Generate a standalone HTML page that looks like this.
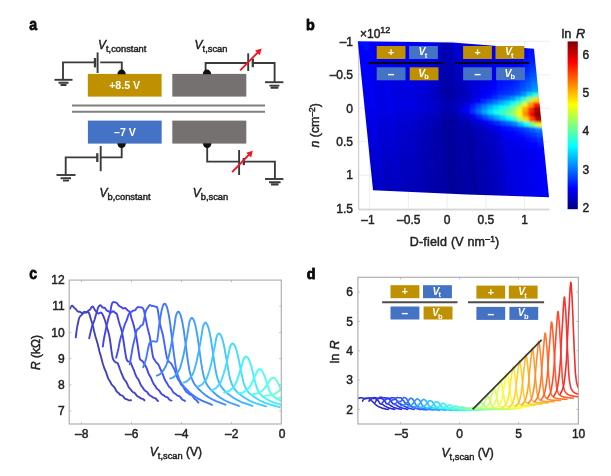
<!DOCTYPE html>
<html><head><meta charset="utf-8"><title>figure</title>
<style>html,body{margin:0;padding:0;background:#fff}svg{display:block;filter:blur(0.7px)}text{font-family:"Liberation Sans",sans-serif}text.k{stroke:#222;stroke-width:0.45px}</style></head>
<body>
<svg width="611" height="476" viewBox="0 0 611 476" font-family="Liberation Sans, sans-serif">
<rect width="611" height="476" fill="#fff"/>
<g id="pa"><rect x="87.8" y="73.9" width="73.8" height="22.7" fill="#BF9000"/><rect x="172.3" y="73.9" width="74" height="22.7" fill="#767171"/><rect x="87.9" y="120.6" width="73.8" height="23" fill="#4472C4"/><rect x="172.3" y="120.6" width="74" height="23" fill="#767171"/><path d="M72 105.5H265M72 111.8H265" stroke="#7f7f7f" stroke-width="1.9" fill="none"/><text x="124.6" y="89.4" font-size="10.6" font-weight="bold" fill="#fff" text-anchor="middle">+8.5 V</text><text x="125" y="136" font-size="10.6" font-weight="bold" fill="#fff" text-anchor="middle">–7 V</text><path d="M63 80V62.4H95M100.2 62.4H121.8V72" stroke="#3a3a3a" fill="none" stroke-width="1.85"/><path d="M95 58V67.4" stroke="#3a3a3a" fill="none" stroke-width="2.3"/><path d="M97.6 52.4V73" stroke="#3a3a3a" fill="none" stroke-width="1.9"/><path d="M54.5 79.8H72.5" stroke="#3a3a3a" fill="none" stroke-width="1.9"/><path d="M58.5 82.8H68.5M60.5 85H66.5" stroke="#3a3a3a" fill="none" stroke-width="1.9"/><path d="M117.4 74.2A4.2 4.6 0 0 1 125.8 74.2Z" fill="#111"/><path d="M65.7 175V157.4H97.3M100.7 157.4H121.7V146" stroke="#3a3a3a" fill="none" stroke-width="1.85"/><path d="M97.3 153.2V162" stroke="#3a3a3a" fill="none" stroke-width="2.3"/><path d="M100.7 146V171.2" stroke="#3a3a3a" fill="none" stroke-width="1.9"/><path d="M56.5 175H75.5" stroke="#3a3a3a" fill="none" stroke-width="1.9"/><path d="M60.6 178.3H71M63 180.6H69" stroke="#3a3a3a" fill="none" stroke-width="1.9"/><path d="M117.3 143.3A4.3 4.8 0 0 0 125.9 143.3Z" fill="#111"/><path d="M205.6 72V63H248.2M252.8 63H274.6V82.2" stroke="#3a3a3a" fill="none" stroke-width="1.85"/><path d="M248.2 53.3V71" stroke="#3a3a3a" fill="none" stroke-width="1.9"/><path d="M252.8 58.6V67.2" stroke="#3a3a3a" fill="none" stroke-width="2.3"/><path d="M265 82.2H283.4" stroke="#3a3a3a" fill="none" stroke-width="1.9"/><path d="M269.5 85.6H279.4M270.6 87.7H278.4" stroke="#3a3a3a" fill="none" stroke-width="1.9"/><path d="M202.8 74.2A4.2 4.6 0 0 1 211.2 74.2Z" fill="#111"/><path d="M240.2 70.4L258.6 51.6" stroke="#f5141e" stroke-width="1.9" fill="none"/><path d="M261.6 48.4L259.9 55.2L255.1 50.4Z" fill="#f5141e"/><path d="M207.2 146V161.6H239.1M243.8 161.6H274.9V179" stroke="#3a3a3a" fill="none" stroke-width="1.85"/><path d="M239.1 150V175" stroke="#3a3a3a" fill="none" stroke-width="1.9"/><path d="M243.8 158V165.2" stroke="#3a3a3a" fill="none" stroke-width="2.3"/><path d="M265 179H283.4" stroke="#3a3a3a" fill="none" stroke-width="1.9"/><path d="M269 182.2H280.6M271 184.5H278.5" stroke="#3a3a3a" fill="none" stroke-width="1.9"/><path d="M202.9 143.3A4.3 4.8 0 0 0 211.5 143.3Z" fill="#111"/><path d="M232.1 172.2L249.8 153.8" stroke="#f5141e" stroke-width="1.9" fill="none"/><path d="M252.8 150.7L251.1 157.5L246.3 152.7Z" fill="#f5141e"/><text x="98" y="48.8" font-size="12" class="k" fill="#222222"><tspan font-style="italic">V</tspan><tspan font-size="9.3" dy="3">t,constant</tspan></text><text x="194.6" y="48.8" font-size="12" class="k" fill="#222222"><tspan font-style="italic">V</tspan><tspan font-size="9.3" dy="3">t,scan</tspan></text><text x="99.6" y="196.6" font-size="12" class="k" fill="#222222"><tspan font-style="italic">V</tspan><tspan font-size="9.3" dy="3">b,constant</tspan></text><text x="192.8" y="196.6" font-size="12" class="k" fill="#222222"><tspan font-style="italic">V</tspan><tspan font-size="9.3" dy="3">b,scan</tspan></text></g>
<g id="pb"><path d="M369.6 41.2V209.8M408.4 41.2V209.8M447.1 41.2V209.8M485.9 41.2V209.8M524.6 41.2V209.8M358.7 41.3H549.5M358.7 74.8H549.5M358.7 108.2H549.5M358.7 141.7H549.5M358.7 175.1H549.5M358.7 208.6H549.5" stroke="#e9e9e9" stroke-width="0.8" fill="none"/><path d="M358.7 41.2V209.8H549.5" stroke="#bdbdbd" stroke-width="0.9" fill="none"/><defs><clipPath id="hc"><polygon points="357.8,41.2 453.0,42.4 534.0,48.8 549.0,197.3 467.0,194.6 373.0,190.3"/></clipPath><filter id="hb" x="-5%" y="-5%" width="110%" height="110%"><feGaussianBlur stdDeviation="1.0"/></filter></defs><g clip-path="url(#hc)"><g filter="url(#hb)" stroke-width="1.1" stroke-linejoin="round"><polygon points="351.3,36.2 357.3,36.2 357.8,41.2 351.9,41.1" fill="#001fff" stroke="#001fff"/><polygon points="351.9,41.1 357.8,41.2 358.3,46.2 352.4,46.1" fill="#0018ff" stroke="#0018ff"/><polygon points="352.4,46.1 358.3,46.2 358.8,51.1 352.9,51.1" fill="#0013ff" stroke="#0013ff"/><polygon points="352.9,51.1 358.8,51.1 359.3,56.1 353.4,56" fill="#000eff" stroke="#000eff"/><polygon points="353.4,56 359.3,56.1 359.8,61.1 353.9,61" fill="#000bff" stroke="#000bff"/><polygon points="353.9,61 359.8,61.1 360.3,66.1 354.4,65.9" fill="#0008ff" stroke="#0008ff"/><polygon points="354.4,65.9 360.3,66.1 360.8,71 354.9,70.9" fill="#0006ff" stroke="#0006ff"/><polygon points="354.9,70.9 360.8,71 361.3,76 355.4,75.9" fill="#0004ff" stroke="#0004ff"/><polygon points="355.4,75.9 361.3,76 361.9,81 355.9,80.8" fill="#0003ff" stroke="#0003ff"/><polygon points="355.9,80.8 361.9,81 362.4,85.9 356.4,85.8" fill="#0002ff" stroke="#0002ff"/><polygon points="356.4,85.8 362.4,85.9 362.9,90.9 356.9,90.8" fill="#0001ff" stroke="#0001ff"/><polygon points="356.9,90.8 362.9,90.9 363.4,95.9 357.5,95.7" fill="#0000ff" stroke="#0000ff"/><polygon points="357.5,95.7 363.4,95.9 363.9,100.8 358,100.7" fill="#0000fe" stroke="#0000fe"/><polygon points="358,100.7 363.9,100.8 364.4,105.8 358.5,105.7" fill="#0000fe" stroke="#0000fe"/><polygon points="358.5,105.7 364.4,105.8 364.9,110.8 359,110.6" fill="#0000fc" stroke="#0000fc"/><polygon points="359,110.6 364.9,110.8 365.4,115.8 359.5,115.6" fill="#0000f8" stroke="#0000f8"/><polygon points="359.5,115.6 365.4,115.8 365.9,120.7 360,120.5" fill="#0000f3" stroke="#0000f3"/><polygon points="360,120.5 365.9,120.7 366.4,125.7 360.5,125.5" fill="#0000f0" stroke="#0000f0"/><polygon points="360.5,125.5 366.4,125.7 366.9,130.7 361,130.5" fill="#0000ed" stroke="#0000ed"/><polygon points="361,130.5 366.9,130.7 367.4,135.6 361.5,135.4" fill="#0000eb" stroke="#0000eb"/><polygon points="361.5,135.4 367.4,135.6 367.9,140.6 362,140.4" fill="#0000e8" stroke="#0000e8"/><polygon points="362,140.4 367.9,140.6 368.4,145.6 362.5,145.4" fill="#0000e6" stroke="#0000e6"/><polygon points="362.5,145.4 368.4,145.6 368.9,150.5 363.1,150.3" fill="#0000e4" stroke="#0000e4"/><polygon points="363.1,150.3 368.9,150.5 369.5,155.5 363.6,155.3" fill="#0000e1" stroke="#0000e1"/><polygon points="363.6,155.3 369.5,155.5 370,160.5 364.1,160.2" fill="#0000df" stroke="#0000df"/><polygon points="364.1,160.2 370,160.5 370.5,165.5 364.6,165.2" fill="#0000dc" stroke="#0000dc"/><polygon points="364.6,165.2 370.5,165.5 371,170.4 365.1,170.2" fill="#0000da" stroke="#0000da"/><polygon points="365.1,170.2 371,170.4 371.5,175.4 365.6,175.1" fill="#0000d8" stroke="#0000d8"/><polygon points="365.6,175.1 371.5,175.4 372,180.4 366.1,180.1" fill="#0000d5" stroke="#0000d5"/><polygon points="366.1,180.1 372,180.4 372.5,185.3 366.6,185.1" fill="#0000d3" stroke="#0000d3"/><polygon points="366.6,185.1 372.5,185.3 373,190.3 367.1,190" fill="#0000d1" stroke="#0000d1"/><polygon points="367.1,190 373,190.3 373.5,195.3 367.6,195" fill="#0000ce" stroke="#0000ce"/><polygon points="357.3,36.2 363.2,36.3 363.8,41.3 357.8,41.2" fill="#0010ff" stroke="#0010ff"/><polygon points="357.8,41.2 363.8,41.3 364.3,46.3 358.3,46.2" fill="#0009ff" stroke="#0009ff"/><polygon points="358.3,46.2 364.3,46.3 364.8,51.2 358.8,51.1" fill="#0003ff" stroke="#0003ff"/><polygon points="358.8,51.1 364.8,51.2 365.3,56.2 359.3,56.1" fill="#0000fe" stroke="#0000fe"/><polygon points="359.3,56.1 365.3,56.2 365.8,61.2 359.8,61.1" fill="#0000fb" stroke="#0000fb"/><polygon points="359.8,61.1 365.8,61.2 366.3,66.2 360.3,66.1" fill="#0000f8" stroke="#0000f8"/><polygon points="360.3,66.1 366.3,66.2 366.8,71.1 360.8,71" fill="#0000f6" stroke="#0000f6"/><polygon points="360.8,71 366.8,71.1 367.3,76.1 361.3,76" fill="#0000f4" stroke="#0000f4"/><polygon points="361.3,76 367.3,76.1 367.8,81.1 361.9,81" fill="#0000f3" stroke="#0000f3"/><polygon points="361.9,81 367.8,81.1 368.3,86.1 362.4,85.9" fill="#0000f1" stroke="#0000f1"/><polygon points="362.4,85.9 368.3,86.1 368.8,91 362.9,90.9" fill="#0000f1" stroke="#0000f1"/><polygon points="362.9,90.9 368.8,91 369.3,96 363.4,95.9" fill="#0000f0" stroke="#0000f0"/><polygon points="363.4,95.9 369.3,96 369.8,101 363.9,100.8" fill="#0000ef" stroke="#0000ef"/><polygon points="363.9,100.8 369.8,101 370.3,106 364.4,105.8" fill="#0000ef" stroke="#0000ef"/><polygon points="364.4,105.8 370.3,106 370.8,110.9 364.9,110.8" fill="#0000ee" stroke="#0000ee"/><polygon points="364.9,110.8 370.8,110.9 371.3,115.9 365.4,115.8" fill="#0000ea" stroke="#0000ea"/><polygon points="365.4,115.8 371.3,115.9 371.8,120.9 365.9,120.7" fill="#0000e5" stroke="#0000e5"/><polygon points="365.9,120.7 371.8,120.9 372.3,125.9 366.4,125.7" fill="#0000e2" stroke="#0000e2"/><polygon points="366.4,125.7 372.3,125.9 372.8,130.9 366.9,130.7" fill="#0000df" stroke="#0000df"/><polygon points="366.9,130.7 372.8,130.9 373.3,135.8 367.4,135.6" fill="#0000dd" stroke="#0000dd"/><polygon points="367.4,135.6 373.3,135.8 373.8,140.8 367.9,140.6" fill="#0000db" stroke="#0000db"/><polygon points="367.9,140.6 373.8,140.8 374.3,145.8 368.4,145.6" fill="#0000d8" stroke="#0000d8"/><polygon points="368.4,145.6 374.3,145.8 374.8,150.8 368.9,150.5" fill="#0000d6" stroke="#0000d6"/><polygon points="368.9,150.5 374.8,150.8 375.3,155.7 369.5,155.5" fill="#0000d4" stroke="#0000d4"/><polygon points="369.5,155.5 375.3,155.7 375.9,160.7 370,160.5" fill="#0000d2" stroke="#0000d2"/><polygon points="370,160.5 375.9,160.7 376.4,165.7 370.5,165.5" fill="#0000cf" stroke="#0000cf"/><polygon points="370.5,165.5 376.4,165.7 376.9,170.7 371,170.4" fill="#0000cd" stroke="#0000cd"/><polygon points="371,170.4 376.9,170.7 377.4,175.6 371.5,175.4" fill="#0000cb" stroke="#0000cb"/><polygon points="371.5,175.4 377.4,175.6 377.9,180.6 372,180.4" fill="#0000c9" stroke="#0000c9"/><polygon points="372,180.4 377.9,180.6 378.4,185.6 372.5,185.3" fill="#0000c7" stroke="#0000c7"/><polygon points="372.5,185.3 378.4,185.6 378.9,190.6 373,190.3" fill="#0000c4" stroke="#0000c4"/><polygon points="373,190.3 378.9,190.6 379.4,195.5 373.5,195.3" fill="#0000c2" stroke="#0000c2"/><polygon points="363.2,36.3 369.2,36.4 369.7,41.4 363.8,41.3" fill="#0014ff" stroke="#0014ff"/><polygon points="363.8,41.3 369.7,41.4 370.2,46.3 364.3,46.3" fill="#000dff" stroke="#000dff"/><polygon points="364.3,46.3 370.2,46.3 370.7,51.3 364.8,51.2" fill="#0008ff" stroke="#0008ff"/><polygon points="364.8,51.2 370.7,51.3 371.2,56.3 365.3,56.2" fill="#0003ff" stroke="#0003ff"/><polygon points="365.3,56.2 371.2,56.3 371.7,61.3 365.8,61.2" fill="#0000ff" stroke="#0000ff"/><polygon points="365.8,61.2 371.7,61.3 372.2,66.3 366.3,66.2" fill="#0000fc" stroke="#0000fc"/><polygon points="366.3,66.2 372.2,66.3 372.7,71.2 366.8,71.1" fill="#0000fa" stroke="#0000fa"/><polygon points="366.8,71.1 372.7,71.2 373.2,76.2 367.3,76.1" fill="#0000f8" stroke="#0000f8"/><polygon points="367.3,76.1 373.2,76.2 373.7,81.2 367.8,81.1" fill="#0000f7" stroke="#0000f7"/><polygon points="367.8,81.1 373.7,81.2 374.2,86.2 368.3,86.1" fill="#0000f6" stroke="#0000f6"/><polygon points="368.3,86.1 374.2,86.2 374.7,91.2 368.8,91" fill="#0000f5" stroke="#0000f5"/><polygon points="368.8,91 374.7,91.2 375.2,96.2 369.3,96" fill="#0000f4" stroke="#0000f4"/><polygon points="369.3,96 375.2,96.2 375.7,101.1 369.8,101" fill="#0000f4" stroke="#0000f4"/><polygon points="369.8,101 375.7,101.1 376.2,106.1 370.3,106" fill="#0000f4" stroke="#0000f4"/><polygon points="370.3,106 376.2,106.1 376.7,111.1 370.8,110.9" fill="#0000f4" stroke="#0000f4"/><polygon points="370.8,110.9 376.7,111.1 377.2,116.1 371.3,115.9" fill="#0000ef" stroke="#0000ef"/><polygon points="371.3,115.9 377.2,116.1 377.7,121.1 371.8,120.9" fill="#0000ea" stroke="#0000ea"/><polygon points="371.8,120.9 377.7,121.1 378.2,126.1 372.3,125.9" fill="#0000e7" stroke="#0000e7"/><polygon points="372.3,125.9 378.2,126.1 378.7,131 372.8,130.9" fill="#0000e5" stroke="#0000e5"/><polygon points="372.8,130.9 378.7,131 379.2,136 373.3,135.8" fill="#0000e2" stroke="#0000e2"/><polygon points="373.3,135.8 379.2,136 379.7,141 373.8,140.8" fill="#0000e0" stroke="#0000e0"/><polygon points="373.8,140.8 379.7,141 380.2,146 374.3,145.8" fill="#0000de" stroke="#0000de"/><polygon points="374.3,145.8 380.2,146 380.7,151 374.8,150.8" fill="#0000dc" stroke="#0000dc"/><polygon points="374.8,150.8 380.7,151 381.2,156 375.3,155.7" fill="#0000da" stroke="#0000da"/><polygon points="375.3,155.7 381.2,156 381.7,160.9 375.9,160.7" fill="#0000d8" stroke="#0000d8"/><polygon points="375.9,160.7 381.7,160.9 382.2,165.9 376.4,165.7" fill="#0000d6" stroke="#0000d6"/><polygon points="376.4,165.7 382.2,165.9 382.7,170.9 376.9,170.7" fill="#0000d3" stroke="#0000d3"/><polygon points="376.9,170.7 382.7,170.9 383.2,175.9 377.4,175.6" fill="#0000d1" stroke="#0000d1"/><polygon points="377.4,175.6 383.2,175.9 383.7,180.9 377.9,180.6" fill="#0000cf" stroke="#0000cf"/><polygon points="377.9,180.6 383.7,180.9 384.2,185.9 378.4,185.6" fill="#0000cd" stroke="#0000cd"/><polygon points="378.4,185.6 384.2,185.9 384.8,190.8 378.9,190.6" fill="#0000cb" stroke="#0000cb"/><polygon points="378.9,190.6 384.8,190.8 385.3,195.8 379.4,195.5" fill="#0000c9" stroke="#0000c9"/><polygon points="369.2,36.4 375.2,36.4 375.7,41.4 369.7,41.4" fill="#0005ff" stroke="#0005ff"/><polygon points="369.7,41.4 375.7,41.4 376.1,46.4 370.2,46.3" fill="#0000fd" stroke="#0000fd"/><polygon points="370.2,46.3 376.1,46.4 376.6,51.4 370.7,51.3" fill="#0000f8" stroke="#0000f8"/><polygon points="370.7,51.3 376.6,51.4 377.1,56.4 371.2,56.3" fill="#0000f3" stroke="#0000f3"/><polygon points="371.2,56.3 377.1,56.4 377.6,61.4 371.7,61.3" fill="#0000f0" stroke="#0000f0"/><polygon points="371.7,61.3 377.6,61.4 378.1,66.4 372.2,66.3" fill="#0000ed" stroke="#0000ed"/><polygon points="372.2,66.3 378.1,66.4 378.6,71.4 372.7,71.2" fill="#0000eb" stroke="#0000eb"/><polygon points="372.7,71.2 378.6,71.4 379.1,76.4 373.2,76.2" fill="#0000e9" stroke="#0000e9"/><polygon points="373.2,76.2 379.1,76.4 379.6,81.3 373.7,81.2" fill="#0000e8" stroke="#0000e8"/><polygon points="373.7,81.2 379.6,81.3 380.1,86.3 374.2,86.2" fill="#0000e7" stroke="#0000e7"/><polygon points="374.2,86.2 380.1,86.3 380.6,91.3 374.7,91.2" fill="#0000e6" stroke="#0000e6"/><polygon points="374.7,91.2 380.6,91.3 381.1,96.3 375.2,96.2" fill="#0000e6" stroke="#0000e6"/><polygon points="375.2,96.2 381.1,96.3 381.6,101.3 375.7,101.1" fill="#0000e5" stroke="#0000e5"/><polygon points="375.7,101.1 381.6,101.3 382.1,106.3 376.2,106.1" fill="#0000e6" stroke="#0000e6"/><polygon points="376.2,106.1 382.1,106.3 382.6,111.3 376.7,111.1" fill="#0000e6" stroke="#0000e6"/><polygon points="376.7,111.1 382.6,111.3 383.1,116.3 377.2,116.1" fill="#0000e1" stroke="#0000e1"/><polygon points="377.2,116.1 383.1,116.3 383.6,121.3 377.7,121.1" fill="#0000dc" stroke="#0000dc"/><polygon points="377.7,121.1 383.6,121.3 384.1,126.2 378.2,126.1" fill="#0000d9" stroke="#0000d9"/><polygon points="378.2,126.1 384.1,126.2 384.6,131.2 378.7,131" fill="#0000d7" stroke="#0000d7"/><polygon points="378.7,131 384.6,131.2 385.1,136.2 379.2,136" fill="#0000d4" stroke="#0000d4"/><polygon points="379.2,136 385.1,136.2 385.6,141.2 379.7,141" fill="#0000d2" stroke="#0000d2"/><polygon points="379.7,141 385.6,141.2 386.1,146.2 380.2,146" fill="#0000d0" stroke="#0000d0"/><polygon points="380.2,146 386.1,146.2 386.6,151.2 380.7,151" fill="#0000ce" stroke="#0000ce"/><polygon points="380.7,151 386.6,151.2 387.1,156.2 381.2,156" fill="#0000cc" stroke="#0000cc"/><polygon points="381.2,156 387.1,156.2 387.6,161.2 381.7,160.9" fill="#0000ca" stroke="#0000ca"/><polygon points="381.7,160.9 387.6,161.2 388.1,166.2 382.2,165.9" fill="#0000c8" stroke="#0000c8"/><polygon points="382.2,165.9 388.1,166.2 388.6,171.1 382.7,170.9" fill="#0000c6" stroke="#0000c6"/><polygon points="382.7,170.9 388.6,171.1 389.1,176.1 383.2,175.9" fill="#0000c4" stroke="#0000c4"/><polygon points="383.2,175.9 389.1,176.1 389.6,181.1 383.7,180.9" fill="#0000c2" stroke="#0000c2"/><polygon points="383.7,180.9 389.6,181.1 390.1,186.1 384.2,185.9" fill="#0000c0" stroke="#0000c0"/><polygon points="384.2,185.9 390.1,186.1 390.6,191.1 384.8,190.8" fill="#0000bf" stroke="#0000bf"/><polygon points="384.8,190.8 390.6,191.1 391.1,196.1 385.3,195.8" fill="#0000bd" stroke="#0000bd"/><polygon points="375.2,36.4 381.1,36.5 381.6,41.5 375.7,41.4" fill="#0004ff" stroke="#0004ff"/><polygon points="375.7,41.4 381.6,41.5 382.1,46.5 376.1,46.4" fill="#0000fc" stroke="#0000fc"/><polygon points="376.1,46.4 382.1,46.5 382.6,51.5 376.6,51.4" fill="#0000f7" stroke="#0000f7"/><polygon points="376.6,51.4 382.6,51.5 383.1,56.5 377.1,56.4" fill="#0000f3" stroke="#0000f3"/><polygon points="377.1,56.4 383.1,56.5 383.6,61.5 377.6,61.4" fill="#0000ef" stroke="#0000ef"/><polygon points="377.6,61.4 383.6,61.5 384.1,66.5 378.1,66.4" fill="#0000ec" stroke="#0000ec"/><polygon points="378.1,66.4 384.1,66.5 384.6,71.5 378.6,71.4" fill="#0000ea" stroke="#0000ea"/><polygon points="378.6,71.4 384.6,71.5 385.1,76.5 379.1,76.4" fill="#0000e9" stroke="#0000e9"/><polygon points="379.1,76.4 385.1,76.5 385.6,81.5 379.6,81.3" fill="#0000e7" stroke="#0000e7"/><polygon points="379.6,81.3 385.6,81.5 386.1,86.5 380.1,86.3" fill="#0000e6" stroke="#0000e6"/><polygon points="380.1,86.3 386.1,86.5 386.6,91.5 380.6,91.3" fill="#0000e5" stroke="#0000e5"/><polygon points="380.6,91.3 386.6,91.5 387.1,96.5 381.1,96.3" fill="#0000e5" stroke="#0000e5"/><polygon points="381.1,96.3 387.1,96.5 387.6,101.5 381.6,101.3" fill="#0000e5" stroke="#0000e5"/><polygon points="381.6,101.3 387.6,101.5 388.1,106.4 382.1,106.3" fill="#0000e6" stroke="#0000e6"/><polygon points="382.1,106.3 388.1,106.4 388.6,111.4 382.6,111.3" fill="#0000e6" stroke="#0000e6"/><polygon points="382.6,111.3 388.6,111.4 389.1,116.4 383.1,116.3" fill="#0000e1" stroke="#0000e1"/><polygon points="383.1,116.3 389.1,116.4 389.5,121.4 383.6,121.3" fill="#0000dc" stroke="#0000dc"/><polygon points="383.6,121.3 389.5,121.4 390,126.4 384.1,126.2" fill="#0000d9" stroke="#0000d9"/><polygon points="384.1,126.2 390,126.4 390.5,131.4 384.6,131.2" fill="#0000d6" stroke="#0000d6"/><polygon points="384.6,131.2 390.5,131.4 391,136.4 385.1,136.2" fill="#0000d4" stroke="#0000d4"/><polygon points="385.1,136.2 391,136.4 391.5,141.4 385.6,141.2" fill="#0000d2" stroke="#0000d2"/><polygon points="385.6,141.2 391.5,141.4 392,146.4 386.1,146.2" fill="#0000d0" stroke="#0000d0"/><polygon points="386.1,146.2 392,146.4 392.5,151.4 386.6,151.2" fill="#0000ce" stroke="#0000ce"/><polygon points="386.6,151.2 392.5,151.4 393,156.4 387.1,156.2" fill="#0000cc" stroke="#0000cc"/><polygon points="387.1,156.2 393,156.4 393.5,161.4 387.6,161.2" fill="#0000ca" stroke="#0000ca"/><polygon points="387.6,161.2 393.5,161.4 394,166.4 388.1,166.2" fill="#0000c8" stroke="#0000c8"/><polygon points="388.1,166.2 394,166.4 394.5,171.4 388.6,171.1" fill="#0000c6" stroke="#0000c6"/><polygon points="388.6,171.1 394.5,171.4 395,176.4 389.1,176.1" fill="#0000c5" stroke="#0000c5"/><polygon points="389.1,176.1 395,176.4 395.5,181.4 389.6,181.1" fill="#0000c3" stroke="#0000c3"/><polygon points="389.6,181.1 395.5,181.4 396,186.4 390.1,186.1" fill="#0000c1" stroke="#0000c1"/><polygon points="390.1,186.1 396,186.4 396.5,191.4 390.6,191.1" fill="#0000bf" stroke="#0000bf"/><polygon points="390.6,191.1 396.5,191.4 397,196.4 391.1,196.1" fill="#0000be" stroke="#0000be"/><polygon points="381.1,36.5 387.1,36.6 387.6,41.6 381.6,41.5" fill="#0009ff" stroke="#0009ff"/><polygon points="381.6,41.5 387.6,41.6 388,46.6 382.1,46.5" fill="#0002ff" stroke="#0002ff"/><polygon points="382.1,46.5 388,46.6 388.5,51.6 382.6,51.5" fill="#0000fc" stroke="#0000fc"/><polygon points="382.6,51.5 388.5,51.6 389,56.6 383.1,56.5" fill="#0000f7" stroke="#0000f7"/><polygon points="383.1,56.5 389,56.6 389.5,61.6 383.6,61.5" fill="#0000f4" stroke="#0000f4"/><polygon points="383.6,61.5 389.5,61.6 390,66.6 384.1,66.5" fill="#0000f1" stroke="#0000f1"/><polygon points="384.1,66.5 390,66.6 390.5,71.6 384.6,71.5" fill="#0000ef" stroke="#0000ef"/><polygon points="384.6,71.5 390.5,71.6 391,76.6 385.1,76.5" fill="#0000ed" stroke="#0000ed"/><polygon points="385.1,76.5 391,76.6 391.5,81.6 385.6,81.5" fill="#0000ec" stroke="#0000ec"/><polygon points="385.6,81.5 391.5,81.6 392,86.6 386.1,86.5" fill="#0000eb" stroke="#0000eb"/><polygon points="386.1,86.5 392,86.6 392.5,91.6 386.6,91.5" fill="#0000ea" stroke="#0000ea"/><polygon points="386.6,91.5 392.5,91.6 393,96.6 387.1,96.5" fill="#0000ea" stroke="#0000ea"/><polygon points="387.1,96.5 393,96.6 393.5,101.6 387.6,101.5" fill="#0000ea" stroke="#0000ea"/><polygon points="387.6,101.5 393.5,101.6 394,106.6 388.1,106.4" fill="#0000ec" stroke="#0000ec"/><polygon points="388.1,106.4 394,106.6 394.5,111.6 388.6,111.4" fill="#0000eb" stroke="#0000eb"/><polygon points="388.6,111.4 394.5,111.6 395,116.6 389.1,116.4" fill="#0000e6" stroke="#0000e6"/><polygon points="389.1,116.4 395,116.6 395.5,121.6 389.5,121.4" fill="#0000e1" stroke="#0000e1"/><polygon points="389.5,121.4 395.5,121.6 396,126.6 390,126.4" fill="#0000dd" stroke="#0000dd"/><polygon points="390,126.4 396,126.6 396.4,131.6 390.5,131.4" fill="#0000db" stroke="#0000db"/><polygon points="390.5,131.4 396.4,131.6 396.9,136.6 391,136.4" fill="#0000d9" stroke="#0000d9"/><polygon points="391,136.4 396.9,136.6 397.4,141.6 391.5,141.4" fill="#0000d7" stroke="#0000d7"/><polygon points="391.5,141.4 397.4,141.6 397.9,146.6 392,146.4" fill="#0000d5" stroke="#0000d5"/><polygon points="392,146.4 397.9,146.6 398.4,151.6 392.5,151.4" fill="#0000d3" stroke="#0000d3"/><polygon points="392.5,151.4 398.4,151.6 398.9,156.6 393,156.4" fill="#0000d1" stroke="#0000d1"/><polygon points="393,156.4 398.9,156.6 399.4,161.6 393.5,161.4" fill="#0000cf" stroke="#0000cf"/><polygon points="393.5,161.4 399.4,161.6 399.9,166.6 394,166.4" fill="#0000cd" stroke="#0000cd"/><polygon points="394,166.4 399.9,166.6 400.4,171.6 394.5,171.4" fill="#0000cb" stroke="#0000cb"/><polygon points="394.5,171.4 400.4,171.6 400.9,176.6 395,176.4" fill="#0000ca" stroke="#0000ca"/><polygon points="395,176.4 400.9,176.6 401.4,181.6 395.5,181.4" fill="#0000c8" stroke="#0000c8"/><polygon points="395.5,181.4 401.4,181.6 401.9,186.6 396,186.4" fill="#0000c6" stroke="#0000c6"/><polygon points="396,186.4 401.9,186.6 402.4,191.6 396.5,191.4" fill="#0000c5" stroke="#0000c5"/><polygon points="396.5,191.4 402.4,191.6 402.9,196.6 397,196.4" fill="#0000c3" stroke="#0000c3"/><polygon points="387.1,36.6 393,36.6 393.5,41.6 387.6,41.6" fill="#0000fd" stroke="#0000fd"/><polygon points="387.6,41.6 393.5,41.6 394,46.7 388,46.6" fill="#0000f6" stroke="#0000f6"/><polygon points="388,46.6 394,46.7 394.5,51.7 388.5,51.6" fill="#0000f1" stroke="#0000f1"/><polygon points="388.5,51.6 394.5,51.7 395,56.7 389,56.6" fill="#0000ec" stroke="#0000ec"/><polygon points="389,56.6 395,56.7 395.5,61.7 389.5,61.6" fill="#0000e9" stroke="#0000e9"/><polygon points="389.5,61.6 395.5,61.7 396,66.7 390,66.6" fill="#0000e6" stroke="#0000e6"/><polygon points="390,66.6 396,66.7 396.4,71.7 390.5,71.6" fill="#0000e4" stroke="#0000e4"/><polygon points="390.5,71.6 396.4,71.7 396.9,76.7 391,76.6" fill="#0000e2" stroke="#0000e2"/><polygon points="391,76.6 396.9,76.7 397.4,81.7 391.5,81.6" fill="#0000e1" stroke="#0000e1"/><polygon points="391.5,81.6 397.4,81.7 397.9,86.7 392,86.6" fill="#0000e0" stroke="#0000e0"/><polygon points="392,86.6 397.9,86.7 398.4,91.7 392.5,91.6" fill="#0000df" stroke="#0000df"/><polygon points="392.5,91.6 398.4,91.7 398.9,96.7 393,96.6" fill="#0000df" stroke="#0000df"/><polygon points="393,96.6 398.9,96.7 399.4,101.8 393.5,101.6" fill="#0000df" stroke="#0000df"/><polygon points="393.5,101.6 399.4,101.8 399.9,106.8 394,106.6" fill="#0000e1" stroke="#0000e1"/><polygon points="394,106.6 399.9,106.8 400.4,111.8 394.5,111.6" fill="#0000e1" stroke="#0000e1"/><polygon points="394.5,111.6 400.4,111.8 400.9,116.8 395,116.6" fill="#0000db" stroke="#0000db"/><polygon points="395,116.6 400.9,116.8 401.4,121.8 395.5,121.6" fill="#0000d5" stroke="#0000d5"/><polygon points="395.5,121.6 401.4,121.8 401.9,126.8 396,126.6" fill="#0000d2" stroke="#0000d2"/><polygon points="396,126.6 401.9,126.8 402.4,131.8 396.4,131.6" fill="#0000cf" stroke="#0000cf"/><polygon points="396.4,131.6 402.4,131.8 402.8,136.8 396.9,136.6" fill="#0000cd" stroke="#0000cd"/><polygon points="396.9,136.6 402.8,136.8 403.3,141.8 397.4,141.6" fill="#0000cb" stroke="#0000cb"/><polygon points="397.4,141.6 403.3,141.8 403.8,146.8 397.9,146.6" fill="#0000c9" stroke="#0000c9"/><polygon points="397.9,146.6 403.8,146.8 404.3,151.8 398.4,151.6" fill="#0000c7" stroke="#0000c7"/><polygon points="398.4,151.6 404.3,151.8 404.8,156.9 398.9,156.6" fill="#0000c5" stroke="#0000c5"/><polygon points="398.9,156.6 404.8,156.9 405.3,161.9 399.4,161.6" fill="#0000c3" stroke="#0000c3"/><polygon points="399.4,161.6 405.3,161.9 405.8,166.9 399.9,166.6" fill="#0000c1" stroke="#0000c1"/><polygon points="399.9,166.6 405.8,166.9 406.3,171.9 400.4,171.6" fill="#0000c0" stroke="#0000c0"/><polygon points="400.4,171.6 406.3,171.9 406.8,176.9 400.9,176.6" fill="#0000be" stroke="#0000be"/><polygon points="400.9,176.6 406.8,176.9 407.3,181.9 401.4,181.6" fill="#0000bd" stroke="#0000bd"/><polygon points="401.4,181.6 407.3,181.9 407.8,186.9 401.9,186.6" fill="#0000bb" stroke="#0000bb"/><polygon points="401.9,186.6 407.8,186.9 408.2,191.9 402.4,191.6" fill="#0000ba" stroke="#0000ba"/><polygon points="402.4,191.6 408.2,191.9 408.7,196.9 402.9,196.6" fill="#0000b8" stroke="#0000b8"/><polygon points="393,36.6 399,36.7 399.4,41.7 393.5,41.6" fill="#0000fd" stroke="#0000fd"/><polygon points="393.5,41.6 399.4,41.7 399.9,46.7 394,46.7" fill="#0000f7" stroke="#0000f7"/><polygon points="394,46.7 399.9,46.7 400.4,51.8 394.5,51.7" fill="#0000f1" stroke="#0000f1"/><polygon points="394.5,51.7 400.4,51.8 400.9,56.8 395,56.7" fill="#0000ed" stroke="#0000ed"/><polygon points="395,56.7 400.9,56.8 401.4,61.8 395.5,61.7" fill="#0000ea" stroke="#0000ea"/><polygon points="395.5,61.7 401.4,61.8 401.9,66.8 396,66.7" fill="#0000e7" stroke="#0000e7"/><polygon points="396,66.7 401.9,66.8 402.4,71.8 396.4,71.7" fill="#0000e5" stroke="#0000e5"/><polygon points="396.4,71.7 402.4,71.8 402.9,76.8 396.9,76.7" fill="#0000e3" stroke="#0000e3"/><polygon points="396.9,76.7 402.9,76.8 403.4,81.8 397.4,81.7" fill="#0000e2" stroke="#0000e2"/><polygon points="397.4,81.7 403.4,81.8 403.9,86.9 397.9,86.7" fill="#0000e1" stroke="#0000e1"/><polygon points="397.9,86.7 403.9,86.9 404.3,91.9 398.4,91.7" fill="#0000e0" stroke="#0000e0"/><polygon points="398.4,91.7 404.3,91.9 404.8,96.9 398.9,96.7" fill="#0000e0" stroke="#0000e0"/><polygon points="398.9,96.7 404.8,96.9 405.3,101.9 399.4,101.8" fill="#0000e0" stroke="#0000e0"/><polygon points="399.4,101.8 405.3,101.9 405.8,106.9 399.9,106.8" fill="#0000e3" stroke="#0000e3"/><polygon points="399.9,106.8 405.8,106.9 406.3,111.9 400.4,111.8" fill="#0000e2" stroke="#0000e2"/><polygon points="400.4,111.8 406.3,111.9 406.8,117 400.9,116.8" fill="#0000db" stroke="#0000db"/><polygon points="400.9,116.8 406.8,117 407.3,122 401.4,121.8" fill="#0000d5" stroke="#0000d5"/><polygon points="401.4,121.8 407.3,122 407.8,127 401.9,126.8" fill="#0000d1" stroke="#0000d1"/><polygon points="401.9,126.8 407.8,127 408.3,132 402.4,131.8" fill="#0000ce" stroke="#0000ce"/><polygon points="402.4,131.8 408.3,132 408.7,137 402.8,136.8" fill="#0000cc" stroke="#0000cc"/><polygon points="402.8,136.8 408.7,137 409.2,142 403.3,141.8" fill="#0000ca" stroke="#0000ca"/><polygon points="403.3,141.8 409.2,142 409.7,147 403.8,146.8" fill="#0000c7" stroke="#0000c7"/><polygon points="403.8,146.8 409.7,147 410.2,152.1 404.3,151.8" fill="#0000c6" stroke="#0000c6"/><polygon points="404.3,151.8 410.2,152.1 410.7,157.1 404.8,156.9" fill="#0000c4" stroke="#0000c4"/><polygon points="404.8,156.9 410.7,157.1 411.2,162.1 405.3,161.9" fill="#0000c2" stroke="#0000c2"/><polygon points="405.3,161.9 411.2,162.1 411.7,167.1 405.8,166.9" fill="#0000c0" stroke="#0000c0"/><polygon points="405.8,166.9 411.7,167.1 412.2,172.1 406.3,171.9" fill="#0000bf" stroke="#0000bf"/><polygon points="406.3,171.9 412.2,172.1 412.7,177.1 406.8,176.9" fill="#0000be" stroke="#0000be"/><polygon points="406.8,176.9 412.7,177.1 413.1,182.2 407.3,181.9" fill="#0000bc" stroke="#0000bc"/><polygon points="407.3,181.9 413.1,182.2 413.6,187.2 407.8,186.9" fill="#0000bb" stroke="#0000bb"/><polygon points="407.8,186.9 413.6,187.2 414.1,192.2 408.2,191.9" fill="#0000ba" stroke="#0000ba"/><polygon points="408.2,191.9 414.1,192.2 414.6,197.2 408.7,196.9" fill="#0000b8" stroke="#0000b8"/><polygon points="399,36.7 404.9,36.8 405.4,41.8 399.4,41.7" fill="#0001ff" stroke="#0001ff"/><polygon points="399.4,41.7 405.4,41.8 405.9,46.8 399.9,46.7" fill="#0000fa" stroke="#0000fa"/><polygon points="399.9,46.7 405.9,46.8 406.4,51.8 400.4,51.8" fill="#0000f4" stroke="#0000f4"/><polygon points="400.4,51.8 406.4,51.8 406.9,56.9 400.9,56.8" fill="#0000f0" stroke="#0000f0"/><polygon points="400.9,56.8 406.9,56.9 407.3,61.9 401.4,61.8" fill="#0000ed" stroke="#0000ed"/><polygon points="401.4,61.8 407.3,61.9 407.8,66.9 401.9,66.8" fill="#0000ea" stroke="#0000ea"/><polygon points="401.9,66.8 407.8,66.9 408.3,71.9 402.4,71.8" fill="#0000e8" stroke="#0000e8"/><polygon points="402.4,71.8 408.3,71.9 408.8,77 402.9,76.8" fill="#0000e6" stroke="#0000e6"/><polygon points="402.9,76.8 408.8,77 409.3,82 403.4,81.8" fill="#0000e5" stroke="#0000e5"/><polygon points="403.4,81.8 409.3,82 409.8,87 403.9,86.9" fill="#0000e4" stroke="#0000e4"/><polygon points="403.9,86.9 409.8,87 410.3,92 404.3,91.9" fill="#0000e3" stroke="#0000e3"/><polygon points="404.3,91.9 410.3,92 410.8,97 404.8,96.9" fill="#0000e2" stroke="#0000e2"/><polygon points="404.8,96.9 410.8,97 411.2,102.1 405.3,101.9" fill="#0000e3" stroke="#0000e3"/><polygon points="405.3,101.9 411.2,102.1 411.7,107.1 405.8,106.9" fill="#0000e5" stroke="#0000e5"/><polygon points="405.8,106.9 411.7,107.1 412.2,112.1 406.3,111.9" fill="#0000e4" stroke="#0000e4"/><polygon points="406.3,111.9 412.2,112.1 412.7,117.1 406.8,117" fill="#0000dc" stroke="#0000dc"/><polygon points="406.8,117 412.7,117.1 413.2,122.1 407.3,122" fill="#0000d5" stroke="#0000d5"/><polygon points="407.3,122 413.2,122.1 413.7,127.2 407.8,127" fill="#0000d1" stroke="#0000d1"/><polygon points="407.8,127 413.7,127.2 414.2,132.2 408.3,132" fill="#0000ce" stroke="#0000ce"/><polygon points="408.3,132 414.2,132.2 414.6,137.2 408.7,137" fill="#0000cc" stroke="#0000cc"/><polygon points="408.7,137 414.6,137.2 415.1,142.2 409.2,142" fill="#0000c9" stroke="#0000c9"/><polygon points="409.2,142 415.1,142.2 415.6,147.3 409.7,147" fill="#0000c7" stroke="#0000c7"/><polygon points="409.7,147 415.6,147.3 416.1,152.3 410.2,152.1" fill="#0000c5" stroke="#0000c5"/><polygon points="410.2,152.1 416.1,152.3 416.6,157.3 410.7,157.1" fill="#0000c3" stroke="#0000c3"/><polygon points="410.7,157.1 416.6,157.3 417.1,162.3 411.2,162.1" fill="#0000c2" stroke="#0000c2"/><polygon points="411.2,162.1 417.1,162.3 417.6,167.3 411.7,167.1" fill="#0000c0" stroke="#0000c0"/><polygon points="411.7,167.1 417.6,167.3 418.1,172.4 412.2,172.1" fill="#0000bf" stroke="#0000bf"/><polygon points="412.2,172.1 418.1,172.4 418.5,177.4 412.7,177.1" fill="#0000be" stroke="#0000be"/><polygon points="412.7,177.1 418.5,177.4 419,182.4 413.1,182.2" fill="#0000bc" stroke="#0000bc"/><polygon points="413.1,182.2 419,182.4 419.5,187.4 413.6,187.2" fill="#0000bb" stroke="#0000bb"/><polygon points="413.6,187.2 419.5,187.4 420,192.4 414.1,192.2" fill="#0000ba" stroke="#0000ba"/><polygon points="414.1,192.2 420,192.4 420.5,197.5 414.6,197.2" fill="#0000b9" stroke="#0000b9"/><polygon points="404.9,36.8 410.9,36.8 411.4,41.9 405.4,41.8" fill="#0000fe" stroke="#0000fe"/><polygon points="405.4,41.8 411.4,41.9 411.8,46.9 405.9,46.8" fill="#0000f7" stroke="#0000f7"/><polygon points="405.9,46.8 411.8,46.9 412.3,51.9 406.4,51.8" fill="#0000f2" stroke="#0000f2"/><polygon points="406.4,51.8 412.3,51.9 412.8,57 406.9,56.9" fill="#0000ee" stroke="#0000ee"/><polygon points="406.9,56.9 412.8,57 413.3,62 407.3,61.9" fill="#0000ea" stroke="#0000ea"/><polygon points="407.3,61.9 413.3,62 413.8,67 407.8,66.9" fill="#0000e8" stroke="#0000e8"/><polygon points="407.8,66.9 413.8,67 414.3,72 408.3,71.9" fill="#0000e5" stroke="#0000e5"/><polygon points="408.3,71.9 414.3,72 414.7,77.1 408.8,77" fill="#0000e4" stroke="#0000e4"/><polygon points="408.8,77 414.7,77.1 415.2,82.1 409.3,82" fill="#0000e2" stroke="#0000e2"/><polygon points="409.3,82 415.2,82.1 415.7,87.1 409.8,87" fill="#0000e1" stroke="#0000e1"/><polygon points="409.8,87 415.7,87.1 416.2,92.2 410.3,92" fill="#0000e0" stroke="#0000e0"/><polygon points="410.3,92 416.2,92.2 416.7,97.2 410.8,97" fill="#0000df" stroke="#0000df"/><polygon points="410.8,97 416.7,97.2 417.2,102.2 411.2,102.1" fill="#0000df" stroke="#0000df"/><polygon points="411.2,102.1 417.2,102.2 417.6,107.2 411.7,107.1" fill="#0000e2" stroke="#0000e2"/><polygon points="411.7,107.1 417.6,107.2 418.1,112.3 412.2,112.1" fill="#0000df" stroke="#0000df"/><polygon points="412.2,112.1 418.1,112.3 418.6,117.3 412.7,117.1" fill="#0000d7" stroke="#0000d7"/><polygon points="412.7,117.1 418.6,117.3 419.1,122.3 413.2,122.1" fill="#0000cf" stroke="#0000cf"/><polygon points="413.2,122.1 419.1,122.3 419.6,127.4 413.7,127.2" fill="#0000ca" stroke="#0000ca"/><polygon points="413.7,127.2 419.6,127.4 420.1,132.4 414.2,132.2" fill="#0000c7" stroke="#0000c7"/><polygon points="414.2,132.2 420.1,132.4 420.5,137.4 414.6,137.2" fill="#0000c4" stroke="#0000c4"/><polygon points="414.6,137.2 420.5,137.4 421,142.4 415.1,142.2" fill="#0000c2" stroke="#0000c2"/><polygon points="415.1,142.2 421,142.4 421.5,147.5 415.6,147.3" fill="#0000c0" stroke="#0000c0"/><polygon points="415.6,147.3 421.5,147.5 422,152.5 416.1,152.3" fill="#0000be" stroke="#0000be"/><polygon points="416.1,152.3 422,152.5 422.5,157.5 416.6,157.3" fill="#0000bc" stroke="#0000bc"/><polygon points="416.6,157.3 422.5,157.5 423,162.6 417.1,162.3" fill="#0000bb" stroke="#0000bb"/><polygon points="417.1,162.3 423,162.6 423.5,167.6 417.6,167.3" fill="#0000ba" stroke="#0000ba"/><polygon points="417.6,167.3 423.5,167.6 423.9,172.6 418.1,172.4" fill="#0000b8" stroke="#0000b8"/><polygon points="418.1,172.4 423.9,172.6 424.4,177.6 418.5,177.4" fill="#0000b7" stroke="#0000b7"/><polygon points="418.5,177.4 424.4,177.6 424.9,182.7 419,182.4" fill="#0000b6" stroke="#0000b6"/><polygon points="419,182.4 424.9,182.7 425.4,187.7 419.5,187.4" fill="#0000b5" stroke="#0000b5"/><polygon points="419.5,187.4 425.4,187.7 425.9,192.7 420,192.4" fill="#0000b4" stroke="#0000b4"/><polygon points="420,192.4 425.9,192.7 426.4,197.7 420.5,197.5" fill="#0000b3" stroke="#0000b3"/><polygon points="410.9,36.8 416.8,36.9 417.3,42 411.4,41.9" fill="#0000fa" stroke="#0000fa"/><polygon points="411.4,41.9 417.3,42 417.8,47 411.8,46.9" fill="#0000f4" stroke="#0000f4"/><polygon points="411.8,46.9 417.8,47 418.3,52 412.3,51.9" fill="#0000ee" stroke="#0000ee"/><polygon points="412.3,51.9 418.3,52 418.7,57.1 412.8,57" fill="#0000ea" stroke="#0000ea"/><polygon points="412.8,57 418.7,57.1 419.2,62.1 413.3,62" fill="#0000e7" stroke="#0000e7"/><polygon points="413.3,62 419.2,62.1 419.7,67.1 413.8,67" fill="#0000e4" stroke="#0000e4"/><polygon points="413.8,67 419.7,67.1 420.2,72.2 414.3,72" fill="#0000e2" stroke="#0000e2"/><polygon points="414.3,72 420.2,72.2 420.7,77.2 414.7,77.1" fill="#0000e0" stroke="#0000e0"/><polygon points="414.7,77.1 420.7,77.2 421.2,82.2 415.2,82.1" fill="#0000de" stroke="#0000de"/><polygon points="415.2,82.1 421.2,82.2 421.6,87.3 415.7,87.1" fill="#0000dc" stroke="#0000dc"/><polygon points="415.7,87.1 421.6,87.3 422.1,92.3 416.2,92.2" fill="#0000da" stroke="#0000da"/><polygon points="416.2,92.2 422.1,92.3 422.6,97.3 416.7,97.2" fill="#0000d8" stroke="#0000d8"/><polygon points="416.7,97.2 422.6,97.3 423.1,102.4 417.2,102.2" fill="#0000d8" stroke="#0000d8"/><polygon points="417.2,102.2 423.1,102.4 423.6,107.4 417.6,107.2" fill="#0000da" stroke="#0000da"/><polygon points="417.6,107.2 423.6,107.4 424,112.4 418.1,112.3" fill="#0000d7" stroke="#0000d7"/><polygon points="418.1,112.3 424,112.4 424.5,117.5 418.6,117.3" fill="#0000cd" stroke="#0000cd"/><polygon points="418.6,117.3 424.5,117.5 425,122.5 419.1,122.3" fill="#0000c5" stroke="#0000c5"/><polygon points="419.1,122.3 425,122.5 425.5,127.5 419.6,127.4" fill="#0000c0" stroke="#0000c0"/><polygon points="419.6,127.4 425.5,127.5 426,132.6 420.1,132.4" fill="#0000bd" stroke="#0000bd"/><polygon points="420.1,132.4 426,132.6 426.5,137.6 420.5,137.4" fill="#0000ba" stroke="#0000ba"/><polygon points="420.5,137.4 426.5,137.6 426.9,142.6 421,142.4" fill="#0000b8" stroke="#0000b8"/><polygon points="421,142.4 426.9,142.6 427.4,147.7 421.5,147.5" fill="#0000b6" stroke="#0000b6"/><polygon points="421.5,147.5 427.4,147.7 427.9,152.7 422,152.5" fill="#0000b5" stroke="#0000b5"/><polygon points="422,152.5 427.9,152.7 428.4,157.7 422.5,157.5" fill="#0000b3" stroke="#0000b3"/><polygon points="422.5,157.5 428.4,157.7 428.9,162.8 423,162.6" fill="#0000b2" stroke="#0000b2"/><polygon points="423,162.6 428.9,162.8 429.3,167.8 423.5,167.6" fill="#0000b1" stroke="#0000b1"/><polygon points="423.5,167.6 429.3,167.8 429.8,172.8 423.9,172.6" fill="#0000b0" stroke="#0000b0"/><polygon points="423.9,172.6 429.8,172.8 430.3,177.9 424.4,177.6" fill="#0000af" stroke="#0000af"/><polygon points="424.4,177.6 430.3,177.9 430.8,182.9 424.9,182.7" fill="#0000ae" stroke="#0000ae"/><polygon points="424.9,182.7 430.8,182.9 431.3,188 425.4,187.7" fill="#0000ad" stroke="#0000ad"/><polygon points="425.4,187.7 431.3,188 431.8,193 425.9,192.7" fill="#0000ac" stroke="#0000ac"/><polygon points="425.9,192.7 431.8,193 432.2,198 426.4,197.7" fill="#0000ab" stroke="#0000ab"/><polygon points="416.8,36.9 422.8,37 423.2,42 417.3,42" fill="#0000fe" stroke="#0000fe"/><polygon points="417.3,42 423.2,42 423.7,47.1 417.8,47" fill="#0000f7" stroke="#0000f7"/><polygon points="417.8,47 423.7,47.1 424.2,52.1 418.3,52" fill="#0000f2" stroke="#0000f2"/><polygon points="418.3,52 424.2,52.1 424.7,57.1 418.7,57.1" fill="#0000ee" stroke="#0000ee"/><polygon points="418.7,57.1 424.7,57.1 425.2,62.2 419.2,62.1" fill="#0000ea" stroke="#0000ea"/><polygon points="419.2,62.1 425.2,62.2 425.6,67.2 419.7,67.1" fill="#0000e7" stroke="#0000e7"/><polygon points="419.7,67.1 425.6,67.2 426.1,72.3 420.2,72.2" fill="#0000e5" stroke="#0000e5"/><polygon points="420.2,72.2 426.1,72.3 426.6,77.3 420.7,77.2" fill="#0000e2" stroke="#0000e2"/><polygon points="420.7,77.2 426.6,77.3 427.1,82.4 421.2,82.2" fill="#0000e0" stroke="#0000e0"/><polygon points="421.2,82.2 427.1,82.4 427.6,87.4 421.6,87.3" fill="#0000dd" stroke="#0000dd"/><polygon points="421.6,87.3 427.6,87.4 428,92.4 422.1,92.3" fill="#0000d9" stroke="#0000d9"/><polygon points="422.1,92.3 428,92.4 428.5,97.5 422.6,97.3" fill="#0000d6" stroke="#0000d6"/><polygon points="422.6,97.3 428.5,97.5 429,102.5 423.1,102.4" fill="#0000d5" stroke="#0000d5"/><polygon points="423.1,102.4 429,102.5 429.5,107.6 423.6,107.4" fill="#0000d7" stroke="#0000d7"/><polygon points="423.6,107.4 429.5,107.6 430,112.6 424,112.4" fill="#0000d4" stroke="#0000d4"/><polygon points="424,112.4 430,112.6 430.4,117.6 424.5,117.5" fill="#0000c9" stroke="#0000c9"/><polygon points="424.5,117.5 430.4,117.6 430.9,122.7 425,122.5" fill="#0000c1" stroke="#0000c1"/><polygon points="425,122.5 430.9,122.7 431.4,127.7 425.5,127.5" fill="#0000bc" stroke="#0000bc"/><polygon points="425.5,127.5 431.4,127.7 431.9,132.8 426,132.6" fill="#0000b9" stroke="#0000b9"/><polygon points="426,132.6 431.9,132.8 432.4,137.8 426.5,137.6" fill="#0000b7" stroke="#0000b7"/><polygon points="426.5,137.6 432.4,137.8 432.8,142.8 426.9,142.6" fill="#0000b5" stroke="#0000b5"/><polygon points="426.9,142.6 432.8,142.8 433.3,147.9 427.4,147.7" fill="#0000b3" stroke="#0000b3"/><polygon points="427.4,147.7 433.3,147.9 433.8,152.9 427.9,152.7" fill="#0000b2" stroke="#0000b2"/><polygon points="427.9,152.7 433.8,152.9 434.3,158 428.4,157.7" fill="#0000b1" stroke="#0000b1"/><polygon points="428.4,157.7 434.3,158 434.8,163 428.9,162.8" fill="#0000b0" stroke="#0000b0"/><polygon points="428.9,162.8 434.8,163 435.2,168.1 429.3,167.8" fill="#0000af" stroke="#0000af"/><polygon points="429.3,167.8 435.2,168.1 435.7,173.1 429.8,172.8" fill="#0000ae" stroke="#0000ae"/><polygon points="429.8,172.8 435.7,173.1 436.2,178.1 430.3,177.9" fill="#0000ad" stroke="#0000ad"/><polygon points="430.3,177.9 436.2,178.1 436.7,183.2 430.8,182.9" fill="#0000ac" stroke="#0000ac"/><polygon points="430.8,182.9 436.7,183.2 437.1,188.2 431.3,188" fill="#0000ac" stroke="#0000ac"/><polygon points="431.3,188 437.1,188.2 437.6,193.3 431.8,193" fill="#0000ab" stroke="#0000ab"/><polygon points="431.8,193 437.6,193.3 438.1,198.3 432.2,198" fill="#0000aa" stroke="#0000aa"/><polygon points="422.8,37 428.7,37.1 429.2,42.1 423.2,42" fill="#0000fc" stroke="#0000fc"/><polygon points="423.2,42 429.2,42.1 429.7,47.1 423.7,47.1" fill="#0000f5" stroke="#0000f5"/><polygon points="423.7,47.1 429.7,47.1 430.2,52.2 424.2,52.1" fill="#0000f0" stroke="#0000f0"/><polygon points="424.2,52.1 430.2,52.2 430.6,57.2 424.7,57.1" fill="#0000eb" stroke="#0000eb"/><polygon points="424.7,57.1 430.6,57.2 431.1,62.3 425.2,62.2" fill="#0000e7" stroke="#0000e7"/><polygon points="425.2,62.2 431.1,62.3 431.6,67.3 425.6,67.2" fill="#0000e3" stroke="#0000e3"/><polygon points="425.6,67.2 431.6,67.3 432.1,72.4 426.1,72.3" fill="#0000e0" stroke="#0000e0"/><polygon points="426.1,72.3 432.1,72.4 432.5,77.4 426.6,77.3" fill="#0000dc" stroke="#0000dc"/><polygon points="426.6,77.3 432.5,77.4 433,82.5 427.1,82.4" fill="#0000d8" stroke="#0000d8"/><polygon points="427.1,82.4 433,82.5 433.5,87.5 427.6,87.4" fill="#0000d4" stroke="#0000d4"/><polygon points="427.6,87.4 433.5,87.5 434,92.6 428,92.4" fill="#0000cf" stroke="#0000cf"/><polygon points="428,92.4 434,92.6 434.4,97.6 428.5,97.5" fill="#0000cb" stroke="#0000cb"/><polygon points="428.5,97.5 434.4,97.6 434.9,102.7 429,102.5" fill="#0000cb" stroke="#0000cb"/><polygon points="429,102.5 434.9,102.7 435.4,107.7 429.5,107.6" fill="#0000cd" stroke="#0000cd"/><polygon points="429.5,107.6 435.4,107.7 435.9,112.8 430,112.6" fill="#0000ca" stroke="#0000ca"/><polygon points="430,112.6 435.9,112.8 436.4,117.8 430.4,117.6" fill="#0000bf" stroke="#0000bf"/><polygon points="430.4,117.6 436.4,117.8 436.8,122.9 430.9,122.7" fill="#0000b7" stroke="#0000b7"/><polygon points="430.9,122.7 436.8,122.9 437.3,127.9 431.4,127.7" fill="#0000b3" stroke="#0000b3"/><polygon points="431.4,127.7 437.3,127.9 437.8,133 431.9,132.8" fill="#0000b0" stroke="#0000b0"/><polygon points="431.9,132.8 437.8,133 438.3,138 432.4,137.8" fill="#0000ae" stroke="#0000ae"/><polygon points="432.4,137.8 438.3,138 438.7,143.1 432.8,142.8" fill="#0000ad" stroke="#0000ad"/><polygon points="432.8,142.8 438.7,143.1 439.2,148.1 433.3,147.9" fill="#0000ac" stroke="#0000ac"/><polygon points="433.3,147.9 439.2,148.1 439.7,153.1 433.8,152.9" fill="#0000aa" stroke="#0000aa"/><polygon points="433.8,152.9 439.7,153.1 440.2,158.2 434.3,158" fill="#0000a9" stroke="#0000a9"/><polygon points="434.3,158 440.2,158.2 440.6,163.2 434.8,163" fill="#0000a9" stroke="#0000a9"/><polygon points="434.8,163 440.6,163.2 441.1,168.3 435.2,168.1" fill="#0000a8" stroke="#0000a8"/><polygon points="435.2,168.1 441.1,168.3 441.6,173.3 435.7,173.1" fill="#0000a7" stroke="#0000a7"/><polygon points="435.7,173.1 441.6,173.3 442.1,178.4 436.2,178.1" fill="#0000a7" stroke="#0000a7"/><polygon points="436.2,178.1 442.1,178.4 442.5,183.4 436.7,183.2" fill="#0000a6" stroke="#0000a6"/><polygon points="436.7,183.2 442.5,183.4 443,188.5 437.1,188.2" fill="#0000a6" stroke="#0000a6"/><polygon points="437.1,188.2 443,188.5 443.5,193.5 437.6,193.3" fill="#0000a5" stroke="#0000a5"/><polygon points="437.6,193.3 443.5,193.5 444,198.6 438.1,198.3" fill="#0000a5" stroke="#0000a5"/><polygon points="428.7,37.1 434.7,37.1 435.1,42.2 429.2,42.1" fill="#0000f9" stroke="#0000f9"/><polygon points="429.2,42.1 435.1,42.2 435.6,47.2 429.7,47.1" fill="#0000f2" stroke="#0000f2"/><polygon points="429.7,47.1 435.6,47.2 436.1,52.3 430.2,52.2" fill="#0000ec" stroke="#0000ec"/><polygon points="430.2,52.2 436.1,52.3 436.6,57.3 430.6,57.2" fill="#0000e6" stroke="#0000e6"/><polygon points="430.6,57.2 436.6,57.3 437,62.4 431.1,62.3" fill="#0000e1" stroke="#0000e1"/><polygon points="431.1,62.3 437,62.4 437.5,67.4 431.6,67.3" fill="#0000dd" stroke="#0000dd"/><polygon points="431.6,67.3 437.5,67.4 438,72.5 432.1,72.4" fill="#0000d8" stroke="#0000d8"/><polygon points="432.1,72.4 438,72.5 438.5,77.6 432.5,77.4" fill="#0000d4" stroke="#0000d4"/><polygon points="432.5,77.4 438.5,77.6 438.9,82.6 433,82.5" fill="#0000cf" stroke="#0000cf"/><polygon points="433,82.5 438.9,82.6 439.4,87.7 433.5,87.5" fill="#0000ca" stroke="#0000ca"/><polygon points="433.5,87.5 439.4,87.7 439.9,92.7 434,92.6" fill="#0000c5" stroke="#0000c5"/><polygon points="434,92.6 439.9,92.7 440.4,97.8 434.4,97.6" fill="#0000c2" stroke="#0000c2"/><polygon points="434.4,97.6 440.4,97.8 440.8,102.8 434.9,102.7" fill="#0000c3" stroke="#0000c3"/><polygon points="434.9,102.7 440.8,102.8 441.3,107.9 435.4,107.7" fill="#0000c7" stroke="#0000c7"/><polygon points="435.4,107.7 441.3,107.9 441.8,112.9 435.9,112.8" fill="#0000c4" stroke="#0000c4"/><polygon points="435.9,112.8 441.8,112.9 442.3,118 436.4,117.8" fill="#0000b9" stroke="#0000b9"/><polygon points="436.4,117.8 442.3,118 442.7,123 436.8,122.9" fill="#0000b2" stroke="#0000b2"/><polygon points="436.8,122.9 442.7,123 443.2,128.1 437.3,127.9" fill="#0000ae" stroke="#0000ae"/><polygon points="437.3,127.9 443.2,128.1 443.7,133.1 437.8,133" fill="#0000ad" stroke="#0000ad"/><polygon points="437.8,133 443.7,133.1 444.2,138.2 438.3,138" fill="#0000ab" stroke="#0000ab"/><polygon points="438.3,138 444.2,138.2 444.6,143.3 438.7,143.1" fill="#0000aa" stroke="#0000aa"/><polygon points="438.7,143.1 444.6,143.3 445.1,148.3 439.2,148.1" fill="#0000a9" stroke="#0000a9"/><polygon points="439.2,148.1 445.1,148.3 445.6,153.4 439.7,153.1" fill="#0000a8" stroke="#0000a8"/><polygon points="439.7,153.1 445.6,153.4 446.1,158.4 440.2,158.2" fill="#0000a8" stroke="#0000a8"/><polygon points="440.2,158.2 446.1,158.4 446.5,163.5 440.6,163.2" fill="#0000a7" stroke="#0000a7"/><polygon points="440.6,163.2 446.5,163.5 447,168.5 441.1,168.3" fill="#0000a7" stroke="#0000a7"/><polygon points="441.1,168.3 447,168.5 447.5,173.6 441.6,173.3" fill="#0000a6" stroke="#0000a6"/><polygon points="441.6,173.3 447.5,173.6 448,178.6 442.1,178.4" fill="#0000a6" stroke="#0000a6"/><polygon points="442.1,178.4 448,178.6 448.4,183.7 442.5,183.4" fill="#0000a6" stroke="#0000a6"/><polygon points="442.5,183.4 448.4,183.7 448.9,188.7 443,188.5" fill="#0000a5" stroke="#0000a5"/><polygon points="443,188.5 448.9,188.7 449.4,193.8 443.5,193.5" fill="#0000a5" stroke="#0000a5"/><polygon points="443.5,193.5 449.4,193.8 449.8,198.8 444,198.6" fill="#0000a5" stroke="#0000a5"/><polygon points="434.7,37.1 440.6,37.2 441.1,42.2 435.1,42.2" fill="#0000dc" stroke="#0000dc"/><polygon points="435.1,42.2 441.1,42.2 441.6,47.3 435.6,47.2" fill="#0000d5" stroke="#0000d5"/><polygon points="435.6,47.2 441.6,47.3 442,52.4 436.1,52.3" fill="#0000ce" stroke="#0000ce"/><polygon points="436.1,52.3 442,52.4 442.5,57.4 436.6,57.3" fill="#0000c9" stroke="#0000c9"/><polygon points="436.6,57.3 442.5,57.4 443,62.5 437,62.4" fill="#0000c4" stroke="#0000c4"/><polygon points="437,62.4 443,62.5 443.5,67.6 437.5,67.4" fill="#0000c0" stroke="#0000c0"/><polygon points="437.5,67.4 443.5,67.6 443.9,72.6 438,72.5" fill="#0000bc" stroke="#0000bc"/><polygon points="438,72.5 443.9,72.6 444.4,77.7 438.5,77.6" fill="#0000b8" stroke="#0000b8"/><polygon points="438.5,77.6 444.4,77.7 444.9,82.7 438.9,82.6" fill="#0000b4" stroke="#0000b4"/><polygon points="438.9,82.6 444.9,82.7 445.3,87.8 439.4,87.7" fill="#0000b0" stroke="#0000b0"/><polygon points="439.4,87.7 445.3,87.8 445.8,92.9 439.9,92.7" fill="#0000ad" stroke="#0000ad"/><polygon points="439.9,92.7 445.8,92.9 446.3,97.9 440.4,97.8" fill="#0000ab" stroke="#0000ab"/><polygon points="440.4,97.8 446.3,97.9 446.8,103 440.8,102.8" fill="#0000ae" stroke="#0000ae"/><polygon points="440.8,102.8 446.8,103 447.2,108 441.3,107.9" fill="#0000b5" stroke="#0000b5"/><polygon points="441.3,107.9 447.2,108 447.7,113.1 441.8,112.9" fill="#0000b3" stroke="#0000b3"/><polygon points="441.8,112.9 447.7,113.1 448.2,118.2 442.3,118" fill="#0000a8" stroke="#0000a8"/><polygon points="442.3,118 448.2,118.2 448.6,123.2 442.7,123" fill="#0000a1" stroke="#0000a1"/><polygon points="442.7,123 448.6,123.2 449.1,128.3 443.2,128.1" fill="#00009f" stroke="#00009f"/><polygon points="443.2,128.1 449.1,128.3 449.6,133.3 443.7,133.1" fill="#00009d" stroke="#00009d"/><polygon points="443.7,133.1 449.6,133.3 450.1,138.4 444.2,138.2" fill="#00009d" stroke="#00009d"/><polygon points="444.2,138.2 450.1,138.4 450.5,143.5 444.6,143.3" fill="#00009c" stroke="#00009c"/><polygon points="444.6,143.3 450.5,143.5 451,148.5 445.1,148.3" fill="#00009b" stroke="#00009b"/><polygon points="445.1,148.3 451,148.5 451.5,153.6 445.6,153.4" fill="#00009b" stroke="#00009b"/><polygon points="445.6,153.4 451.5,153.6 451.9,158.6 446.1,158.4" fill="#00009b" stroke="#00009b"/><polygon points="446.1,158.4 451.9,158.6 452.4,163.7 446.5,163.5" fill="#00009a" stroke="#00009a"/><polygon points="446.5,163.5 452.4,163.7 452.9,168.8 447,168.5" fill="#00009a" stroke="#00009a"/><polygon points="447,168.5 452.9,168.8 453.4,173.8 447.5,173.6" fill="#00009a" stroke="#00009a"/><polygon points="447.5,173.6 453.4,173.8 453.8,178.9 448,178.6" fill="#00009a" stroke="#00009a"/><polygon points="448,178.6 453.8,178.9 454.3,183.9 448.4,183.7" fill="#00009a" stroke="#00009a"/><polygon points="448.4,183.7 454.3,183.9 454.8,189 448.9,188.7" fill="#000099" stroke="#000099"/><polygon points="448.9,188.7 454.8,189 455.2,194.1 449.4,193.8" fill="#000099" stroke="#000099"/><polygon points="449.4,193.8 455.2,194.1 455.7,199.1 449.8,198.8" fill="#000099" stroke="#000099"/><polygon points="440.6,37.2 446.6,37.3 447.1,42.3 441.1,42.2" fill="#0000b8" stroke="#0000b8"/><polygon points="441.1,42.2 447.1,42.3 447.5,47.4 441.6,47.3" fill="#0000b5" stroke="#0000b5"/><polygon points="441.6,47.3 447.5,47.4 448,52.5 442,52.4" fill="#0000b2" stroke="#0000b2"/><polygon points="442,52.4 448,52.5 448.5,57.5 442.5,57.4" fill="#0000b0" stroke="#0000b0"/><polygon points="442.5,57.4 448.5,57.5 448.9,62.6 443,62.5" fill="#0000ae" stroke="#0000ae"/><polygon points="443,62.5 448.9,62.6 449.4,67.7 443.5,67.6" fill="#0000ac" stroke="#0000ac"/><polygon points="443.5,67.6 449.4,67.7 449.9,72.7 443.9,72.6" fill="#0000aa" stroke="#0000aa"/><polygon points="443.9,72.6 449.9,72.7 450.3,77.8 444.4,77.7" fill="#0000a9" stroke="#0000a9"/><polygon points="444.4,77.7 450.3,77.8 450.8,82.9 444.9,82.7" fill="#0000a7" stroke="#0000a7"/><polygon points="444.9,82.7 450.8,82.9 451.3,87.9 445.3,87.8" fill="#0000a6" stroke="#0000a6"/><polygon points="445.3,87.8 451.3,87.9 451.7,93 445.8,92.9" fill="#0000a5" stroke="#0000a5"/><polygon points="445.8,92.9 451.7,93 452.2,98.1 446.3,97.9" fill="#0000a5" stroke="#0000a5"/><polygon points="446.3,97.9 452.2,98.1 452.7,103.1 446.8,103" fill="#0000ab" stroke="#0000ab"/><polygon points="446.8,103 452.7,103.1 453.1,108.2 447.2,108" fill="#0000b3" stroke="#0000b3"/><polygon points="447.2,108 453.1,108.2 453.6,113.3 447.7,113.1" fill="#0000b2" stroke="#0000b2"/><polygon points="447.7,113.1 453.6,113.3 454.1,118.3 448.2,118.2" fill="#0000a7" stroke="#0000a7"/><polygon points="448.2,118.2 454.1,118.3 454.6,123.4 448.6,123.2" fill="#0000a0" stroke="#0000a0"/><polygon points="448.6,123.2 454.6,123.4 455,128.5 449.1,128.3" fill="#00009e" stroke="#00009e"/><polygon points="449.1,128.3 455,128.5 455.5,133.5 449.6,133.3" fill="#00009e" stroke="#00009e"/><polygon points="449.6,133.3 455.5,133.5 456,138.6 450.1,138.4" fill="#00009d" stroke="#00009d"/><polygon points="450.1,138.4 456,138.6 456.4,143.7 450.5,143.5" fill="#00009d" stroke="#00009d"/><polygon points="450.5,143.5 456.4,143.7 456.9,148.7 451,148.5" fill="#00009c" stroke="#00009c"/><polygon points="451,148.5 456.9,148.7 457.4,153.8 451.5,153.6" fill="#00009c" stroke="#00009c"/><polygon points="451.5,153.6 457.4,153.8 457.8,158.9 451.9,158.6" fill="#00009c" stroke="#00009c"/><polygon points="451.9,158.6 457.8,158.9 458.3,163.9 452.4,163.7" fill="#00009c" stroke="#00009c"/><polygon points="452.4,163.7 458.3,163.9 458.8,169 452.9,168.8" fill="#00009c" stroke="#00009c"/><polygon points="452.9,168.8 458.8,169 459.2,174.1 453.4,173.8" fill="#00009c" stroke="#00009c"/><polygon points="453.4,173.8 459.2,174.1 459.7,179.1 453.8,178.9" fill="#00009c" stroke="#00009c"/><polygon points="453.8,178.9 459.7,179.1 460.2,184.2 454.3,183.9" fill="#00009c" stroke="#00009c"/><polygon points="454.3,183.9 460.2,184.2 460.7,189.3 454.8,189" fill="#00009c" stroke="#00009c"/><polygon points="454.8,189 460.7,189.3 461.1,194.3 455.2,194.1" fill="#00009c" stroke="#00009c"/><polygon points="455.2,194.1 461.1,194.3 461.6,199.4 455.7,199.1" fill="#00009c" stroke="#00009c"/><polygon points="446.6,37.3 452.5,37.3 453,42.4 447.1,42.3" fill="#0000c0" stroke="#0000c0"/><polygon points="447.1,42.3 453,42.4 453.5,47.5 447.5,47.4" fill="#0000bc" stroke="#0000bc"/><polygon points="447.5,47.4 453.5,47.5 453.9,52.5 448,52.5" fill="#0000b9" stroke="#0000b9"/><polygon points="448,52.5 453.9,52.5 454.4,57.6 448.5,57.5" fill="#0000b6" stroke="#0000b6"/><polygon points="448.5,57.5 454.4,57.6 454.9,62.7 448.9,62.6" fill="#0000b4" stroke="#0000b4"/><polygon points="448.9,62.6 454.9,62.7 455.3,67.8 449.4,67.7" fill="#0000b2" stroke="#0000b2"/><polygon points="449.4,67.7 455.3,67.8 455.8,72.8 449.9,72.7" fill="#0000b1" stroke="#0000b1"/><polygon points="449.9,72.7 455.8,72.8 456.3,77.9 450.3,77.8" fill="#0000af" stroke="#0000af"/><polygon points="450.3,77.8 456.3,77.9 456.7,83 450.8,82.9" fill="#0000ae" stroke="#0000ae"/><polygon points="450.8,82.9 456.7,83 457.2,88.1 451.3,87.9" fill="#0000ad" stroke="#0000ad"/><polygon points="451.3,87.9 457.2,88.1 457.7,93.1 451.7,93" fill="#0000ac" stroke="#0000ac"/><polygon points="451.7,93 457.7,93.1 458.1,98.2 452.2,98.1" fill="#0000ac" stroke="#0000ac"/><polygon points="452.2,98.1 458.1,98.2 458.6,103.3 452.7,103.1" fill="#0000b2" stroke="#0000b2"/><polygon points="452.7,103.1 458.6,103.3 459.1,108.4 453.1,108.2" fill="#0000bc" stroke="#0000bc"/><polygon points="453.1,108.2 459.1,108.4 459.5,113.4 453.6,113.3" fill="#0000ba" stroke="#0000ba"/><polygon points="453.6,113.3 459.5,113.4 460,118.5 454.1,118.3" fill="#0000af" stroke="#0000af"/><polygon points="454.1,118.3 460,118.5 460.5,123.6 454.6,123.4" fill="#0000a7" stroke="#0000a7"/><polygon points="454.6,123.4 460.5,123.6 460.9,128.6 455,128.5" fill="#0000a5" stroke="#0000a5"/><polygon points="455,128.5 460.9,128.6 461.4,133.7 455.5,133.5" fill="#0000a5" stroke="#0000a5"/><polygon points="455.5,133.5 461.4,133.7 461.9,138.8 456,138.6" fill="#0000a4" stroke="#0000a4"/><polygon points="456,138.6 461.9,138.8 462.3,143.9 456.4,143.7" fill="#0000a4" stroke="#0000a4"/><polygon points="456.4,143.7 462.3,143.9 462.8,148.9 456.9,148.7" fill="#0000a4" stroke="#0000a4"/><polygon points="456.9,148.7 462.8,148.9 463.3,154 457.4,153.8" fill="#0000a3" stroke="#0000a3"/><polygon points="457.4,153.8 463.3,154 463.7,159.1 457.8,158.9" fill="#0000a3" stroke="#0000a3"/><polygon points="457.8,158.9 463.7,159.1 464.2,164.2 458.3,163.9" fill="#0000a3" stroke="#0000a3"/><polygon points="458.3,163.9 464.2,164.2 464.7,169.2 458.8,169" fill="#0000a3" stroke="#0000a3"/><polygon points="458.8,169 464.7,169.2 465.1,174.3 459.2,174.1" fill="#0000a3" stroke="#0000a3"/><polygon points="459.2,174.1 465.1,174.3 465.6,179.4 459.7,179.1" fill="#0000a3" stroke="#0000a3"/><polygon points="459.7,179.1 465.6,179.4 466.1,184.5 460.2,184.2" fill="#0000a3" stroke="#0000a3"/><polygon points="460.2,184.2 466.1,184.5 466.5,189.5 460.7,189.3" fill="#0000a3" stroke="#0000a3"/><polygon points="460.7,189.3 466.5,189.5 467,194.6 461.1,194.3" fill="#0000a3" stroke="#0000a3"/><polygon points="461.1,194.3 467,194.6 467.5,199.7 461.6,199.4" fill="#0000a3" stroke="#0000a3"/><polygon points="452.5,37.3 458.3,37.8 458.8,42.9 453,42.4" fill="#0000d9" stroke="#0000d9"/><polygon points="453,42.4 458.8,42.9 459.3,47.9 453.5,47.5" fill="#0000d5" stroke="#0000d5"/><polygon points="453.5,47.5 459.3,47.9 459.7,53 453.9,52.5" fill="#0000d1" stroke="#0000d1"/><polygon points="453.9,52.5 459.7,53 460.2,58.1 454.4,57.6" fill="#0000cd" stroke="#0000cd"/><polygon points="454.4,57.6 460.2,58.1 460.7,63.1 454.9,62.7" fill="#0000ca" stroke="#0000ca"/><polygon points="454.9,62.7 460.7,63.1 461.1,68.2 455.3,67.8" fill="#0000c7" stroke="#0000c7"/><polygon points="455.3,67.8 461.1,68.2 461.6,73.2 455.8,72.8" fill="#0000c3" stroke="#0000c3"/><polygon points="455.8,72.8 461.6,73.2 462.1,78.3 456.3,77.9" fill="#0000c0" stroke="#0000c0"/><polygon points="456.3,77.9 462.1,78.3 462.5,83.4 456.7,83" fill="#0000bd" stroke="#0000bd"/><polygon points="456.7,83 462.5,83.4 463,88.4 457.2,88.1" fill="#0000ba" stroke="#0000ba"/><polygon points="457.2,88.1 463,88.4 463.5,93.5 457.7,93.1" fill="#0000b8" stroke="#0000b8"/><polygon points="457.7,93.1 463.5,93.5 463.9,98.6 458.1,98.2" fill="#0000b7" stroke="#0000b7"/><polygon points="458.1,98.2 463.9,98.6 464.4,103.6 458.6,103.3" fill="#0000bd" stroke="#0000bd"/><polygon points="458.6,103.3 464.4,103.6 464.9,108.7 459.1,108.4" fill="#0000c6" stroke="#0000c6"/><polygon points="459.1,108.4 464.9,108.7 465.4,113.8 459.5,113.4" fill="#0000e0" stroke="#0000e0"/><polygon points="459.5,113.4 465.4,113.8 465.8,118.8 460,118.5" fill="#0000c5" stroke="#0000c5"/><polygon points="460,118.5 465.8,118.8 466.3,123.9 460.5,123.6" fill="#0000b3" stroke="#0000b3"/><polygon points="460.5,123.6 466.3,123.9 466.8,129 460.9,128.6" fill="#0000ae" stroke="#0000ae"/><polygon points="460.9,128.6 466.8,129 467.2,134 461.4,133.7" fill="#0000ab" stroke="#0000ab"/><polygon points="461.4,133.7 467.2,134 467.7,139.1 461.9,138.8" fill="#0000aa" stroke="#0000aa"/><polygon points="461.9,138.8 467.7,139.1 468.2,144.1 462.3,143.9" fill="#0000a9" stroke="#0000a9"/><polygon points="462.3,143.9 468.2,144.1 468.6,149.2 462.8,148.9" fill="#0000a9" stroke="#0000a9"/><polygon points="462.8,148.9 468.6,149.2 469.1,154.3 463.3,154" fill="#0000a9" stroke="#0000a9"/><polygon points="463.3,154 469.1,154.3 469.6,159.3 463.7,159.1" fill="#0000a8" stroke="#0000a8"/><polygon points="463.7,159.1 469.6,159.3 470,164.4 464.2,164.2" fill="#0000a8" stroke="#0000a8"/><polygon points="464.2,164.2 470,164.4 470.5,169.5 464.7,169.2" fill="#0000a8" stroke="#0000a8"/><polygon points="464.7,169.2 470.5,169.5 471,174.5 465.1,174.3" fill="#0000a8" stroke="#0000a8"/><polygon points="465.1,174.3 471,174.5 471.4,179.6 465.6,179.4" fill="#0000a8" stroke="#0000a8"/><polygon points="465.6,179.4 471.4,179.6 471.9,184.7 466.1,184.5" fill="#0000a8" stroke="#0000a8"/><polygon points="466.1,184.5 471.9,184.7 472.4,189.7 466.5,189.5" fill="#0000a8" stroke="#0000a8"/><polygon points="466.5,189.5 472.4,189.7 472.9,194.8 467,194.6" fill="#0000a8" stroke="#0000a8"/><polygon points="467,194.6 472.9,194.8 473.3,199.9 467.5,199.7" fill="#0000a8" stroke="#0000a8"/><polygon points="458.3,37.8 464.1,38.3 464.6,43.3 458.8,42.9" fill="#0000df" stroke="#0000df"/><polygon points="458.8,42.9 464.6,43.3 465,48.4 459.3,47.9" fill="#0000da" stroke="#0000da"/><polygon points="459.3,47.9 465,48.4 465.5,53.4 459.7,53" fill="#0000d7" stroke="#0000d7"/><polygon points="459.7,53 465.5,53.4 466,58.5 460.2,58.1" fill="#0000d3" stroke="#0000d3"/><polygon points="460.2,58.1 466,58.5 466.5,63.5 460.7,63.1" fill="#0000d0" stroke="#0000d0"/><polygon points="460.7,63.1 466.5,63.5 466.9,68.6 461.1,68.2" fill="#0000cc" stroke="#0000cc"/><polygon points="461.1,68.2 466.9,68.6 467.4,73.6 461.6,73.2" fill="#0000c8" stroke="#0000c8"/><polygon points="461.6,73.2 467.4,73.6 467.9,78.7 462.1,78.3" fill="#0000c4" stroke="#0000c4"/><polygon points="462.1,78.3 467.9,78.7 468.3,83.8 462.5,83.4" fill="#0000c0" stroke="#0000c0"/><polygon points="462.5,83.4 468.3,83.8 468.8,88.8 463,88.4" fill="#0000bc" stroke="#0000bc"/><polygon points="463,88.4 468.8,88.8 469.3,93.9 463.5,93.5" fill="#0000ba" stroke="#0000ba"/><polygon points="463.5,93.5 469.3,93.9 469.8,98.9 463.9,98.6" fill="#0000bb" stroke="#0000bb"/><polygon points="463.9,98.6 469.8,98.9 470.2,104 464.4,103.6" fill="#0000c5" stroke="#0000c5"/><polygon points="464.4,103.6 470.2,104 470.7,109 464.9,108.7" fill="#0000ed" stroke="#0000ed"/><polygon points="464.9,108.7 470.7,109 471.2,114.1 465.4,113.8" fill="#0004ff" stroke="#0004ff"/><polygon points="465.4,113.8 471.2,114.1 471.6,119.2 465.8,118.8" fill="#0000d5" stroke="#0000d5"/><polygon points="465.8,118.8 471.6,119.2 472.1,124.2 466.3,123.9" fill="#0000b5" stroke="#0000b5"/><polygon points="466.3,123.9 472.1,124.2 472.6,129.3 466.8,129" fill="#0000a9" stroke="#0000a9"/><polygon points="466.8,129 472.6,129.3 473.1,134.3 467.2,134" fill="#0000a5" stroke="#0000a5"/><polygon points="467.2,134 473.1,134.3 473.5,139.4 467.7,139.1" fill="#0000a2" stroke="#0000a2"/><polygon points="467.7,139.1 473.5,139.4 474,144.4 468.2,144.1" fill="#0000a1" stroke="#0000a1"/><polygon points="468.2,144.1 474,144.4 474.5,149.5 468.6,149.2" fill="#0000a1" stroke="#0000a1"/><polygon points="468.6,149.2 474.5,149.5 474.9,154.5 469.1,154.3" fill="#0000a0" stroke="#0000a0"/><polygon points="469.1,154.3 474.9,154.5 475.4,159.6 469.6,159.3" fill="#0000a0" stroke="#0000a0"/><polygon points="469.6,159.3 475.4,159.6 475.9,164.7 470,164.4" fill="#00009f" stroke="#00009f"/><polygon points="470,164.4 475.9,164.7 476.4,169.7 470.5,169.5" fill="#00009f" stroke="#00009f"/><polygon points="470.5,169.5 476.4,169.7 476.8,174.8 471,174.5" fill="#00009f" stroke="#00009f"/><polygon points="471,174.5 476.8,174.8 477.3,179.8 471.4,179.6" fill="#00009f" stroke="#00009f"/><polygon points="471.4,179.6 477.3,179.8 477.8,184.9 471.9,184.7" fill="#00009f" stroke="#00009f"/><polygon points="471.9,184.7 477.8,184.9 478.2,189.9 472.4,189.7" fill="#00009f" stroke="#00009f"/><polygon points="472.4,189.7 478.2,189.9 478.7,195 472.9,194.8" fill="#00009f" stroke="#00009f"/><polygon points="472.9,194.8 478.7,195 479.2,200 473.3,199.9" fill="#00009e" stroke="#00009e"/><polygon points="464.1,38.3 469.9,38.7 470.4,43.8 464.6,43.3" fill="#0000ef" stroke="#0000ef"/><polygon points="464.6,43.3 470.4,43.8 470.8,48.8 465,48.4" fill="#0000eb" stroke="#0000eb"/><polygon points="465,48.4 470.8,48.8 471.3,53.9 465.5,53.4" fill="#0000e8" stroke="#0000e8"/><polygon points="465.5,53.4 471.3,53.9 471.8,58.9 466,58.5" fill="#0000e6" stroke="#0000e6"/><polygon points="466,58.5 471.8,58.9 472.3,64 466.5,63.5" fill="#0000e3" stroke="#0000e3"/><polygon points="466.5,63.5 472.3,64 472.7,69 466.9,68.6" fill="#0000e0" stroke="#0000e0"/><polygon points="466.9,68.6 472.7,69 473.2,74.1 467.4,73.6" fill="#0000de" stroke="#0000de"/><polygon points="467.4,73.6 473.2,74.1 473.7,79.1 467.9,78.7" fill="#0000da" stroke="#0000da"/><polygon points="467.9,78.7 473.7,79.1 474.1,84.1 468.3,83.8" fill="#0000d7" stroke="#0000d7"/><polygon points="468.3,83.8 474.1,84.1 474.6,89.2 468.8,88.8" fill="#0000d4" stroke="#0000d4"/><polygon points="468.8,88.8 474.6,89.2 475.1,94.2 469.3,93.9" fill="#0000d4" stroke="#0000d4"/><polygon points="469.3,93.9 475.1,94.2 475.6,99.3 469.8,98.9" fill="#0000d7" stroke="#0000d7"/><polygon points="469.8,98.9 475.6,99.3 476,104.3 470.2,104" fill="#0000e6" stroke="#0000e6"/><polygon points="470.2,104 476,104.3 476.5,109.4 470.7,109" fill="#001aff" stroke="#001aff"/><polygon points="470.7,109 476.5,109.4 477,114.4 471.2,114.1" fill="#0036ff" stroke="#0036ff"/><polygon points="471.2,114.1 477,114.4 477.5,119.5 471.6,119.2" fill="#0000fb" stroke="#0000fb"/><polygon points="471.6,119.2 477.5,119.5 477.9,124.5 472.1,124.2" fill="#0000d0" stroke="#0000d0"/><polygon points="472.1,124.2 477.9,124.5 478.4,129.6 472.6,129.3" fill="#0000be" stroke="#0000be"/><polygon points="472.6,129.3 478.4,129.6 478.9,134.6 473.1,134.3" fill="#0000b7" stroke="#0000b7"/><polygon points="473.1,134.3 478.9,134.6 479.4,139.7 473.5,139.4" fill="#0000b3" stroke="#0000b3"/><polygon points="473.5,139.4 479.4,139.7 479.8,144.7 474,144.4" fill="#0000b2" stroke="#0000b2"/><polygon points="474,144.4 479.8,144.7 480.3,149.8 474.5,149.5" fill="#0000b1" stroke="#0000b1"/><polygon points="474.5,149.5 480.3,149.8 480.8,154.8 474.9,154.5" fill="#0000b0" stroke="#0000b0"/><polygon points="474.9,154.5 480.8,154.8 481.3,159.9 475.4,159.6" fill="#0000af" stroke="#0000af"/><polygon points="475.4,159.6 481.3,159.9 481.7,164.9 475.9,164.7" fill="#0000af" stroke="#0000af"/><polygon points="475.9,164.7 481.7,164.9 482.2,169.9 476.4,169.7" fill="#0000af" stroke="#0000af"/><polygon points="476.4,169.7 482.2,169.9 482.7,175 476.8,174.8" fill="#0000ae" stroke="#0000ae"/><polygon points="476.8,174.8 482.7,175 483.1,180 477.3,179.8" fill="#0000ae" stroke="#0000ae"/><polygon points="477.3,179.8 483.1,180 483.6,185.1 477.8,184.9" fill="#0000ae" stroke="#0000ae"/><polygon points="477.8,184.9 483.6,185.1 484.1,190.1 478.2,189.9" fill="#0000ae" stroke="#0000ae"/><polygon points="478.2,189.9 484.1,190.1 484.6,195.2 478.7,195" fill="#0000ae" stroke="#0000ae"/><polygon points="478.7,195 484.6,195.2 485,200.2 479.2,200" fill="#0000ae" stroke="#0000ae"/><polygon points="469.9,38.7 475.7,39.2 476.1,44.2 470.4,43.8" fill="#0000e9" stroke="#0000e9"/><polygon points="470.4,43.8 476.1,44.2 476.6,49.3 470.8,48.8" fill="#0000e6" stroke="#0000e6"/><polygon points="470.8,48.8 476.6,49.3 477.1,54.3 471.3,53.9" fill="#0000e3" stroke="#0000e3"/><polygon points="471.3,53.9 477.1,54.3 477.6,59.3 471.8,58.9" fill="#0000e1" stroke="#0000e1"/><polygon points="471.8,58.9 477.6,59.3 478,64.4 472.3,64" fill="#0000e0" stroke="#0000e0"/><polygon points="472.3,64 478,64.4 478.5,69.4 472.7,69" fill="#0000de" stroke="#0000de"/><polygon points="472.7,69 478.5,69.4 479,74.5 473.2,74.1" fill="#0000dc" stroke="#0000dc"/><polygon points="473.2,74.1 479,74.5 479.5,79.5 473.7,79.1" fill="#0000db" stroke="#0000db"/><polygon points="473.7,79.1 479.5,79.5 480,84.5 474.1,84.1" fill="#0000db" stroke="#0000db"/><polygon points="474.1,84.1 480,84.5 480.4,89.6 474.6,89.2" fill="#0000dc" stroke="#0000dc"/><polygon points="474.6,89.2 480.4,89.6 480.9,94.6 475.1,94.2" fill="#0000df" stroke="#0000df"/><polygon points="475.1,94.2 480.9,94.6 481.4,99.6 475.6,99.3" fill="#0000e6" stroke="#0000e6"/><polygon points="475.6,99.3 481.4,99.6 481.9,104.7 476,104.3" fill="#0005ff" stroke="#0005ff"/><polygon points="476,104.3 481.9,104.7 482.3,109.7 476.5,109.4" fill="#004aff" stroke="#004aff"/><polygon points="476.5,109.4 482.3,109.7 482.8,114.8 477,114.4" fill="#0070ff" stroke="#0070ff"/><polygon points="477,114.4 482.8,114.8 483.3,119.8 477.5,119.5" fill="#0021ff" stroke="#0021ff"/><polygon points="477.5,119.5 483.3,119.8 483.8,124.8 477.9,124.5" fill="#0000e1" stroke="#0000e1"/><polygon points="477.9,124.5 483.8,124.8 484.2,129.9 478.4,129.6" fill="#0000c6" stroke="#0000c6"/><polygon points="478.4,129.6 484.2,129.9 484.7,134.9 478.9,134.6" fill="#0000bc" stroke="#0000bc"/><polygon points="478.9,134.6 484.7,134.9 485.2,140 479.4,139.7" fill="#0000b6" stroke="#0000b6"/><polygon points="479.4,139.7 485.2,140 485.7,145 479.8,144.7" fill="#0000b4" stroke="#0000b4"/><polygon points="479.8,144.7 485.7,145 486.1,150 480.3,149.8" fill="#0000b2" stroke="#0000b2"/><polygon points="480.3,149.8 486.1,150 486.6,155.1 480.8,154.8" fill="#0000b1" stroke="#0000b1"/><polygon points="480.8,154.8 486.6,155.1 487.1,160.1 481.3,159.9" fill="#0000b1" stroke="#0000b1"/><polygon points="481.3,159.9 487.1,160.1 487.6,165.1 481.7,164.9" fill="#0000b0" stroke="#0000b0"/><polygon points="481.7,164.9 487.6,165.1 488,170.2 482.2,169.9" fill="#0000b0" stroke="#0000b0"/><polygon points="482.2,169.9 488,170.2 488.5,175.2 482.7,175" fill="#0000b0" stroke="#0000b0"/><polygon points="482.7,175 488.5,175.2 489,180.3 483.1,180" fill="#0000af" stroke="#0000af"/><polygon points="483.1,180 489,180.3 489.5,185.3 483.6,185.1" fill="#0000af" stroke="#0000af"/><polygon points="483.6,185.1 489.5,185.3 490,190.3 484.1,190.1" fill="#0000af" stroke="#0000af"/><polygon points="484.1,190.1 490,190.3 490.4,195.4 484.6,195.2" fill="#0000af" stroke="#0000af"/><polygon points="484.6,195.2 490.4,195.4 490.9,200.4 485,200.2" fill="#0000af" stroke="#0000af"/><polygon points="475.7,39.2 481.5,39.7 481.9,44.7 476.1,44.2" fill="#0000e9" stroke="#0000e9"/><polygon points="476.1,44.2 481.9,44.7 482.4,49.7 476.6,49.3" fill="#0000e6" stroke="#0000e6"/><polygon points="476.6,49.3 482.4,49.7 482.9,54.7 477.1,54.3" fill="#0000e4" stroke="#0000e4"/><polygon points="477.1,54.3 482.9,54.7 483.4,59.8 477.6,59.3" fill="#0000e2" stroke="#0000e2"/><polygon points="477.6,59.3 483.4,59.8 483.8,64.8 478,64.4" fill="#0000e1" stroke="#0000e1"/><polygon points="478,64.4 483.8,64.8 484.3,69.8 478.5,69.4" fill="#0000e0" stroke="#0000e0"/><polygon points="478.5,69.4 484.3,69.8 484.8,74.9 479,74.5" fill="#0000e0" stroke="#0000e0"/><polygon points="479,74.5 484.8,74.9 485.3,79.9 479.5,79.5" fill="#0000e0" stroke="#0000e0"/><polygon points="479.5,79.5 485.3,79.9 485.8,84.9 480,84.5" fill="#0000e3" stroke="#0000e3"/><polygon points="480,84.5 485.8,84.9 486.2,89.9 480.4,89.6" fill="#0000e8" stroke="#0000e8"/><polygon points="480.4,89.6 486.2,89.9 486.7,95 480.9,94.6" fill="#0000f0" stroke="#0000f0"/><polygon points="480.9,94.6 486.7,95 487.2,100 481.4,99.6" fill="#0000fa" stroke="#0000fa"/><polygon points="481.4,99.6 487.2,100 487.7,105 481.9,104.7" fill="#002bff" stroke="#002bff"/><polygon points="481.9,104.7 487.7,105 488.1,110.1 482.3,109.7" fill="#007eff" stroke="#007eff"/><polygon points="482.3,109.7 488.1,110.1 488.6,115.1 482.8,114.8" fill="#00aaff" stroke="#00aaff"/><polygon points="482.8,114.8 488.6,115.1 489.1,120.1 483.3,119.8" fill="#004dff" stroke="#004dff"/><polygon points="483.3,119.8 489.1,120.1 489.6,125.2 483.8,124.8" fill="#0000fa" stroke="#0000fa"/><polygon points="483.8,124.8 489.6,125.2 490.1,130.2 484.2,129.9" fill="#0000d5" stroke="#0000d5"/><polygon points="484.2,129.9 490.1,130.2 490.5,135.2 484.7,134.9" fill="#0000c8" stroke="#0000c8"/><polygon points="484.7,134.9 490.5,135.2 491,140.2 485.2,140" fill="#0000c0" stroke="#0000c0"/><polygon points="485.2,140 491,140.2 491.5,145.3 485.7,145" fill="#0000bd" stroke="#0000bd"/><polygon points="485.7,145 491.5,145.3 492,150.3 486.1,150" fill="#0000bb" stroke="#0000bb"/><polygon points="486.1,150 492,150.3 492.5,155.3 486.6,155.1" fill="#0000ba" stroke="#0000ba"/><polygon points="486.6,155.1 492.5,155.3 492.9,160.4 487.1,160.1" fill="#0000ba" stroke="#0000ba"/><polygon points="487.1,160.1 492.9,160.4 493.4,165.4 487.6,165.1" fill="#0000b9" stroke="#0000b9"/><polygon points="487.6,165.1 493.4,165.4 493.9,170.4 488,170.2" fill="#0000b9" stroke="#0000b9"/><polygon points="488,170.2 493.9,170.4 494.4,175.4 488.5,175.2" fill="#0000b8" stroke="#0000b8"/><polygon points="488.5,175.2 494.4,175.4 494.9,180.5 489,180.3" fill="#0000b8" stroke="#0000b8"/><polygon points="489,180.3 494.9,180.5 495.3,185.5 489.5,185.3" fill="#0000b8" stroke="#0000b8"/><polygon points="489.5,185.3 495.3,185.5 495.8,190.5 490,190.3" fill="#0000b8" stroke="#0000b8"/><polygon points="490,190.3 495.8,190.5 496.3,195.6 490.4,195.4" fill="#0000b8" stroke="#0000b8"/><polygon points="490.4,195.4 496.3,195.6 496.8,200.6 490.9,200.4" fill="#0000b8" stroke="#0000b8"/><polygon points="481.5,39.7 487.2,40.1 487.7,45.1 481.9,44.7" fill="#0000e6" stroke="#0000e6"/><polygon points="481.9,44.7 487.7,45.1 488.2,50.2 482.4,49.7" fill="#0000e3" stroke="#0000e3"/><polygon points="482.4,49.7 488.2,50.2 488.7,55.2 482.9,54.7" fill="#0000e0" stroke="#0000e0"/><polygon points="482.9,54.7 488.7,55.2 489.2,60.2 483.4,59.8" fill="#0000df" stroke="#0000df"/><polygon points="483.4,59.8 489.2,60.2 489.6,65.2 483.8,64.8" fill="#0000de" stroke="#0000de"/><polygon points="483.8,64.8 489.6,65.2 490.1,70.2 484.3,69.8" fill="#0000de" stroke="#0000de"/><polygon points="484.3,69.8 490.1,70.2 490.6,75.3 484.8,74.9" fill="#0000df" stroke="#0000df"/><polygon points="484.8,74.9 490.6,75.3 491.1,80.3 485.3,79.9" fill="#0000e2" stroke="#0000e2"/><polygon points="485.3,79.9 491.1,80.3 491.6,85.3 485.8,84.9" fill="#0000e8" stroke="#0000e8"/><polygon points="485.8,84.9 491.6,85.3 492,90.3 486.2,89.9" fill="#0000f1" stroke="#0000f1"/><polygon points="486.2,89.9 492,90.3 492.5,95.3 486.7,95" fill="#0000fc" stroke="#0000fc"/><polygon points="486.7,95 492.5,95.3 493,100.4 487.2,100" fill="#0010ff" stroke="#0010ff"/><polygon points="487.2,100 493,100.4 493.5,105.4 487.7,105" fill="#0053ff" stroke="#0053ff"/><polygon points="487.7,105 493.5,105.4 494,110.4 488.1,110.1" fill="#00b1ff" stroke="#00b1ff"/><polygon points="488.1,110.1 494,110.4 494.4,115.4 488.6,115.1" fill="#00e2ff" stroke="#00e2ff"/><polygon points="488.6,115.1 494.4,115.4 494.9,120.5 489.1,120.1" fill="#007aff" stroke="#007aff"/><polygon points="489.1,120.1 494.9,120.5 495.4,125.5 489.6,125.2" fill="#0014ff" stroke="#0014ff"/><polygon points="489.6,125.2 495.4,125.5 495.9,130.5 490.1,130.2" fill="#0000e3" stroke="#0000e3"/><polygon points="490.1,130.2 495.9,130.5 496.4,135.5 490.5,135.2" fill="#0000d3" stroke="#0000d3"/><polygon points="490.5,135.2 496.4,135.5 496.9,140.5 491,140.2" fill="#0000ca" stroke="#0000ca"/><polygon points="491,140.2 496.9,140.5 497.3,145.6 491.5,145.3" fill="#0000c5" stroke="#0000c5"/><polygon points="491.5,145.3 497.3,145.6 497.8,150.6 492,150.3" fill="#0000c3" stroke="#0000c3"/><polygon points="492,150.3 497.8,150.6 498.3,155.6 492.5,155.3" fill="#0000c2" stroke="#0000c2"/><polygon points="492.5,155.3 498.3,155.6 498.8,160.6 492.9,160.4" fill="#0000c1" stroke="#0000c1"/><polygon points="492.9,160.4 498.8,160.6 499.3,165.6 493.4,165.4" fill="#0000c1" stroke="#0000c1"/><polygon points="493.4,165.4 499.3,165.6 499.7,170.7 493.9,170.4" fill="#0000c0" stroke="#0000c0"/><polygon points="493.9,170.4 499.7,170.7 500.2,175.7 494.4,175.4" fill="#0000c0" stroke="#0000c0"/><polygon points="494.4,175.4 500.2,175.7 500.7,180.7 494.9,180.5" fill="#0000c0" stroke="#0000c0"/><polygon points="494.9,180.5 500.7,180.7 501.2,185.7 495.3,185.5" fill="#0000c0" stroke="#0000c0"/><polygon points="495.3,185.5 501.2,185.7 501.7,190.7 495.8,190.5" fill="#0000c0" stroke="#0000c0"/><polygon points="495.8,190.5 501.7,190.7 502.1,195.8 496.3,195.6" fill="#0000bf" stroke="#0000bf"/><polygon points="496.3,195.6 502.1,195.8 502.6,200.8 496.8,200.6" fill="#0000bf" stroke="#0000bf"/><polygon points="487.2,40.1 493,40.6 493.5,45.6 487.7,45.1" fill="#0000e9" stroke="#0000e9"/><polygon points="487.7,45.1 493.5,45.6 494,50.6 488.2,50.2" fill="#0000e6" stroke="#0000e6"/><polygon points="488.2,50.2 494,50.6 494.5,55.6 488.7,55.2" fill="#0000e4" stroke="#0000e4"/><polygon points="488.7,55.2 494.5,55.6 494.9,60.6 489.2,60.2" fill="#0000e3" stroke="#0000e3"/><polygon points="489.2,60.2 494.9,60.6 495.4,65.6 489.6,65.2" fill="#0000e3" stroke="#0000e3"/><polygon points="489.6,65.2 495.4,65.6 495.9,70.7 490.1,70.2" fill="#0000e4" stroke="#0000e4"/><polygon points="490.1,70.2 495.9,70.7 496.4,75.7 490.6,75.3" fill="#0000e7" stroke="#0000e7"/><polygon points="490.6,75.3 496.4,75.7 496.9,80.7 491.1,80.3" fill="#0000ed" stroke="#0000ed"/><polygon points="491.1,80.3 496.9,80.7 497.4,85.7 491.6,85.3" fill="#0000f6" stroke="#0000f6"/><polygon points="491.6,85.3 497.4,85.7 497.9,90.7 492,90.3" fill="#0002ff" stroke="#0002ff"/><polygon points="492,90.3 497.9,90.7 498.3,95.7 492.5,95.3" fill="#000fff" stroke="#000fff"/><polygon points="492.5,95.3 498.3,95.7 498.8,100.7 493,100.4" fill="#002bff" stroke="#002bff"/><polygon points="493,100.4 498.8,100.7 499.3,105.7 493.5,105.4" fill="#007cff" stroke="#007cff"/><polygon points="493.5,105.4 499.3,105.7 499.8,110.8 494,110.4" fill="#00e1ff" stroke="#00e1ff"/><polygon points="494,110.4 499.8,110.8 500.3,115.8 494.4,115.4" fill="#13ffec" stroke="#13ffec"/><polygon points="494.4,115.4 500.3,115.8 500.8,120.8 494.9,120.5" fill="#00a5ff" stroke="#00a5ff"/><polygon points="494.9,120.5 500.8,120.8 501.2,125.8 495.4,125.5" fill="#002cff" stroke="#002cff"/><polygon points="495.4,125.5 501.2,125.8 501.7,130.8 495.9,130.5" fill="#0000f2" stroke="#0000f2"/><polygon points="495.9,130.5 501.7,130.8 502.2,135.8 496.4,135.5" fill="#0000df" stroke="#0000df"/><polygon points="496.4,135.5 502.2,135.8 502.7,140.8 496.9,140.5" fill="#0000d5" stroke="#0000d5"/><polygon points="496.9,140.5 502.7,140.8 503.2,145.8 497.3,145.6" fill="#0000cf" stroke="#0000cf"/><polygon points="497.3,145.6 503.2,145.8 503.6,150.8 497.8,150.6" fill="#0000cd" stroke="#0000cd"/><polygon points="497.8,150.6 503.6,150.8 504.1,155.9 498.3,155.6" fill="#0000cc" stroke="#0000cc"/><polygon points="498.3,155.6 504.1,155.9 504.6,160.9 498.8,160.6" fill="#0000cb" stroke="#0000cb"/><polygon points="498.8,160.6 504.6,160.9 505.1,165.9 499.3,165.6" fill="#0000cb" stroke="#0000cb"/><polygon points="499.3,165.6 505.1,165.9 505.6,170.9 499.7,170.7" fill="#0000ca" stroke="#0000ca"/><polygon points="499.7,170.7 505.6,170.9 506.1,175.9 500.2,175.7" fill="#0000ca" stroke="#0000ca"/><polygon points="500.2,175.7 506.1,175.9 506.6,180.9 500.7,180.7" fill="#0000ca" stroke="#0000ca"/><polygon points="500.7,180.7 506.6,180.9 507,185.9 501.2,185.7" fill="#0000ca" stroke="#0000ca"/><polygon points="501.2,185.7 507,185.9 507.5,190.9 501.7,190.7" fill="#0000c9" stroke="#0000c9"/><polygon points="501.7,190.7 507.5,190.9 508,195.9 502.1,195.8" fill="#0000c9" stroke="#0000c9"/><polygon points="502.1,195.8 508,195.9 508.5,201 502.6,200.8" fill="#0000c9" stroke="#0000c9"/><polygon points="493,40.6 498.8,41.1 499.3,46.1 493.5,45.6" fill="#0000f5" stroke="#0000f5"/><polygon points="493.5,45.6 499.3,46.1 499.8,51.1 494,50.6" fill="#0000f2" stroke="#0000f2"/><polygon points="494,50.6 499.8,51.1 500.3,56.1 494.5,55.6" fill="#0000f0" stroke="#0000f0"/><polygon points="494.5,55.6 500.3,56.1 500.7,61.1 494.9,60.6" fill="#0000f0" stroke="#0000f0"/><polygon points="494.9,60.6 500.7,61.1 501.2,66.1 495.4,65.6" fill="#0000f1" stroke="#0000f1"/><polygon points="495.4,65.6 501.2,66.1 501.7,71.1 495.9,70.7" fill="#0000f3" stroke="#0000f3"/><polygon points="495.9,70.7 501.7,71.1 502.2,76.1 496.4,75.7" fill="#0000f8" stroke="#0000f8"/><polygon points="496.4,75.7 502.2,76.1 502.7,81.1 496.9,80.7" fill="#0001ff" stroke="#0001ff"/><polygon points="496.9,80.7 502.7,81.1 503.2,86.1 497.4,85.7" fill="#000bff" stroke="#000bff"/><polygon points="497.4,85.7 503.2,86.1 503.7,91.1 497.9,90.7" fill="#0017ff" stroke="#0017ff"/><polygon points="497.9,90.7 503.7,91.1 504.1,96.1 498.3,95.7" fill="#0025ff" stroke="#0025ff"/><polygon points="498.3,95.7 504.1,96.1 504.6,101.1 498.8,100.7" fill="#004fff" stroke="#004fff"/><polygon points="498.8,100.7 504.6,101.1 505.1,106.1 499.3,105.7" fill="#00aaff" stroke="#00aaff"/><polygon points="499.3,105.7 505.1,106.1 505.6,111.1 499.8,110.8" fill="#0efff1" stroke="#0efff1"/><polygon points="499.8,110.8 505.6,111.1 506.1,116.1 500.3,115.8" fill="#3bffc4" stroke="#3bffc4"/><polygon points="500.3,115.8 506.1,116.1 506.6,121.1 500.8,120.8" fill="#00d2ff" stroke="#00d2ff"/><polygon points="500.8,120.8 506.6,121.1 507.1,126.1 501.2,125.8" fill="#004dff" stroke="#004dff"/><polygon points="501.2,125.8 507.1,126.1 507.5,131.1 501.7,130.8" fill="#000aff" stroke="#000aff"/><polygon points="501.7,130.8 507.5,131.1 508,136.1 502.2,135.8" fill="#0000f6" stroke="#0000f6"/><polygon points="502.2,135.8 508,136.1 508.5,141.1 502.7,140.8" fill="#0000ea" stroke="#0000ea"/><polygon points="502.7,140.8 508.5,141.1 509,146.1 503.2,145.8" fill="#0000e4" stroke="#0000e4"/><polygon points="503.2,145.8 509,146.1 509.5,151.1 503.6,150.8" fill="#0000e1" stroke="#0000e1"/><polygon points="503.6,150.8 509.5,151.1 510,156.1 504.1,155.9" fill="#0000e0" stroke="#0000e0"/><polygon points="504.1,155.9 510,156.1 510.5,161.1 504.6,160.9" fill="#0000df" stroke="#0000df"/><polygon points="504.6,160.9 510.5,161.1 510.9,166.1 505.1,165.9" fill="#0000df" stroke="#0000df"/><polygon points="505.1,165.9 510.9,166.1 511.4,171.1 505.6,170.9" fill="#0000df" stroke="#0000df"/><polygon points="505.6,170.9 511.4,171.1 511.9,176.1 506.1,175.9" fill="#0000de" stroke="#0000de"/><polygon points="506.1,175.9 511.9,176.1 512.4,181.1 506.6,180.9" fill="#0000de" stroke="#0000de"/><polygon points="506.6,180.9 512.4,181.1 512.9,186.1 507,185.9" fill="#0000de" stroke="#0000de"/><polygon points="507,185.9 512.9,186.1 513.4,191.1 507.5,190.9" fill="#0000de" stroke="#0000de"/><polygon points="507.5,190.9 513.4,191.1 513.9,196.1 508,195.9" fill="#0000de" stroke="#0000de"/><polygon points="508,195.9 513.9,196.1 514.3,201.1 508.5,201" fill="#0000de" stroke="#0000de"/><polygon points="498.8,41.1 504.6,41.5 505.1,46.5 499.3,46.1" fill="#0000f2" stroke="#0000f2"/><polygon points="499.3,46.1 505.1,46.5 505.6,51.5 499.8,51.1" fill="#0000f0" stroke="#0000f0"/><polygon points="499.8,51.1 505.6,51.5 506,56.5 500.3,56.1" fill="#0000ef" stroke="#0000ef"/><polygon points="500.3,56.1 506,56.5 506.5,61.5 500.7,61.1" fill="#0000f0" stroke="#0000f0"/><polygon points="500.7,61.1 506.5,61.5 507,66.5 501.2,66.1" fill="#0000f2" stroke="#0000f2"/><polygon points="501.2,66.1 507,66.5 507.5,71.5 501.7,71.1" fill="#0000f7" stroke="#0000f7"/><polygon points="501.7,71.1 507.5,71.5 508,76.5 502.2,76.1" fill="#0000fd" stroke="#0000fd"/><polygon points="502.2,76.1 508,76.5 508.5,81.5 502.7,81.1" fill="#0008ff" stroke="#0008ff"/><polygon points="502.7,81.1 508.5,81.5 509,86.5 503.2,86.1" fill="#0014ff" stroke="#0014ff"/><polygon points="503.2,86.1 509,86.5 509.5,91.5 503.7,91.1" fill="#0021ff" stroke="#0021ff"/><polygon points="503.7,91.1 509.5,91.5 510,96.5 504.1,96.1" fill="#002fff" stroke="#002fff"/><polygon points="504.1,96.1 510,96.5 510.4,101.4 504.6,101.1" fill="#006eff" stroke="#006eff"/><polygon points="504.6,101.1 510.4,101.4 510.9,106.4 505.1,106.1" fill="#00d5ff" stroke="#00d5ff"/><polygon points="505.1,106.1 510.9,106.4 511.4,111.4 505.6,111.1" fill="#3bffc4" stroke="#3bffc4"/><polygon points="505.6,111.1 511.4,111.4 511.9,116.4 506.1,116.1" fill="#66ff99" stroke="#66ff99"/><polygon points="506.1,116.1 511.9,116.4 512.4,121.4 506.6,121.1" fill="#02fffd" stroke="#02fffd"/><polygon points="506.6,121.1 512.4,121.4 512.9,126.4 507.1,126.1" fill="#0066ff" stroke="#0066ff"/><polygon points="507.1,126.1 512.9,126.4 513.4,131.4 507.5,131.1" fill="#0015ff" stroke="#0015ff"/><polygon points="507.5,131.1 513.4,131.4 513.9,136.4 508,136.1" fill="#0000ff" stroke="#0000ff"/><polygon points="508,136.1 513.9,136.4 514.3,141.4 508.5,141.1" fill="#0000f1" stroke="#0000f1"/><polygon points="508.5,141.1 514.3,141.4 514.8,146.4 509,146.1" fill="#0000e9" stroke="#0000e9"/><polygon points="509,146.1 514.8,146.4 515.3,151.4 509.5,151.1" fill="#0000e6" stroke="#0000e6"/><polygon points="509.5,151.1 515.3,151.4 515.8,156.4 510,156.1" fill="#0000e5" stroke="#0000e5"/><polygon points="510,156.1 515.8,156.4 516.3,161.4 510.5,161.1" fill="#0000e4" stroke="#0000e4"/><polygon points="510.5,161.1 516.3,161.4 516.8,166.4 510.9,166.1" fill="#0000e4" stroke="#0000e4"/><polygon points="510.9,166.1 516.8,166.4 517.3,171.4 511.4,171.1" fill="#0000e4" stroke="#0000e4"/><polygon points="511.4,171.1 517.3,171.4 517.8,176.4 511.9,176.1" fill="#0000e4" stroke="#0000e4"/><polygon points="511.9,176.1 517.8,176.4 518.2,181.4 512.4,181.1" fill="#0000e3" stroke="#0000e3"/><polygon points="512.4,181.1 518.2,181.4 518.7,186.3 512.9,186.1" fill="#0000e3" stroke="#0000e3"/><polygon points="512.9,186.1 518.7,186.3 519.2,191.3 513.4,191.1" fill="#0000e3" stroke="#0000e3"/><polygon points="513.4,191.1 519.2,191.3 519.7,196.3 513.9,196.1" fill="#0000e3" stroke="#0000e3"/><polygon points="513.9,196.1 519.7,196.3 520.2,201.3 514.3,201.1" fill="#0000e3" stroke="#0000e3"/><polygon points="504.6,41.5 510.4,42 510.9,47 505.1,46.5" fill="#0000ee" stroke="#0000ee"/><polygon points="505.1,46.5 510.9,47 511.3,52 505.6,51.5" fill="#0000ec" stroke="#0000ec"/><polygon points="505.6,51.5 511.3,52 511.8,56.9 506,56.5" fill="#0000ec" stroke="#0000ec"/><polygon points="506,56.5 511.8,56.9 512.3,61.9 506.5,61.5" fill="#0000ee" stroke="#0000ee"/><polygon points="506.5,61.5 512.3,61.9 512.8,66.9 507,66.5" fill="#0000f2" stroke="#0000f2"/><polygon points="507,66.5 512.8,66.9 513.3,71.9 507.5,71.5" fill="#0000f9" stroke="#0000f9"/><polygon points="507.5,71.5 513.3,71.9 513.8,76.9 508,76.5" fill="#0003ff" stroke="#0003ff"/><polygon points="508,76.5 513.8,76.9 514.3,81.9 508.5,81.5" fill="#000eff" stroke="#000eff"/><polygon points="508.5,81.5 514.3,81.9 514.8,86.9 509,86.5" fill="#001bff" stroke="#001bff"/><polygon points="509,86.5 514.8,86.9 515.3,91.8 509.5,91.5" fill="#002aff" stroke="#002aff"/><polygon points="509.5,91.5 515.3,91.8 515.8,96.8 510,96.5" fill="#0039ff" stroke="#0039ff"/><polygon points="510,96.5 515.8,96.8 516.3,101.8 510.4,101.4" fill="#0094ff" stroke="#0094ff"/><polygon points="510.4,101.4 516.3,101.8 516.7,106.8 510.9,106.4" fill="#0efff1" stroke="#0efff1"/><polygon points="510.9,106.4 516.7,106.8 517.2,111.8 511.4,111.4" fill="#78ff87" stroke="#78ff87"/><polygon points="511.4,111.4 517.2,111.8 517.7,116.8 511.9,116.4" fill="#a2ff5d" stroke="#a2ff5d"/><polygon points="511.9,116.4 517.7,116.8 518.2,121.8 512.4,121.4" fill="#42ffbd" stroke="#42ffbd"/><polygon points="512.4,121.4 518.2,121.8 518.7,126.7 512.9,126.4" fill="#0089ff" stroke="#0089ff"/><polygon points="512.9,126.4 518.7,126.7 519.2,131.7 513.4,131.4" fill="#0020ff" stroke="#0020ff"/><polygon points="513.4,131.4 519.2,131.7 519.7,136.7 513.9,136.4" fill="#0007ff" stroke="#0007ff"/><polygon points="513.9,136.4 519.7,136.7 520.2,141.7 514.3,141.4" fill="#0000f5" stroke="#0000f5"/><polygon points="514.3,141.4 520.2,141.7 520.7,146.7 514.8,146.4" fill="#0000ec" stroke="#0000ec"/><polygon points="514.8,146.4 520.7,146.7 521.2,151.7 515.3,151.4" fill="#0000e7" stroke="#0000e7"/><polygon points="515.3,151.4 521.2,151.7 521.6,156.6 515.8,156.4" fill="#0000e6" stroke="#0000e6"/><polygon points="515.8,156.4 521.6,156.6 522.1,161.6 516.3,161.4" fill="#0000e5" stroke="#0000e5"/><polygon points="516.3,161.4 522.1,161.6 522.6,166.6 516.8,166.4" fill="#0000e5" stroke="#0000e5"/><polygon points="516.8,166.4 522.6,166.6 523.1,171.6 517.3,171.4" fill="#0000e5" stroke="#0000e5"/><polygon points="517.3,171.4 523.1,171.6 523.6,176.6 517.8,176.4" fill="#0000e5" stroke="#0000e5"/><polygon points="517.8,176.4 523.6,176.6 524.1,181.6 518.2,181.4" fill="#0000e5" stroke="#0000e5"/><polygon points="518.2,181.4 524.1,181.6 524.6,186.6 518.7,186.3" fill="#0000e4" stroke="#0000e4"/><polygon points="518.7,186.3 524.6,186.6 525.1,191.5 519.2,191.3" fill="#0000e4" stroke="#0000e4"/><polygon points="519.2,191.3 525.1,191.5 525.6,196.5 519.7,196.3" fill="#0000e4" stroke="#0000e4"/><polygon points="519.7,196.3 525.6,196.5 526.1,201.5 520.2,201.3" fill="#0000e4" stroke="#0000e4"/><polygon points="510.4,42 516.1,42.5 516.6,47.4 510.9,47" fill="#0000ec" stroke="#0000ec"/><polygon points="510.9,47 516.6,47.4 517.1,52.4 511.3,52" fill="#0000eb" stroke="#0000eb"/><polygon points="511.3,52 517.1,52.4 517.6,57.4 511.8,56.9" fill="#0000ed" stroke="#0000ed"/><polygon points="511.8,56.9 517.6,57.4 518.1,62.4 512.3,61.9" fill="#0000f0" stroke="#0000f0"/><polygon points="512.3,61.9 518.1,62.4 518.6,67.3 512.8,66.9" fill="#0000f7" stroke="#0000f7"/><polygon points="512.8,66.9 518.6,67.3 519.1,72.3 513.3,71.9" fill="#0000ff" stroke="#0000ff"/><polygon points="513.3,71.9 519.1,72.3 519.6,77.3 513.8,76.9" fill="#000cff" stroke="#000cff"/><polygon points="513.8,76.9 519.6,77.3 520.1,82.3 514.3,81.9" fill="#001aff" stroke="#001aff"/><polygon points="514.3,81.9 520.1,82.3 520.6,87.2 514.8,86.9" fill="#002aff" stroke="#002aff"/><polygon points="514.8,86.9 520.6,87.2 521.1,92.2 515.3,91.8" fill="#003bff" stroke="#003bff"/><polygon points="515.3,91.8 521.1,92.2 521.6,97.2 515.8,96.8" fill="#005aff" stroke="#005aff"/><polygon points="515.8,96.8 521.6,97.2 522.1,102.2 516.3,101.8" fill="#00d5ff" stroke="#00d5ff"/><polygon points="516.3,101.8 522.1,102.2 522.6,107.1 516.7,106.8" fill="#68ff97" stroke="#68ff97"/><polygon points="516.7,106.8 522.6,107.1 523,112.1 517.2,111.8" fill="#dbff24" stroke="#dbff24"/><polygon points="517.2,111.8 523,112.1 523.5,117.1 517.7,116.8" fill="#fff800" stroke="#fff800"/><polygon points="517.7,116.8 523.5,117.1 524,122.1 518.2,121.8" fill="#abff54" stroke="#abff54"/><polygon points="518.2,121.8 524,122.1 524.5,127.1 518.7,126.7" fill="#00c3ff" stroke="#00c3ff"/><polygon points="518.7,126.7 524.5,127.1 525,132 519.2,131.7" fill="#0032ff" stroke="#0032ff"/><polygon points="519.2,131.7 525,132 525.5,137 519.7,136.7" fill="#0013ff" stroke="#0013ff"/><polygon points="519.7,136.7 525.5,137 526,142 520.2,141.7" fill="#0000fc" stroke="#0000fc"/><polygon points="520.2,141.7 526,142 526.5,147 520.7,146.7" fill="#0000f0" stroke="#0000f0"/><polygon points="520.7,146.7 526.5,147 527,151.9 521.2,151.7" fill="#0000ea" stroke="#0000ea"/><polygon points="521.2,151.7 527,151.9 527.5,156.9 521.6,156.6" fill="#0000e8" stroke="#0000e8"/><polygon points="521.6,156.6 527.5,156.9 528,161.9 522.1,161.6" fill="#0000e7" stroke="#0000e7"/><polygon points="522.1,161.6 528,161.9 528.5,166.9 522.6,166.6" fill="#0000e7" stroke="#0000e7"/><polygon points="522.6,166.6 528.5,166.9 529,171.8 523.1,171.6" fill="#0000e7" stroke="#0000e7"/><polygon points="523.1,171.6 529,171.8 529.5,176.8 523.6,176.6" fill="#0000e7" stroke="#0000e7"/><polygon points="523.6,176.6 529.5,176.8 530,181.8 524.1,181.6" fill="#0000e7" stroke="#0000e7"/><polygon points="524.1,181.6 530,181.8 530.4,186.8 524.6,186.6" fill="#0000e7" stroke="#0000e7"/><polygon points="524.6,186.6 530.4,186.8 530.9,191.7 525.1,191.5" fill="#0000e6" stroke="#0000e6"/><polygon points="525.1,191.5 530.9,191.7 531.4,196.7 525.6,196.5" fill="#0000e6" stroke="#0000e6"/><polygon points="525.6,196.5 531.4,196.7 531.9,201.7 526.1,201.5" fill="#0000e6" stroke="#0000e6"/><polygon points="516.1,42.5 521.9,42.9 522.4,47.9 516.6,47.4" fill="#0000f1" stroke="#0000f1"/><polygon points="516.6,47.4 522.4,47.9 522.9,52.9 517.1,52.4" fill="#0000f2" stroke="#0000f2"/><polygon points="517.1,52.4 522.9,52.9 523.4,57.8 517.6,57.4" fill="#0000f6" stroke="#0000f6"/><polygon points="517.6,57.4 523.4,57.8 523.9,62.8 518.1,62.4" fill="#0000fc" stroke="#0000fc"/><polygon points="518.1,62.4 523.9,62.8 524.4,67.8 518.6,67.3" fill="#0006ff" stroke="#0006ff"/><polygon points="518.6,67.3 524.4,67.8 524.9,72.7 519.1,72.3" fill="#0012ff" stroke="#0012ff"/><polygon points="519.1,72.3 524.9,72.7 525.4,77.7 519.6,77.3" fill="#0020ff" stroke="#0020ff"/><polygon points="519.6,77.3 525.4,77.7 525.9,82.7 520.1,82.3" fill="#0032ff" stroke="#0032ff"/><polygon points="520.1,82.3 525.9,82.7 526.4,87.6 520.6,87.2" fill="#0045ff" stroke="#0045ff"/><polygon points="520.6,87.2 526.4,87.6 526.9,92.6 521.1,92.2" fill="#0058ff" stroke="#0058ff"/><polygon points="521.1,92.2 526.9,92.6 527.4,97.6 521.6,97.2" fill="#0092ff" stroke="#0092ff"/><polygon points="521.6,97.2 527.4,97.6 527.9,102.5 522.1,102.2" fill="#32ffcd" stroke="#32ffcd"/><polygon points="522.1,102.2 527.9,102.5 528.4,107.5 522.6,107.1" fill="#ddff22" stroke="#ddff22"/><polygon points="522.6,107.1 528.4,107.5 528.9,112.5 523,112.1" fill="#ffab00" stroke="#ffab00"/><polygon points="523,112.1 528.9,112.5 529.4,117.4 523.5,117.1" fill="#ff8400" stroke="#ff8400"/><polygon points="523.5,117.1 529.4,117.4 529.9,122.4 524,122.1" fill="#ffd700" stroke="#ffd700"/><polygon points="524,122.1 529.9,122.4 530.4,127.4 524.5,127.1" fill="#13ffec" stroke="#13ffec"/><polygon points="524.5,127.1 530.4,127.4 530.8,132.3 525,132" fill="#004cff" stroke="#004cff"/><polygon points="525,132 530.8,132.3 531.3,137.3 525.5,137" fill="#0027ff" stroke="#0027ff"/><polygon points="525.5,137 531.3,137.3 531.8,142.3 526,142" fill="#000cff" stroke="#000cff"/><polygon points="526,142 531.8,142.3 532.3,147.2 526.5,147" fill="#0000fb" stroke="#0000fb"/><polygon points="526.5,147 532.3,147.2 532.8,152.2 527,151.9" fill="#0000f3" stroke="#0000f3"/><polygon points="527,151.9 532.8,152.2 533.3,157.2 527.5,156.9" fill="#0000f0" stroke="#0000f0"/><polygon points="527.5,156.9 533.3,157.2 533.8,162.1 528,161.9" fill="#0000ef" stroke="#0000ef"/><polygon points="528,161.9 533.8,162.1 534.3,167.1 528.5,166.9" fill="#0000ee" stroke="#0000ee"/><polygon points="528.5,166.9 534.3,167.1 534.8,172.1 529,171.8" fill="#0000ee" stroke="#0000ee"/><polygon points="529,171.8 534.8,172.1 535.3,177 529.5,176.8" fill="#0000ee" stroke="#0000ee"/><polygon points="529.5,176.8 535.3,177 535.8,182 530,181.8" fill="#0000ee" stroke="#0000ee"/><polygon points="530,181.8 535.8,182 536.3,187 530.4,186.8" fill="#0000ee" stroke="#0000ee"/><polygon points="530.4,186.8 536.3,187 536.8,191.9 530.9,191.7" fill="#0000ee" stroke="#0000ee"/><polygon points="530.9,191.7 536.8,191.9 537.3,196.9 531.4,196.7" fill="#0000ee" stroke="#0000ee"/><polygon points="531.4,196.7 537.3,196.9 537.8,201.9 531.9,201.7" fill="#0000ee" stroke="#0000ee"/><polygon points="521.9,42.9 527.7,43.4 528.2,48.3 522.4,47.9" fill="#0000f5" stroke="#0000f5"/><polygon points="522.4,47.9 528.2,48.3 528.7,53.3 522.9,52.9" fill="#0000f8" stroke="#0000f8"/><polygon points="522.9,52.9 528.7,53.3 529.2,58.3 523.4,57.8" fill="#0000fe" stroke="#0000fe"/><polygon points="523.4,57.8 529.2,58.3 529.7,63.2 523.9,62.8" fill="#0008ff" stroke="#0008ff"/><polygon points="523.9,62.8 529.7,63.2 530.2,68.2 524.4,67.8" fill="#0014ff" stroke="#0014ff"/><polygon points="524.4,67.8 530.2,68.2 530.7,73.1 524.9,72.7" fill="#0023ff" stroke="#0023ff"/><polygon points="524.9,72.7 530.7,73.1 531.2,78.1 525.4,77.7" fill="#0035ff" stroke="#0035ff"/><polygon points="525.4,77.7 531.2,78.1 531.7,83.1 525.9,82.7" fill="#0049ff" stroke="#0049ff"/><polygon points="525.9,82.7 531.7,83.1 532.2,88 526.4,87.6" fill="#005fff" stroke="#005fff"/><polygon points="526.4,87.6 532.2,88 532.7,93 526.9,92.6" fill="#0075ff" stroke="#0075ff"/><polygon points="526.9,92.6 532.7,93 533.2,97.9 527.4,97.6" fill="#00d6ff" stroke="#00d6ff"/><polygon points="527.4,97.6 533.2,97.9 533.7,102.9 527.9,102.5" fill="#a1ff5e" stroke="#a1ff5e"/><polygon points="527.9,102.5 533.7,102.9 534.2,107.8 528.4,107.5" fill="#ff9c00" stroke="#ff9c00"/><polygon points="528.4,107.5 534.2,107.8 534.7,112.8 528.9,112.5" fill="#ff2800" stroke="#ff2800"/><polygon points="528.9,112.5 534.7,112.8 535.2,117.8 529.4,117.4" fill="#ff0600" stroke="#ff0600"/><polygon points="529.4,117.4 535.2,117.8 535.7,122.7 529.9,122.4" fill="#ff4d00" stroke="#ff4d00"/><polygon points="529.9,122.4 535.7,122.7 536.2,127.7 530.4,127.4" fill="#72ff8d" stroke="#72ff8d"/><polygon points="530.4,127.4 536.2,127.7 536.7,132.6 530.8,132.3" fill="#0065ff" stroke="#0065ff"/><polygon points="530.8,132.3 536.7,132.6 537.2,137.6 531.3,137.3" fill="#003aff" stroke="#003aff"/><polygon points="531.3,137.3 537.2,137.6 537.7,142.6 531.8,142.3" fill="#0019ff" stroke="#0019ff"/><polygon points="531.8,142.3 537.7,142.6 538.2,147.5 532.3,147.2" fill="#0004ff" stroke="#0004ff"/><polygon points="532.3,147.2 538.2,147.5 538.7,152.5 532.8,152.2" fill="#0000f8" stroke="#0000f8"/><polygon points="532.8,152.2 538.7,152.5 539.2,157.4 533.3,157.2" fill="#0000f4" stroke="#0000f4"/><polygon points="533.3,157.2 539.2,157.4 539.7,162.4 533.8,162.1" fill="#0000f2" stroke="#0000f2"/><polygon points="533.8,162.1 539.7,162.4 540.2,167.4 534.3,167.1" fill="#0000f1" stroke="#0000f1"/><polygon points="534.3,167.1 540.2,167.4 540.7,172.3 534.8,172.1" fill="#0000f1" stroke="#0000f1"/><polygon points="534.8,172.1 540.7,172.3 541.2,177.3 535.3,177" fill="#0000f1" stroke="#0000f1"/><polygon points="535.3,177 541.2,177.3 541.6,182.2 535.8,182" fill="#0000f1" stroke="#0000f1"/><polygon points="535.8,182 541.6,182.2 542.1,187.2 536.3,187" fill="#0000f1" stroke="#0000f1"/><polygon points="536.3,187 542.1,187.2 542.6,192.1 536.8,191.9" fill="#0000f1" stroke="#0000f1"/><polygon points="536.8,191.9 542.6,192.1 543.1,197.1 537.3,196.9" fill="#0000f1" stroke="#0000f1"/><polygon points="537.3,196.9 543.1,197.1 543.6,202.1 537.8,201.9" fill="#0000f1" stroke="#0000f1"/><polygon points="527.7,43.4 533.5,43.8 534,48.8 528.2,48.3" fill="#0004ff" stroke="#0004ff"/><polygon points="528.2,48.3 534,48.8 534.5,53.8 528.7,53.3" fill="#000aff" stroke="#000aff"/><polygon points="528.7,53.3 534.5,53.8 535,58.7 529.2,58.3" fill="#0012ff" stroke="#0012ff"/><polygon points="529.2,58.3 535,58.7 535.5,63.6 529.7,63.2" fill="#001eff" stroke="#001eff"/><polygon points="529.7,63.2 535.5,63.6 536,68.6 530.2,68.2" fill="#002dff" stroke="#002dff"/><polygon points="530.2,68.2 536,68.6 536.5,73.5 530.7,73.1" fill="#003fff" stroke="#003fff"/><polygon points="530.7,73.1 536.5,73.5 537,78.5 531.2,78.1" fill="#0054ff" stroke="#0054ff"/><polygon points="531.2,78.1 537,78.5 537.5,83.4 531.7,83.1" fill="#006bff" stroke="#006bff"/><polygon points="531.7,83.1 537.5,83.4 538,88.4 532.2,88" fill="#0084ff" stroke="#0084ff"/><polygon points="532.2,88 538,88.4 538.5,93.3 532.7,93" fill="#009cff" stroke="#009cff"/><polygon points="532.7,93 538.5,93.3 539,98.3 533.2,97.9" fill="#36ffc9" stroke="#36ffc9"/><polygon points="533.2,97.9 539,98.3 539.5,103.2 533.7,102.9" fill="#ffd600" stroke="#ffd600"/><polygon points="533.7,102.9 539.5,103.2 540,108.2 534.2,107.8" fill="#ff0b00" stroke="#ff0b00"/><polygon points="534.2,107.8 540,108.2 540.5,113.2 534.7,112.8" fill="#a40000" stroke="#a40000"/><polygon points="534.7,112.8 540.5,113.2 541,118.1 535.2,117.8" fill="#8e0000" stroke="#8e0000"/><polygon points="535.2,117.8 541,118.1 541.5,123 535.7,122.7" fill="#cb0000" stroke="#cb0000"/><polygon points="535.7,122.7 541.5,123 542,128 536.2,127.7" fill="#d9ff26" stroke="#d9ff26"/><polygon points="536.2,127.7 542,128 542.5,132.9 536.7,132.6" fill="#0081ff" stroke="#0081ff"/><polygon points="536.7,132.6 542.5,132.9 543,137.9 537.2,137.6" fill="#0051ff" stroke="#0051ff"/><polygon points="537.2,137.6 543,137.9 543.5,142.8 537.7,142.6" fill="#002bff" stroke="#002bff"/><polygon points="537.7,142.6 543.5,142.8 544,147.8 538.2,147.5" fill="#0013ff" stroke="#0013ff"/><polygon points="538.2,147.5 544,147.8 544.5,152.8 538.7,152.5" fill="#0006ff" stroke="#0006ff"/><polygon points="538.7,152.5 544.5,152.8 545,157.7 539.2,157.4" fill="#0000ff" stroke="#0000ff"/><polygon points="539.2,157.4 545,157.7 545.5,162.7 539.7,162.4" fill="#0000fd" stroke="#0000fd"/><polygon points="539.7,162.4 545.5,162.7 546,167.6 540.2,167.4" fill="#0000fc" stroke="#0000fc"/><polygon points="540.2,167.4 546,167.6 546.5,172.6 540.7,172.3" fill="#0000fc" stroke="#0000fc"/><polygon points="540.7,172.3 546.5,172.6 547,177.5 541.2,177.3" fill="#0000fc" stroke="#0000fc"/><polygon points="541.2,177.3 547,177.5 547.5,182.4 541.6,182.2" fill="#0000fc" stroke="#0000fc"/><polygon points="541.6,182.2 547.5,182.4 548,187.4 542.1,187.2" fill="#0000fc" stroke="#0000fc"/><polygon points="542.1,187.2 548,187.4 548.5,192.4 542.6,192.1" fill="#0000fc" stroke="#0000fc"/><polygon points="542.6,192.1 548.5,192.4 549,197.3 543.1,197.1" fill="#0000fc" stroke="#0000fc"/><polygon points="543.1,197.1 549,197.3 549.5,202.2 543.6,202.1" fill="#0000fc" stroke="#0000fc"/><polygon points="533.5,43.8 539.3,44.3 539.8,49.3 534,48.8" fill="#0002ff" stroke="#0002ff"/><polygon points="534,48.8 539.8,49.3 540.3,54.2 534.5,53.8" fill="#000aff" stroke="#000aff"/><polygon points="534.5,53.8 540.3,54.2 540.8,59.1 535,58.7" fill="#0016ff" stroke="#0016ff"/><polygon points="535,58.7 540.8,59.1 541.3,64.1 535.5,63.6" fill="#0024ff" stroke="#0024ff"/><polygon points="535.5,63.6 541.3,64.1 541.8,69 536,68.6" fill="#0035ff" stroke="#0035ff"/><polygon points="536,68.6 541.8,69 542.3,74 536.5,73.5" fill="#0049ff" stroke="#0049ff"/><polygon points="536.5,73.5 542.3,74 542.8,78.9 537,78.5" fill="#005fff" stroke="#005fff"/><polygon points="537,78.5 542.8,78.9 543.3,83.8 537.5,83.4" fill="#0076ff" stroke="#0076ff"/><polygon points="537.5,83.4 543.3,83.8 543.8,88.8 538,88.4" fill="#008dff" stroke="#008dff"/><polygon points="538,88.4 543.8,88.8 544.3,93.7 538.5,93.3" fill="#00a3ff" stroke="#00a3ff"/><polygon points="538.5,93.3 544.3,93.7 544.8,98.7 539,98.3" fill="#73ff8c" stroke="#73ff8c"/><polygon points="539,98.3 544.8,98.7 545.3,103.6 539.5,103.2" fill="#ff9600" stroke="#ff9600"/><polygon points="539.5,103.2 545.3,103.6 545.8,108.6 540,108.2" fill="#e00000" stroke="#e00000"/><polygon points="540,108.2 545.8,108.6 546.3,113.5 540.5,113.2" fill="#8e0000" stroke="#8e0000"/><polygon points="540.5,113.2 546.3,113.5 546.8,118.4 541,118.1" fill="#800000" stroke="#800000"/><polygon points="541,118.1 546.8,118.4 547.3,123.4 541.5,123" fill="#b20000" stroke="#b20000"/><polygon points="541.5,123 547.3,123.4 547.8,128.3 542,128" fill="#fffa00" stroke="#fffa00"/><polygon points="542,128 547.8,128.3 548.3,133.3 542.5,132.9" fill="#0080ff" stroke="#0080ff"/><polygon points="542.5,132.9 548.3,133.3 548.8,138.2 543,137.9" fill="#004fff" stroke="#004fff"/><polygon points="543,137.9 548.8,138.2 549.3,143.1 543.5,142.8" fill="#0028ff" stroke="#0028ff"/><polygon points="543.5,142.8 549.3,143.1 549.8,148.1 544,147.8" fill="#000eff" stroke="#000eff"/><polygon points="544,147.8 549.8,148.1 550.3,153 544.5,152.8" fill="#0000ff" stroke="#0000ff"/><polygon points="544.5,152.8 550.3,153 550.8,158 545,157.7" fill="#0000f8" stroke="#0000f8"/><polygon points="545,157.7 550.8,158 551.3,162.9 545.5,162.7" fill="#0000f5" stroke="#0000f5"/><polygon points="545.5,162.7 551.3,162.9 551.8,167.8 546,167.6" fill="#0000f4" stroke="#0000f4"/><polygon points="546,167.6 551.8,167.8 552.3,172.8 546.5,172.6" fill="#0000f4" stroke="#0000f4"/><polygon points="546.5,172.6 552.3,172.8 552.8,177.7 547,177.5" fill="#0000f4" stroke="#0000f4"/><polygon points="547,177.5 552.8,177.7 553.4,182.7 547.5,182.4" fill="#0000f4" stroke="#0000f4"/><polygon points="547.5,182.4 553.4,182.7 553.9,187.6 548,187.4" fill="#0000f4" stroke="#0000f4"/><polygon points="548,187.4 553.9,187.6 554.4,192.6 548.5,192.4" fill="#0000f4" stroke="#0000f4"/><polygon points="548.5,192.4 554.4,192.6 554.9,197.5 549,197.3" fill="#0000f4" stroke="#0000f4"/><polygon points="549,197.3 554.9,197.5 555.4,202.4 549.5,202.2" fill="#0000f4" stroke="#0000f4"/></g></g><text x="353" y="45.6" font-size="12" class="k" fill="#222222" text-anchor="end">–1</text><text x="353" y="79" font-size="12" class="k" fill="#222222" text-anchor="end">–0.5</text><text x="353" y="112.5" font-size="12" class="k" fill="#222222" text-anchor="end">0</text><text x="353" y="146" font-size="12" class="k" fill="#222222" text-anchor="end">0.5</text><text x="353" y="179.4" font-size="12" class="k" fill="#222222" text-anchor="end">1</text><text x="353" y="212.9" font-size="12" class="k" fill="#222222" text-anchor="end">1.5</text><text x="368" y="223.8" font-size="12" class="k" fill="#222222" text-anchor="middle">–1</text><text x="408.8" y="223.8" font-size="12" class="k" fill="#222222" text-anchor="middle">–0.5</text><text x="447.1" y="223.8" font-size="12" class="k" fill="#222222" text-anchor="middle">0</text><text x="485.9" y="223.8" font-size="12" class="k" fill="#222222" text-anchor="middle">0.5</text><text x="524.6" y="223.8" font-size="12" class="k" fill="#222222" text-anchor="middle">1</text><text x="360" y="37.6" font-size="12" class="k" fill="#222222">×10<tspan font-size="9" dy="-4.6">12</tspan></text><text x="454.6" y="245.8" font-size="12.5" letter-spacing="0.2" class="k" fill="#222222" text-anchor="middle">D-field (V nm<tspan font-size="8.5" dy="-4.2">–1</tspan><tspan dy="4.2">)</tspan></text><text transform="translate(319 125.3) rotate(-90)" font-size="12.4" class="k" fill="#222222" text-anchor="middle"><tspan font-style="italic">n</tspan> (cm<tspan font-size="8.5" dy="-4.2">–2</tspan><tspan dy="4.2">)</tspan></text><defs><linearGradient id="cb" x1="0" y1="0" x2="0" y2="1"><stop offset="0%" stop-color="#800000"/><stop offset="3.1%" stop-color="#9f0000"/><stop offset="6.2%" stop-color="#bf0000"/><stop offset="9.4%" stop-color="#df0000"/><stop offset="12.5%" stop-color="#ff0000"/><stop offset="15.6%" stop-color="#ff2000"/><stop offset="18.8%" stop-color="#ff4000"/><stop offset="21.9%" stop-color="#ff6000"/><stop offset="25%" stop-color="#ff8000"/><stop offset="28.1%" stop-color="#ff9f00"/><stop offset="31.2%" stop-color="#ffbf00"/><stop offset="34.4%" stop-color="#ffdf00"/><stop offset="37.5%" stop-color="#ffff00"/><stop offset="40.6%" stop-color="#dfff20"/><stop offset="43.8%" stop-color="#bfff40"/><stop offset="46.9%" stop-color="#9fff60"/><stop offset="50%" stop-color="#80ff80"/><stop offset="53.1%" stop-color="#60ff9f"/><stop offset="56.2%" stop-color="#40ffbf"/><stop offset="59.4%" stop-color="#20ffdf"/><stop offset="62.5%" stop-color="#00ffff"/><stop offset="65.6%" stop-color="#00dfff"/><stop offset="68.8%" stop-color="#00bfff"/><stop offset="71.9%" stop-color="#009fff"/><stop offset="75%" stop-color="#0080ff"/><stop offset="78.1%" stop-color="#0060ff"/><stop offset="81.2%" stop-color="#0040ff"/><stop offset="84.4%" stop-color="#0020ff"/><stop offset="87.5%" stop-color="#0000ff"/><stop offset="90.6%" stop-color="#0000df"/><stop offset="93.8%" stop-color="#0000bf"/><stop offset="96.9%" stop-color="#00009f"/><stop offset="100%" stop-color="#000080"/></linearGradient></defs><rect x="567.6" y="41.4" width="10.2" height="167.8" fill="url(#cb)"/><text x="582.4" y="211.7" font-size="12" class="k" fill="#222222">2</text><text x="582.4" y="173.5" font-size="12" class="k" fill="#222222">3</text><text x="582.4" y="135.3" font-size="12" class="k" fill="#222222">4</text><text x="582.4" y="97.1" font-size="12" class="k" fill="#222222">5</text><text x="582.4" y="58.9" font-size="12" class="k" fill="#222222">6</text><text x="561.4" y="38.2" font-size="12.8" class="k" fill="#222222">ln <tspan font-style="italic" dx="1">R</tspan></text><rect x="376.7" y="46" width="28.8" height="13" fill="#BF9000"/><rect x="409.1" y="46" width="28.8" height="13" fill="#4472C4"/><rect x="376.7" y="67.3" width="28.8" height="13" fill="#4472C4"/><rect x="409.7" y="67.3" width="28.8" height="13" fill="#BF9000"/><path d="M368.3 62.9H443.4" stroke="#07071c" stroke-width="2" fill="none"/><text x="391.1" y="56.1" font-size="10.5" font-weight="bold" fill="#fff" text-anchor="middle">+</text><text x="391.1" y="78" font-size="12" font-weight="bold" fill="#fff" text-anchor="middle">–</text><text x="422.9" y="55.4" font-size="10.4" font-weight="bold" fill="#fff" text-anchor="middle"><tspan font-style="italic">V</tspan><tspan font-size="7.6" dy="2.6" dx="-0.9">t</tspan></text><text x="423.5" y="76.7" font-size="10.4" font-weight="bold" fill="#fff" text-anchor="middle"><tspan font-style="italic">V</tspan><tspan font-size="7.6" dy="2.6" dx="-0.9">b</tspan></text><rect x="463.1" y="46" width="28.8" height="13" fill="#BF9000"/><rect x="495.5" y="46" width="28.8" height="13" fill="#BF9000"/><rect x="463.1" y="67.3" width="28.8" height="13" fill="#4472C4"/><rect x="496.1" y="67.3" width="28.8" height="13" fill="#4472C4"/><path d="M455.2 62.9H529.3" stroke="#07071c" stroke-width="2" fill="none"/><text x="477.5" y="56.1" font-size="10.5" font-weight="bold" fill="#fff" text-anchor="middle">+</text><text x="477.5" y="78" font-size="12" font-weight="bold" fill="#fff" text-anchor="middle">–</text><text x="509.3" y="55.4" font-size="10.4" font-weight="bold" fill="#fff" text-anchor="middle"><tspan font-style="italic">V</tspan><tspan font-size="7.6" dy="2.6" dx="-0.9">t</tspan></text><text x="509.9" y="76.7" font-size="10.4" font-weight="bold" fill="#fff" text-anchor="middle"><tspan font-style="italic">V</tspan><tspan font-size="7.6" dy="2.6" dx="-0.9">b</tspan></text></g>
<g id="pc"><clipPath id="cc"><rect x="69.2" y="280.1" width="212.1" height="143.9"/></clipPath><g clip-path="url(#cc)" fill="none" stroke-width="1.9" stroke-linejoin="round" stroke-linecap="round" opacity="0.74"><path d="M66.5 311.5L67.2 310.6L67.9 310.0L68.7 309.7L69.4 309.3L70.1 308.3L70.8 307.0L71.6 305.9L72.3 305.6L73.0 306.3L73.7 307.2L74.5 308.0L75.2 308.6L75.9 309.2L76.6 310.1L77.4 311.0L78.1 311.7L78.8 311.9L79.5 311.8L80.3 311.9L81.0 312.4L81.7 313.1L82.4 313.5L83.2 313.3L83.9 312.9L84.6 312.6L85.3 312.5L86.1 312.5L86.8 312.3L87.5 311.9L88.2 312.1L89.0 313.1L89.7 314.9L90.4 317.4L91.1 320.0L91.9 322.3L92.6 324.6L93.3 327.4L94.0 330.7L94.8 333.9L95.5 336.7L96.2 338.9L96.9 341.2L97.7 343.9L98.4 347.0L99.1 350.1L99.8 352.9L100.6 355.3L101.3 357.7L102.0 360.4L102.7 363.2L103.5 365.8L104.2 367.9L104.9 369.6L105.6 371.2L106.4 373.2L107.1 375.4L107.8 377.4L108.5 379.0L109.3 380.2L110.0 381.4L110.7 382.7L111.4 384.0L112.2 385.1L112.9 385.8L113.6 386.4L114.3 387.3L115.1 388.5L115.8 390.0L116.5 391.2L117.2 392.0L118.0 392.6L118.7 393.2L119.4 394.0L120.1 394.8L120.9 395.2L121.6 395.4L122.3 395.6L123.0 396.2L123.8 397.1L124.5 398.1L125.2 398.8L125.9 399.1L126.7 399.2L127.4 399.5L128.1 400.0L128.8 400.3L129.6 400.4L130.3 400.3L131.0 400.3" stroke="#0000a3"/><path d="M75.8 337.4L76.5 331.2L77.3 326.4L78.1 322.7L78.8 319.3L79.6 317.0L80.4 316.0L81.2 315.4L81.9 314.6L82.7 313.5L83.5 312.3L84.2 311.8L85.0 311.9L85.8 312.2L86.6 312.2L87.3 311.6L88.1 310.9L88.9 310.4L89.7 309.9L90.4 309.0L91.2 307.7L92.0 306.6L92.7 306.5L93.5 307.4L94.3 308.9L95.1 310.2L95.8 311.1L96.6 312.0L97.4 312.8L98.2 313.4L98.9 313.5L99.7 313.0L100.5 312.5L101.2 312.6L102.0 313.4L102.8 314.9L103.6 316.6L104.3 318.5L105.1 320.7L105.9 323.2L106.6 326.0L107.4 328.8L108.2 331.5L109.0 334.4L109.7 338.0L110.5 343.5L111.3 349.6L112.1 354.9L112.8 358.5L113.6 360.1L114.4 361.1L115.1 362.0L115.9 362.5L116.7 362.6L117.5 363.0L118.2 364.3L119.0 366.4L119.8 368.8L120.6 371.0L121.3 372.9L122.1 374.7L122.9 376.6L123.6 378.3L124.4 379.6L125.2 380.6L126.0 381.5L126.7 382.9L127.5 384.6L128.3 386.4L129.1 387.7L129.8 388.6L130.6 389.4L131.4 390.4L132.1 391.4L132.9 392.1L133.7 392.4L134.5 392.8L135.2 393.5L136.0 394.6L136.8 395.7L137.5 396.4L138.3 396.7L139.1 397.1L139.9 397.6L140.6 398.2L141.4 398.6L142.2 398.8L143.0 398.9L143.7 399.5L144.5 400.4" stroke="#0000bf"/><path d="M89.2 338.3L90.0 334.8L90.8 331.3L91.6 328.0L92.3 325.4L93.1 323.5L93.9 321.6L94.7 319.2L95.4 316.6L96.2 314.0L97.0 311.5L97.7 308.7L98.5 306.8L99.3 305.8L100.1 305.1L100.8 305.3L101.6 306.3L102.4 307.3L103.2 307.7L103.9 307.7L104.7 307.8L105.5 308.7L106.2 309.8L107.0 310.7L107.8 311.0L108.6 311.3L109.3 311.8L110.1 312.4L110.9 312.6L111.7 312.2L112.4 311.5L113.2 311.3L114.0 311.7L114.7 312.5L115.5 313.0L116.3 313.3L117.1 314.7L117.8 317.4L118.6 320.6L119.4 323.4L120.1 325.7L120.9 328.0L121.7 330.9L122.5 334.6L123.2 339.0L124.0 344.2L124.8 349.7L125.6 354.6L126.3 358.4L127.1 360.3L127.9 361.3L128.6 361.6L129.4 361.6L130.2 362.1L131.0 363.3L131.7 365.2L132.5 367.1L133.3 368.9L134.1 370.7L134.8 372.7L135.6 374.9L136.4 376.7L137.1 377.8L137.9 378.8L138.7 380.1L139.5 381.9L140.2 383.7L141.0 385.3L141.8 386.4L142.6 387.3L143.3 388.4L144.1 389.6L144.9 390.5L145.6 391.0L146.4 391.4L147.2 392.1L148.0 393.2L148.7 394.4L149.5 395.2L150.3 395.7L151.0 396.0L151.8 396.5L152.6 397.2L153.4 397.7L154.1 397.9L154.9 398.0L155.7 398.5L156.5 399.4L157.2 400.3L158.0 401.0" stroke="#0000da"/><path d="M102.8 346.6L103.5 341.5L104.3 337.0L105.1 333.1L105.8 329.5L106.6 325.9L107.4 322.4L108.2 319.3L108.9 316.8L109.7 314.5L110.5 311.2L111.2 306.7L112.0 303.5L112.8 302.4L113.6 302.0L114.3 302.2L115.1 302.4L115.9 302.5L116.7 302.9L117.4 303.8L118.2 304.9L119.0 305.8L119.7 306.3L120.5 306.6L121.3 307.1L122.1 307.8L122.8 308.4L123.6 308.5L124.4 308.1L125.2 307.9L125.9 308.4L126.7 309.4L127.5 310.2L128.2 310.7L129.0 311.2L129.8 312.1L130.6 314.4L131.3 317.4L132.1 320.1L132.9 322.4L133.6 324.9L134.4 328.1L135.2 331.8L136.0 335.6L136.7 339.2L137.5 344.0L138.3 349.5L139.1 354.8L139.8 358.7L140.6 360.0L141.4 360.4L142.1 360.8L142.9 361.6L143.7 362.9L144.5 364.2L145.2 365.4L146.0 366.8L146.8 368.7L147.6 370.8L148.3 372.9L149.1 374.6L149.9 375.9L150.6 377.2L151.4 378.9L152.2 380.9L153.0 382.6L153.7 383.9L154.5 385.0L155.3 386.1L156.1 387.4L156.8 388.6L157.6 389.3L158.4 389.8L159.1 390.5L159.9 391.6L160.7 392.9L161.5 393.9L162.2 394.5L163.0 394.9L163.8 395.4L164.5 396.0L165.3 396.6L166.1 396.9L166.9 397.1L167.6 397.4L168.4 398.3L169.2 399.3L170.0 400.1L170.7 400.4L171.5 400.6" stroke="#0000f5"/><path d="M116.2 357.8L117.0 354.5L117.8 351.3L118.6 347.7L119.3 343.8L120.1 340.0L120.9 336.9L121.7 334.5L122.4 332.2L123.2 329.7L124.0 327.0L124.7 324.7L125.5 322.8L126.3 321.2L127.1 319.2L127.8 316.8L128.6 314.6L129.4 313.1L130.2 312.5L130.9 312.3L131.7 311.7L132.5 311.0L133.2 310.6L134.0 310.5L134.8 310.4L135.6 309.7L136.3 308.6L137.1 307.5L137.9 307.0L138.7 307.1L139.4 307.3L140.2 307.4L141.0 307.3L141.7 307.5L142.5 308.0L143.3 308.8L144.1 311.1L144.8 314.5L145.6 318.4L146.4 322.2L147.1 325.9L147.9 329.3L148.7 332.4L149.5 335.4L150.2 339.0L151.0 344.1L151.8 349.8L152.6 354.7L153.3 357.9L154.1 359.2L154.9 360.2L155.6 361.5L156.4 362.5L157.2 363.3L158.0 364.0L158.7 365.2L159.5 366.9L160.3 368.9L161.1 370.7L161.8 372.2L162.6 373.8L163.4 375.8L164.1 377.9L164.9 379.8L165.7 381.3L166.5 382.4L167.2 383.6L168.0 385.0L168.8 386.3L169.6 387.3L170.3 387.9L171.1 388.7L171.9 389.8L172.6 391.2L173.4 392.4L174.2 393.2L175.0 393.6L175.7 394.1L176.5 394.8L177.3 395.4L178.0 395.8L178.8 396.0L179.6 396.3L180.4 397.1L181.1 398.2L181.9 399.2L182.7 399.8L183.5 400.1L184.2 400.4L185.0 401.0" stroke="#0012ff"/><path d="M129.8 364.4L130.5 360.1L131.3 355.3L132.1 350.6L132.8 346.5L133.6 343.2L134.4 339.9L135.2 336.4L135.9 332.9L136.7 330.4L137.5 329.3L138.2 328.9L139.0 328.3L139.8 327.2L140.6 326.1L141.3 325.4L142.1 325.2L142.9 324.3L143.7 321.6L144.4 317.6L145.2 313.6L146.0 310.5L146.7 309.1L147.5 308.2L148.3 306.9L149.1 305.6L149.8 305.0L150.6 305.3L151.4 305.8L152.2 306.1L152.9 306.0L153.7 306.0L154.5 306.4L155.2 306.8L156.0 306.9L156.8 306.7L157.6 308.8L158.3 313.2L159.1 318.6L159.9 323.2L160.6 326.6L161.4 329.4L162.2 332.2L163.0 335.5L163.7 339.4L164.5 344.2L165.3 349.2L166.1 353.7L166.8 357.4L167.6 359.6L168.4 361.1L169.1 362.0L169.9 362.5L170.7 363.0L171.5 364.0L172.2 365.4L173.0 366.9L173.8 368.3L174.6 369.8L175.3 371.9L176.1 374.3L176.9 376.7L177.6 378.4L178.4 379.7L179.2 380.9L180.0 382.4L180.7 383.8L181.5 385.0L182.3 385.8L183.1 386.6L183.8 387.7L184.6 389.2L185.4 390.6L186.1 391.7L186.9 392.2L187.7 392.7L188.5 393.4L189.2 394.1L190.0 394.6L190.8 394.8L191.5 395.0L192.3 395.7L193.1 396.8L193.9 398.0L194.6 398.9L195.4 399.5L196.2 400.0L197.0 400.9L197.7 401.8L198.5 402.6" stroke="#002dff"/><path d="M143.2 367.2L144.2 364.5L145.2 361.5L146.2 358.0L147.2 353.1L148.2 347.9L149.2 343.8L150.2 342.2L151.2 341.8L152.2 341.4L153.2 341.3L154.2 341.4L155.2 341.6L156.2 341.8L157.2 340.8L157.3 340.3L157.9 336.1L158.2 333.5L158.5 330.6L159.1 325.5L159.2 324.9L159.7 321.6L160.2 318.6L160.3 317.8L160.9 314.2L161.2 312.7L161.5 311.1L162.1 308.7L162.2 308.5L162.7 306.5L163.2 305.2L163.3 304.9L163.9 304.1L164.2 303.9L164.5 303.7L165.1 303.8L165.2 303.8L165.7 304.6L166.2 305.5L166.4 305.9L167.0 307.4L167.2 308.1L167.6 309.6L168.2 312.1L168.2 312.1L168.8 315.1L169.2 317.4L169.4 318.7L170.0 322.6L170.2 323.9L170.6 327.1L171.1 331.6L171.2 331.9L171.8 336.7L172.1 339.6L172.4 341.6L173.0 346.6L173.1 347.8L173.6 351.5L174.1 355.9L174.2 356.4L174.8 360.6L175.1 362.9L176.1 368.8L177.1 372.9L178.1 376.2L179.1 378.9L180.1 381.0L181.1 382.8L182.1 384.3L183.1 385.6L184.1 386.8L185.1 387.9L186.1 389.0L187.1 390.0L188.1 391.0L189.1 392.0L190.1 392.9L191.1 393.7L192.1 394.6L193.1 395.3L194.1 396.1L195.1 396.7L196.1 397.4L197.1 398.0L198.1 398.6L199.0 399.2L200.0 399.7L201.0 400.2L202.0 400.7L203.0 401.1L204.0 401.5L205.0 401.9L206.0 402.3L207.0 402.7L208.0 403.1L209.0 403.5L210.0 403.9L211.0 404.3L212.0 404.8" stroke="#0049ff"/><path d="M156.8 375.6L157.7 375.3L158.7 374.8L159.7 374.3L160.7 373.6L161.7 372.7L162.7 371.2L163.7 369.7L164.7 368.2L165.7 366.5L166.7 364.0L167.7 360.4L168.7 356.6L169.7 352.3L170.7 347.2L170.8 346.4L171.5 343.2L171.7 341.9L172.1 339.8L172.7 336.4L172.7 336.2L173.3 332.8L173.7 330.1L173.9 329.0L174.5 325.1L174.7 323.7L175.1 321.0L175.7 316.9L175.7 316.8L176.3 314.7L176.7 313.7L176.9 313.2L177.5 312.3L177.7 312.0L178.1 311.6L178.7 311.6L178.7 311.6L179.3 312.4L179.7 313.1L179.9 313.5L180.5 314.9L180.7 315.4L181.1 316.9L181.7 319.0L181.7 319.2L182.3 322.0L182.7 323.8L182.9 325.2L183.5 328.8L183.7 329.7L184.1 332.9L184.6 336.7L184.7 337.3L185.3 341.7L185.6 344.0L185.9 346.2L186.5 350.8L186.6 351.5L187.1 355.3L187.6 359.0L187.7 359.8L188.3 363.7L188.6 365.5L189.6 371.0L190.6 374.9L191.6 378.0L192.6 380.5L193.6 382.5L194.6 384.2L195.6 385.6L196.6 386.8L197.6 387.9L198.6 389.0L199.6 390.0L200.6 390.9L201.6 391.9L202.6 392.8L203.6 393.6L204.6 394.4L205.6 395.2L206.6 395.9L207.6 396.6L208.6 397.2L209.6 397.8L210.6 398.4L211.6 398.9L212.5 399.5L213.5 400.0L214.5 400.4L215.5 400.9L216.5 401.3L217.5 401.7L218.5 402.0L219.5 402.4L220.5 402.8L221.5 403.2L222.5 403.6L223.5 403.9L224.5 404.3L225.5 404.7" stroke="#0064ff"/><path d="M170.2 378.5L171.2 378.2L172.2 377.8L173.2 377.3L174.2 376.6L175.2 375.7L176.2 374.4L177.2 372.9L178.2 371.5L179.2 369.9L180.2 367.6L181.2 364.2L182.2 360.6L183.2 356.6L184.2 351.8L184.4 350.8L185.0 347.7L185.2 346.7L185.6 344.6L186.2 341.4L186.2 341.3L186.8 337.8L187.2 335.7L187.4 334.3L188.0 330.6L188.2 329.6L188.6 326.7L189.2 323.1L189.2 322.8L189.8 320.8L190.2 319.9L190.4 319.4L191.0 318.5L191.2 318.3L191.6 317.8L192.2 317.9L192.2 317.9L192.8 318.6L193.2 319.2L193.5 319.7L194.1 321.0L194.2 321.3L194.7 322.8L195.2 324.6L195.3 325.0L195.9 327.6L196.2 329.1L196.5 330.7L197.1 334.1L197.2 334.6L197.7 337.9L198.1 341.1L198.3 342.0L198.9 346.2L199.1 348.1L199.5 350.5L200.1 354.8L200.1 355.1L200.7 359.1L201.1 362.2L201.3 363.3L201.9 367.0L202.1 368.4L203.1 373.7L204.1 377.5L205.1 380.4L206.1 382.9L207.1 384.8L208.1 386.4L209.1 387.7L210.1 388.9L211.1 390.0L212.1 390.9L213.1 391.9L214.1 392.8L215.1 393.7L216.1 394.6L217.1 395.4L218.1 396.1L219.1 396.9L220.1 397.6L221.1 398.2L222.1 398.8L223.1 399.4L224.1 400.0L225.1 400.5L226.0 401.0L227.0 401.5L228.0 401.9L229.0 402.3L230.0 402.7L231.0 403.1L232.0 403.4L233.0 403.8L234.0 404.1L235.0 404.5L236.0 404.9L237.0 405.2L238.0 405.6L239.0 406.0" stroke="#0080ff"/><path d="M183.8 382.5L184.7 382.2L185.7 381.8L186.7 381.3L187.7 380.6L188.7 379.8L189.7 378.5L190.7 377.0L191.7 375.6L192.7 374.1L193.7 371.8L194.7 368.5L195.7 365.0L196.7 361.0L197.7 356.3L197.9 355.1L198.6 352.1L198.7 351.3L199.2 348.9L199.7 346.1L199.8 345.7L200.4 342.3L200.7 340.4L201.0 338.8L201.6 335.1L201.7 334.4L202.2 331.3L202.7 328.0L202.8 327.5L203.4 325.5L203.7 324.7L204.0 324.1L204.6 323.2L204.7 323.1L205.2 322.6L205.7 322.5L205.8 322.6L206.4 323.3L206.7 323.7L207.0 324.3L207.6 325.5L207.7 325.6L208.2 327.2L208.7 328.8L208.8 329.3L209.4 331.7L209.7 332.8L210.0 334.6L210.6 337.8L210.7 338.0L211.2 341.4L211.6 344.1L211.8 345.3L212.4 349.2L212.6 350.7L213.0 353.3L213.6 357.3L213.6 357.3L214.2 361.4L214.6 364.0L214.8 365.4L215.4 368.9L215.6 370.0L216.6 375.0L217.6 378.7L218.6 381.5L219.6 383.8L220.6 385.7L221.6 387.2L222.6 388.5L223.6 389.6L224.6 390.7L225.6 391.6L226.6 392.5L227.6 393.4L228.6 394.2L229.6 395.0L230.6 395.8L231.6 396.5L232.6 397.2L233.6 397.9L234.6 398.5L235.6 399.1L236.6 399.7L237.6 400.2L238.6 400.7L239.5 401.2L240.5 401.6L241.5 402.1L242.5 402.5L243.5 402.8L244.5 403.2L245.5 403.5L246.5 403.9L247.5 404.2L248.5 404.5L249.5 404.9L250.5 405.2L251.5 405.6L252.5 405.9" stroke="#009bff"/><path d="M197.2 386.7L198.2 386.4L199.2 386.1L200.2 385.6L201.2 385.0L202.2 384.3L203.2 383.2L204.2 381.8L205.2 380.6L206.2 379.2L207.2 377.3L208.2 374.3L209.2 371.2L210.2 367.7L211.2 363.5L211.5 362.2L212.1 359.6L212.2 359.1L212.7 356.8L213.2 354.5L213.3 353.9L213.9 350.9L214.2 349.5L214.5 347.8L215.1 344.6L215.2 344.3L215.7 341.2L216.2 338.5L216.3 337.9L216.9 336.1L217.2 335.5L217.5 334.9L218.1 334.1L218.2 334.0L218.7 333.5L219.2 333.5L219.3 333.6L219.9 334.2L220.2 334.4L220.6 335.0L221.2 336.1L221.2 336.1L221.8 337.6L222.2 338.7L222.4 339.3L223.0 341.4L223.2 342.2L223.6 343.9L224.2 346.6L224.2 346.7L224.8 349.8L225.1 351.9L225.4 353.2L226.0 356.6L226.1 357.5L226.6 360.1L227.1 363.3L227.2 363.6L227.8 367.1L228.1 369.2L228.4 370.6L229.0 373.7L229.1 374.4L230.1 378.9L231.1 382.2L232.1 384.7L233.1 386.7L234.1 388.4L235.1 389.7L236.1 390.9L237.1 391.9L238.1 392.8L239.1 393.6L240.1 394.4L241.1 395.2L242.1 396.0L243.1 396.7L244.1 397.4L245.1 398.0L246.1 398.7L247.1 399.2L248.1 399.8L249.1 400.3L250.1 400.8L251.1 401.3L252.1 401.7L253.0 402.2L254.0 402.6L255.0 402.9L256.0 403.3L257.0 403.6L258.0 404.0L259.0 404.3L260.0 404.6L261.0 404.9L262.0 405.2L263.0 405.5L264.0 405.8L265.0 406.1L266.0 406.4" stroke="#00b6ff"/><path d="M210.8 390.4L211.7 390.1L212.7 389.8L213.7 389.4L214.7 388.9L215.7 388.3L216.7 387.3L217.7 386.1L218.7 385.0L219.7 383.8L220.7 382.1L221.7 379.5L222.7 376.7L223.7 373.7L224.7 370.0L225.1 368.7L225.7 366.3L225.7 366.1L226.3 363.9L226.7 362.1L226.9 361.3L227.5 358.7L227.7 357.7L228.1 356.0L228.7 353.2L228.7 353.1L229.3 350.2L229.7 348.1L229.9 347.2L230.5 345.7L230.7 345.3L231.1 344.7L231.7 344.0L231.7 344.0L232.3 343.5L232.7 343.4L232.9 343.5L233.5 344.0L233.7 344.2L234.1 344.7L234.7 345.6L234.7 345.6L235.3 346.9L235.7 347.8L235.9 348.5L236.5 350.3L236.7 350.7L237.1 352.4L237.7 354.5L237.7 354.8L238.3 357.5L238.6 359.0L238.9 360.4L239.5 363.4L239.6 363.9L240.1 366.4L240.6 369.0L240.7 369.5L241.3 372.6L241.6 374.1L241.9 375.6L242.6 378.3L242.6 378.7L243.6 382.7L244.6 385.6L245.6 387.8L246.6 389.7L247.6 391.1L248.6 392.3L249.6 393.4L250.6 394.3L251.6 395.1L252.6 395.8L253.6 396.5L254.6 397.2L255.6 397.9L256.6 398.5L257.6 399.1L258.6 399.7L259.6 400.3L260.6 400.8L261.6 401.3L262.6 401.7L263.6 402.2L264.6 402.6L265.6 403.0L266.5 403.4L267.5 403.7L268.5 404.1L269.5 404.4L270.5 404.7L271.5 405.0L272.5 405.2L273.5 405.5L274.5 405.8L275.5 406.1L276.5 406.3L277.5 406.6L278.5 406.9L279.5 407.2" stroke="#00d2ff"/><path d="M224.2 392.5L225.2 392.3L226.2 392.0L227.2 391.8L228.2 391.4L229.2 390.9L230.2 390.1L231.2 389.3L232.2 388.4L233.2 387.4L234.2 386.2L235.2 384.3L236.2 382.2L237.2 379.9L238.2 377.0L238.6 375.8L239.2 374.0L239.2 374.0L239.8 372.1L240.2 370.9L240.4 370.2L241.0 368.3L241.2 367.7L241.6 366.3L242.2 364.3L242.2 364.2L242.8 362.0L243.2 360.6L243.4 359.8L244.0 358.4L244.2 358.2L244.6 357.5L245.2 357.0L245.2 356.9L245.8 356.5L246.2 356.5L246.4 356.6L247.0 357.0L247.2 357.1L247.7 357.6L248.2 358.3L248.3 358.5L248.9 359.6L249.2 360.2L249.5 360.9L250.1 362.5L250.2 362.7L250.7 364.3L251.2 365.9L251.3 366.3L251.9 368.6L252.1 369.7L252.5 371.0L253.1 373.4L253.1 373.7L253.7 375.9L254.1 377.8L254.3 378.4L254.9 380.9L255.1 381.9L255.5 383.3L256.1 385.4L256.1 385.5L257.1 388.5L258.1 390.7L259.1 392.4L260.1 393.8L261.1 394.9L262.1 395.8L263.1 396.7L264.1 397.4L265.1 398.0L266.1 398.6L267.1 399.2L268.1 399.8L269.1 400.4L270.1 400.9L271.1 401.4L272.1 401.8L273.1 402.3L274.1 402.6L275.1 403.0L276.1 403.4L277.1 403.7L278.1 404.0L279.1 404.3L280.0 404.5L281.0 404.8L282.0 405.0L283.0 405.2L284.0 405.4L285.0 405.6L286.0 405.8L287.0 406.0L288.0 406.2L289.0 406.4L290.0 406.6L291.0 406.7L292.0 406.9L293.0 407.1" stroke="#00edff"/><path d="M237.8 393.6L238.7 393.4L239.7 393.2L240.7 393.0L241.7 392.8L242.7 392.5L243.7 392.0L244.7 391.4L245.7 390.8L246.7 390.1L247.7 389.3L248.7 388.1L249.7 386.6L250.7 385.1L251.7 383.1L252.2 382.2L252.7 381.0L252.8 380.9L253.4 379.7L253.7 379.0L254.0 378.4L254.6 377.1L254.7 376.8L255.2 375.8L255.7 374.6L255.8 374.4L256.4 373.0L256.7 372.2L257.0 371.5L257.6 370.5L257.7 370.4L258.2 369.8L258.7 369.5L258.8 369.4L259.4 369.1L259.7 369.0L260.0 369.1L260.6 369.5L260.7 369.5L261.2 370.0L261.7 370.5L261.8 370.6L262.4 371.5L262.7 371.9L263.0 372.6L263.6 373.8L263.7 373.9L264.2 375.2L264.7 376.3L264.8 376.8L265.4 378.5L265.6 379.2L266.0 380.3L266.6 382.1L266.6 382.2L267.2 384.0L267.6 385.2L267.8 385.9L268.4 387.7L268.6 388.2L269.0 389.3L269.6 390.8L269.6 390.8L270.6 392.8L271.6 394.3L272.6 395.6L273.6 396.5L274.6 397.3L275.6 398.0L276.6 398.6L277.6 399.1L278.6 399.6L279.6 400.1L280.6 400.5L281.6 401.0L282.6 401.4L283.6 401.7L284.6 402.1L285.6 402.4L286.6 402.7L287.6 402.9L288.6 403.2L289.6 403.4L290.6 403.6L291.6 403.8L292.6 404.0L293.5 404.2L294.5 404.3L295.5 404.4L296.5 404.6L297.5 404.7L298.5 404.8L299.5 404.9L300.5 405.1L301.5 405.2L302.5 405.3L303.5 405.4L304.5 405.5L305.5 405.6L306.5 405.7" stroke="#0afff5"/><path d="M251.2 394.4L252.2 394.3L253.2 394.1L254.2 394.0L255.2 393.8L256.2 393.6L257.2 393.3L258.2 392.9L259.2 392.5L260.2 392.0L261.2 391.5L262.2 390.7L263.2 389.7L264.2 388.7L265.2 387.4L265.7 386.6L266.2 385.9L266.3 385.8L266.9 384.9L267.2 384.5L267.5 384.0L268.1 383.2L268.2 383.1L268.7 382.3L269.2 381.6L269.3 381.4L269.9 380.5L270.2 380.1L270.5 379.5L271.1 378.8L271.2 378.7L271.7 378.3L272.2 378.0L272.3 377.9L272.9 377.7L273.2 377.7L273.5 377.7L274.1 378.0L274.2 378.0L274.8 378.4L275.2 378.8L275.4 379.0L276.0 379.7L276.2 380.0L276.6 380.5L277.2 381.5L277.2 381.5L277.8 382.6L278.2 383.4L278.4 383.8L279.0 385.2L279.1 385.5L279.6 386.5L280.1 387.8L280.2 387.9L280.8 389.3L281.1 390.1L281.4 390.7L282.0 391.9L282.1 392.2L282.6 393.1L283.1 394.1L283.2 394.2L284.1 395.5L285.1 396.6L286.1 397.4L287.1 398.1L288.1 398.7L289.1 399.1L290.1 399.6L291.1 400.0L292.1 400.4L293.1 400.7L294.1 401.1L295.1 401.4L296.1 401.6L297.1 401.9L298.1 402.1L299.1 402.3L300.1 402.5L301.1 402.6L302.1 402.8L303.1 402.9L304.1 403.1L305.1 403.2L306.1 403.3L307.0 403.4L308.0 403.5L309.0 403.6L310.0 403.7L311.0 403.7L312.0 403.8L313.0 403.9L314.0 404.0L315.0 404.1L316.0 404.1L317.0 404.2L318.0 404.3L319.0 404.3L320.0 404.4" stroke="#25ffda"/><path d="M264.8 395.7L265.7 395.6L266.7 395.5L267.7 395.5L268.7 395.3L269.7 395.2L270.7 395.0L271.7 394.8L272.7 394.5L273.7 394.2L274.7 393.8L275.7 393.3L276.7 392.7L277.7 392.0L278.7 391.2L279.2 390.6L279.7 390.2L279.9 390.1L280.5 389.5L280.7 389.3L281.1 388.9L281.7 388.4L281.7 388.4L282.3 387.8L282.7 387.4L282.9 387.2L283.5 386.6L283.7 386.4L284.1 386.0L284.7 385.5L284.7 385.5L285.3 385.2L285.7 385.0L285.9 384.9L286.5 384.8L286.7 384.7L287.1 384.8L287.7 385.0L287.7 385.0L288.3 385.3L288.7 385.6L288.9 385.8L289.5 386.3L289.7 386.4L290.1 386.9L290.7 387.6L290.7 387.6L291.3 388.5L291.7 389.0L291.9 389.4L292.5 390.3L292.6 390.5L293.1 391.3L293.6 392.1L293.7 392.3L294.3 393.2L294.6 393.7L294.9 394.2L295.5 395.1L295.6 395.2L296.1 395.9L296.6 396.4L296.8 396.5L297.6 397.3L298.6 398.1L299.6 398.6L300.6 399.1L301.6 399.5L302.6 399.8L303.6 400.1L304.6 400.4L305.6 400.7L306.6 400.9L307.6 401.1L308.6 401.3L309.6 401.4L310.6 401.6L311.6 401.7L312.6 401.8L313.6 401.9L314.6 402.0L315.6 402.1L316.6 402.2L317.6 402.3L318.6 402.4L319.6 402.4L320.5 402.5L321.5 402.5L322.5 402.6L323.5 402.6L324.5 402.7L325.5 402.7L326.5 402.8L327.5 402.8L328.5 402.9L329.5 402.9L330.5 403.0L331.5 403.0L332.5 403.0L333.5 403.1" stroke="#40ffbf"/><path d="M278.2 397.8L279.2 397.8L280.2 397.7L281.2 397.7L282.2 397.6L283.2 397.5L284.2 397.4L285.2 397.3L286.2 397.2L287.2 397.0L288.2 396.8L289.2 396.6L290.2 396.3L291.2 395.9L292.2 395.5L292.8 395.2L293.2 395.0L293.4 394.9L294.0 394.6L294.2 394.5L294.6 394.3L295.2 394.0L295.2 394.0L295.8 393.7L296.2 393.5L296.4 393.4L297.0 393.1L297.2 393.0L297.6 392.8L298.2 392.5L298.2 392.5L298.8 392.3L299.2 392.2L299.4 392.2L300.0 392.1L300.2 392.1L300.6 392.1L301.2 392.2L301.2 392.2L301.9 392.4L302.2 392.6L302.5 392.7L303.1 393.0L303.2 393.1L303.7 393.3L304.2 393.7L304.3 393.8L304.9 394.2L305.2 394.5L305.5 394.7L306.1 395.3L306.1 395.3L306.7 395.8L307.1 396.2L307.3 396.3L307.9 396.9L308.1 397.1L308.5 397.3L309.1 397.8L309.1 397.8L309.7 398.2L310.1 398.5L310.3 398.5L311.1 399.0L312.1 399.3L313.1 399.6L314.1 399.8L315.1 400.0L316.1 400.2L317.1 400.4L318.1 400.5L319.1 400.7L320.1 400.8L321.1 400.9L322.1 400.9L323.1 401.0L324.1 401.1L325.1 401.1L326.1 401.2L327.1 401.2L328.1 401.3L329.1 401.3L330.1 401.4L331.1 401.4L332.1 401.4L333.1 401.4L334.0 401.5L335.0 401.5L336.0 401.5L337.0 401.5L338.0 401.6L339.0 401.6L340.0 401.6L341.0 401.6L342.0 401.7L343.0 401.7L344.0 401.7L345.0 401.7L346.0 401.7L347.0 401.8" stroke="#5cffa3"/></g><rect x="69.2" y="280.1" width="212.1" height="143.9" fill="none" stroke="#adadad" stroke-width="1.15"/><path d="M81.5 424.0v-2.2M81.5 280.1v2.2M131.5 424.0v-2.2M131.5 280.1v2.2M181.5 424.0v-2.2M181.5 280.1v2.2M231.5 424.0v-2.2M231.5 280.1v2.2M69.2 410.9h2.2M281.3 410.9h-2.2M69.2 384.7h2.2M281.3 384.7h-2.2M69.2 358.6h2.2M281.3 358.6h-2.2M69.2 332.4h2.2M281.3 332.4h-2.2M69.2 306.3h2.2M281.3 306.3h-2.2" stroke="#adadad" stroke-width="0.7" fill="none"/><text x="64.6" y="415" font-size="12" class="k" fill="#222222" text-anchor="end">7</text><text x="64.6" y="388.8" font-size="12" class="k" fill="#222222" text-anchor="end">8</text><text x="64.6" y="362.7" font-size="12" class="k" fill="#222222" text-anchor="end">9</text><text x="64.6" y="336.5" font-size="12" class="k" fill="#222222" text-anchor="end">10</text><text x="64.6" y="310.4" font-size="12" class="k" fill="#222222" text-anchor="end">11</text><text x="64.6" y="284.2" font-size="12" class="k" fill="#222222" text-anchor="end">12</text><text x="81.8" y="438.2" font-size="12" class="k" fill="#222222" text-anchor="middle">–8</text><text x="131.8" y="438.2" font-size="12" class="k" fill="#222222" text-anchor="middle">–6</text><text x="181.8" y="438.2" font-size="12" class="k" fill="#222222" text-anchor="middle">–4</text><text x="231.8" y="438.2" font-size="12" class="k" fill="#222222" text-anchor="middle">–2</text><text x="282.1" y="438.2" font-size="12" class="k" fill="#222222" text-anchor="middle">0</text><text x="149.8" y="456.4" font-size="12" class="k" fill="#222222"><tspan font-style="italic">V</tspan><tspan font-size="9.3" dy="3">t,scan</tspan><tspan dy="-3"> (V)</tspan></text><text transform="translate(40.4 352.5) rotate(-90)" font-size="12" class="k" fill="#222222" text-anchor="middle"><tspan font-style="italic">R</tspan> (kΩ)</text></g>
<g id="pd"><clipPath id="cd"><rect x="357.9" y="277.3" width="220.5" height="146.7"/></clipPath><g clip-path="url(#cd)" fill="none" stroke-width="1.6" stroke-linejoin="round" stroke-linecap="round" opacity="0.82"><path d="M358.1 398.3L358.5 398.2L358.8 398.1L359.1 398.1L359.5 398.0L359.8 397.9L360.2 397.8L360.5 397.7L360.9 397.7L361.2 397.7L361.5 397.8L361.9 397.9L362.2 398.0L362.6 398.0L362.9 398.1L363.3 398.2L363.6 398.3L363.9 398.3L364.3 398.3L364.6 398.3L365.0 398.4L365.3 398.4L365.6 398.5L366.0 398.5L366.3 398.4L366.7 398.4L367.0 398.4L367.4 398.4L367.7 398.3L368.0 398.3L368.4 398.3L368.7 398.4L369.1 398.6L369.4 398.9L369.8 399.2L370.1 399.4L370.4 399.7L370.8 400.0L371.1 400.3L371.5 400.7L371.8 401.0L372.1 401.3L372.5 401.5L372.8 401.8L373.2 402.2L373.5 402.6L373.9 402.9L374.2 403.2L374.5 403.5L374.9 403.8L375.2 404.2L375.6 404.5L375.9 404.8L376.2 405.0L376.6 405.2L376.9 405.5L377.3 405.8L377.6 406.1L378.0 406.3L378.3 406.4L378.6 406.6L379.0 406.8L379.3 407.0L379.7 407.1L380.0 407.2L380.4 407.3L380.7 407.4L381.0 407.6L381.4 407.8L381.7 408.0L382.1 408.1L382.4 408.2L382.7 408.3L383.1 408.4L383.4 408.5L383.8 408.6L384.1 408.6L384.5 408.6L384.8 408.7L385.1 408.9L385.5 409.0L385.8 409.1L386.2 409.2L386.5 409.2L386.9 409.2L387.2 409.3L387.5 409.3L387.9 409.4L388.2 409.3L388.6 409.3" stroke="#0000a3"/><path d="M362.5 401.1L362.9 400.4L363.2 399.9L363.6 399.4L363.9 399.1L364.3 398.8L364.7 398.7L365.0 398.7L365.4 398.6L365.8 398.5L366.1 398.4L366.5 398.3L366.9 398.3L367.2 398.3L367.6 398.3L368.0 398.3L368.3 398.2L368.7 398.2L369.0 398.1L369.4 398.0L369.8 397.9L370.1 397.8L370.5 397.7L370.9 397.8L371.2 398.0L371.6 398.1L372.0 398.2L372.3 398.3L372.7 398.4L373.1 398.5L373.4 398.5L373.8 398.4L374.2 398.4L374.5 398.4L374.9 398.5L375.2 398.6L375.6 398.8L376.0 399.0L376.3 399.2L376.7 399.5L377.1 399.8L377.4 400.1L377.8 400.4L378.2 400.7L378.5 401.2L378.9 401.8L379.3 402.5L379.6 403.2L380.0 403.6L380.4 403.8L380.7 403.9L381.1 404.0L381.4 404.1L381.8 404.1L382.2 404.2L382.5 404.3L382.9 404.6L383.3 404.9L383.6 405.2L384.0 405.5L384.4 405.7L384.7 405.9L385.1 406.2L385.5 406.4L385.8 406.5L386.2 406.6L386.6 406.8L386.9 407.1L387.3 407.3L387.6 407.5L388.0 407.6L388.4 407.7L388.7 407.9L389.1 408.0L389.5 408.1L389.8 408.2L390.2 408.2L390.6 408.3L390.9 408.5L391.3 408.6L391.7 408.8L392.0 408.8L392.4 408.9L392.7 408.9L393.1 409.0L393.5 409.1L393.8 409.1L394.2 409.1L394.6 409.2L394.9 409.4" stroke="#0000bf"/><path d="M368.9 401.2L369.2 400.8L369.6 400.4L370.0 400.0L370.3 399.8L370.7 399.5L371.0 399.3L371.4 399.1L371.8 398.8L372.1 398.5L372.5 398.3L372.9 398.0L373.2 397.8L373.6 397.7L374.0 397.6L374.3 397.6L374.7 397.7L375.1 397.8L375.4 397.9L375.8 397.9L376.2 397.9L376.5 398.0L376.9 398.1L377.2 398.2L377.6 398.2L378.0 398.2L378.3 398.3L378.7 398.4L379.1 398.4L379.4 398.3L379.8 398.3L380.2 398.2L380.5 398.3L380.9 398.4L381.3 398.4L381.6 398.5L382.0 398.6L382.3 398.9L382.7 399.2L383.1 399.5L383.4 399.8L383.8 400.0L384.2 400.3L384.5 400.8L384.9 401.3L385.3 401.9L385.6 402.5L386.0 403.1L386.4 403.6L386.7 403.8L387.1 404.0L387.5 404.0L387.8 404.0L388.2 404.1L388.5 404.2L388.9 404.4L389.3 404.7L389.6 404.9L390.0 405.2L390.4 405.4L390.7 405.7L391.1 406.0L391.5 406.1L391.8 406.2L392.2 406.4L392.6 406.7L392.9 406.9L393.3 407.1L393.7 407.3L394.0 407.4L394.4 407.6L394.7 407.8L395.1 407.9L395.5 408.0L395.8 408.0L396.2 408.1L396.6 408.3L396.9 408.4L397.3 408.6L397.7 408.6L398.0 408.7L398.4 408.8L398.8 408.9L399.1 408.9L399.5 409.0L399.8 409.0L400.2 409.1L400.6 409.2L400.9 409.3L401.3 409.4" stroke="#0000da"/><path d="M375.2 402.2L375.6 401.6L376.0 401.0L376.3 400.6L376.7 400.2L377.1 399.8L377.4 399.4L377.8 399.1L378.1 398.8L378.5 398.6L378.9 398.2L379.2 397.8L379.6 397.4L380.0 397.3L380.3 397.3L380.7 397.3L381.1 397.3L381.4 397.3L381.8 397.4L382.2 397.5L382.5 397.6L382.9 397.7L383.3 397.7L383.6 397.8L384.0 397.8L384.3 397.9L384.7 397.9L385.1 398.0L385.4 397.9L385.8 397.9L386.2 397.9L386.5 398.0L386.9 398.1L387.3 398.2L387.6 398.2L388.0 398.3L388.4 398.6L388.7 398.9L389.1 399.2L389.4 399.4L389.8 399.7L390.2 400.0L390.5 400.5L390.9 400.9L391.3 401.3L391.6 401.8L392.0 402.5L392.4 403.2L392.7 403.6L393.1 403.8L393.5 403.8L393.8 403.9L394.2 404.0L394.6 404.2L394.9 404.3L395.3 404.5L395.6 404.7L396.0 404.9L396.4 405.2L396.7 405.5L397.1 405.7L397.5 405.9L397.8 406.0L398.2 406.3L398.6 406.5L398.9 406.8L399.3 407.0L399.7 407.1L400.0 407.3L400.4 407.4L400.8 407.6L401.1 407.7L401.5 407.8L401.8 407.9L402.2 408.0L402.6 408.2L402.9 408.4L403.3 408.5L403.7 408.5L404.0 408.6L404.4 408.7L404.8 408.8L405.1 408.8L405.5 408.8L405.9 408.9L406.2 409.0L406.6 409.2L407.0 409.3L407.3 409.4L407.7 409.4" stroke="#0000f5"/><path d="M381.6 403.5L382.0 403.1L382.3 402.7L382.7 402.3L383.1 401.8L383.4 401.4L383.8 401.0L384.2 400.8L384.5 400.5L384.9 400.2L385.2 399.9L385.6 399.7L386.0 399.5L386.3 399.3L386.7 399.1L387.1 398.8L387.4 398.6L387.8 398.4L388.2 398.4L388.5 398.3L388.9 398.3L389.3 398.2L389.6 398.2L390.0 398.2L390.4 398.1L390.7 398.1L391.1 398.0L391.4 397.9L391.8 397.8L392.2 397.8L392.5 397.8L392.9 397.8L393.3 397.8L393.6 397.8L394.0 397.9L394.4 398.0L394.7 398.2L395.1 398.6L395.5 399.0L395.8 399.4L396.2 399.8L396.6 400.2L396.9 400.5L397.3 400.9L397.6 401.3L398.0 401.9L398.4 402.5L398.7 403.1L399.1 403.5L399.5 403.7L399.8 403.8L400.2 404.0L400.6 404.1L400.9 404.2L401.3 404.3L401.7 404.4L402.0 404.7L402.4 404.9L402.7 405.2L403.1 405.4L403.5 405.6L403.8 405.8L404.2 406.1L404.6 406.4L404.9 406.6L405.3 406.7L405.7 406.9L406.0 407.1L406.4 407.3L406.8 407.4L407.1 407.5L407.5 407.6L407.9 407.8L408.2 408.0L408.6 408.2L408.9 408.3L409.3 408.3L409.7 408.4L410.0 408.5L410.4 408.6L410.8 408.7L411.1 408.7L411.5 408.7L411.9 408.9L412.2 409.0L412.6 409.2L413.0 409.3L413.3 409.3L413.7 409.4L414.1 409.4" stroke="#0012ff"/><path d="M388.0 404.4L388.3 403.8L388.7 403.2L389.1 402.6L389.4 402.1L389.8 401.8L390.2 401.4L390.5 401.0L390.9 400.6L391.3 400.3L391.6 400.2L392.0 400.1L392.3 400.1L392.7 399.9L393.1 399.8L393.4 399.7L393.8 399.7L394.2 399.6L394.5 399.3L394.9 398.9L395.3 398.5L395.6 398.2L396.0 398.0L396.4 397.9L396.7 397.8L397.1 397.7L397.5 397.6L397.8 397.6L398.2 397.7L398.5 397.7L398.9 397.7L399.3 397.7L399.6 397.7L400.0 397.8L400.4 397.8L400.7 397.8L401.1 398.0L401.5 398.4L401.8 399.0L402.2 399.5L402.6 399.9L402.9 400.2L403.3 400.5L403.7 400.9L404.0 401.3L404.4 401.9L404.7 402.5L405.1 403.0L405.5 403.5L405.8 403.7L406.2 403.9L406.6 404.0L406.9 404.1L407.3 404.2L407.7 404.3L408.0 404.5L408.4 404.7L408.8 404.9L409.1 405.1L409.5 405.3L409.9 405.6L410.2 406.0L410.6 406.2L410.9 406.4L411.3 406.5L411.7 406.7L412.0 406.9L412.4 407.1L412.8 407.2L413.1 407.3L413.5 407.5L413.9 407.7L414.2 407.9L414.6 408.1L415.0 408.1L415.3 408.2L415.7 408.3L416.0 408.4L416.4 408.5L416.8 408.5L417.1 408.5L417.5 408.6L417.9 408.8L418.2 409.0L418.6 409.1L419.0 409.2L419.3 409.3L419.7 409.4L420.1 409.6L420.4 409.7" stroke="#002dff"/><path d="M394.3 404.7L394.8 404.4L395.3 404.0L395.8 403.5L396.2 402.9L396.7 402.3L397.2 401.8L397.6 401.6L398.1 401.6L398.6 401.6L399.0 401.5L399.5 401.5L400.0 401.6L400.5 401.6L400.9 401.5L401.0 401.4L401.3 400.9L401.4 400.6L401.5 400.3L401.8 399.8L401.9 399.7L402.1 399.3L402.3 399.0L402.4 398.9L402.7 398.5L402.8 398.4L403.0 398.2L403.3 398.0L403.3 398.0L403.5 397.8L403.8 397.6L403.8 397.6L404.1 397.5L404.2 397.5L404.4 397.5L404.7 397.5L404.7 397.5L405.0 397.6L405.2 397.6L405.3 397.7L405.5 397.8L405.6 397.9L405.8 398.1L406.1 398.3L406.1 398.3L406.4 398.6L406.6 398.9L406.7 399.0L407.0 399.4L407.0 399.6L407.2 399.9L407.5 400.4L407.5 400.5L407.8 401.0L408.0 401.3L408.1 401.6L408.4 402.2L408.5 402.3L408.7 402.7L408.9 403.3L409.0 403.3L409.2 403.9L409.4 404.2L409.9 404.9L410.3 405.5L410.8 405.9L411.3 406.3L411.7 406.6L412.2 406.8L412.7 407.0L413.2 407.2L413.6 407.4L414.1 407.5L414.6 407.7L415.0 407.8L415.5 408.0L416.0 408.1L416.4 408.2L416.9 408.4L417.4 408.5L417.9 408.6L418.3 408.7L418.8 408.8L419.3 408.9L419.7 409.0L420.2 409.1L420.7 409.2L421.2 409.2L421.6 409.3L422.1 409.4L422.6 409.5L423.0 409.5L423.5 409.6L424.0 409.6L424.4 409.7L424.9 409.8L425.4 409.8L425.9 409.9L426.3 410.0L426.8 410.0" stroke="#0049ff"/><path d="M400.7 405.8L401.2 405.8L401.7 405.7L402.1 405.6L402.6 405.5L403.1 405.4L403.5 405.2L404.0 405.0L404.5 404.8L405.0 404.6L405.4 404.3L405.9 403.8L406.4 403.4L406.8 402.8L407.3 402.2L407.4 402.1L407.7 401.8L407.8 401.6L407.9 401.4L408.2 401.0L408.2 400.9L408.5 400.6L408.7 400.3L408.8 400.1L409.1 399.7L409.2 399.6L409.4 399.3L409.7 398.8L409.7 398.8L409.9 398.6L410.1 398.5L410.2 398.4L410.5 398.3L410.6 398.3L410.8 398.3L411.1 398.3L411.1 398.3L411.4 398.4L411.5 398.4L411.6 398.5L411.9 398.6L412.0 398.7L412.2 398.8L412.5 399.1L412.5 399.1L412.8 399.4L412.9 399.6L413.1 399.7L413.4 400.1L413.4 400.2L413.6 400.6L413.9 401.0L413.9 401.1L414.2 401.6L414.4 401.9L414.5 402.1L414.8 402.7L414.8 402.7L415.1 403.2L415.3 403.7L415.3 403.8L415.6 404.3L415.8 404.5L416.2 405.2L416.7 405.7L417.2 406.1L417.6 406.5L418.1 406.8L418.6 407.0L419.1 407.2L419.5 407.4L420.0 407.5L420.5 407.7L420.9 407.8L421.4 407.9L421.9 408.1L422.4 408.2L422.8 408.3L423.3 408.5L423.8 408.6L424.2 408.7L424.7 408.8L425.2 408.9L425.6 409.0L426.1 409.0L426.6 409.1L427.1 409.2L427.5 409.3L428.0 409.4L428.5 409.4L428.9 409.5L429.4 409.5L429.9 409.6L430.3 409.7L430.8 409.7L431.3 409.8L431.8 409.8L432.2 409.9L432.7 410.0L433.2 410.0" stroke="#0064ff"/><path d="M407.1 406.2L407.6 406.2L408.0 406.1L408.5 406.0L409.0 406.0L409.4 405.8L409.9 405.7L410.4 405.5L410.9 405.3L411.3 405.1L411.8 404.8L412.3 404.3L412.7 403.9L413.2 403.4L413.7 402.8L413.8 402.7L414.1 402.3L414.1 402.2L414.3 401.9L414.6 401.5L414.6 401.5L414.9 401.1L415.1 400.9L415.2 400.7L415.5 400.3L415.6 400.2L415.8 399.9L416.0 399.5L416.0 399.5L416.3 399.2L416.5 399.2L416.6 399.1L416.9 399.0L417.0 399.0L417.2 398.9L417.4 398.9L417.5 398.9L417.8 399.0L417.9 399.1L418.0 399.1L418.3 399.3L418.4 399.3L418.6 399.5L418.8 399.7L418.9 399.7L419.2 400.0L419.3 400.1L419.5 400.3L419.8 400.7L419.8 400.8L420.0 401.1L420.3 401.5L420.3 401.6L420.6 402.1L420.7 402.3L420.9 402.6L421.2 403.1L421.2 403.2L421.5 403.7L421.7 404.1L421.7 404.2L422.0 404.7L422.1 404.9L422.6 405.6L423.1 406.1L423.6 406.5L424.0 406.8L424.5 407.1L425.0 407.3L425.4 407.5L425.9 407.7L426.4 407.8L426.8 408.0L427.3 408.1L427.8 408.2L428.3 408.4L428.7 408.5L429.2 408.6L429.7 408.7L430.1 408.8L430.6 408.9L431.1 409.0L431.5 409.1L432.0 409.2L432.5 409.3L433.0 409.4L433.4 409.4L433.9 409.5L434.4 409.6L434.8 409.6L435.3 409.7L435.8 409.8L436.2 409.8L436.7 409.9L437.2 409.9L437.7 410.0L438.1 410.0L438.6 410.1L439.1 410.2L439.5 410.2" stroke="#0080ff"/><path d="M413.5 406.8L413.9 406.7L414.4 406.7L414.9 406.6L415.3 406.5L415.8 406.4L416.3 406.2L416.8 406.0L417.2 405.8L417.7 405.6L418.2 405.3L418.6 404.9L419.1 404.4L419.6 403.9L420.0 403.3L420.2 403.2L420.4 402.8L420.5 402.7L420.7 402.4L421.0 402.1L421.0 402.0L421.3 401.7L421.5 401.4L421.6 401.2L421.9 400.8L421.9 400.7L422.2 400.4L422.4 400.0L422.4 400.0L422.7 399.8L422.9 399.7L423.0 399.6L423.3 399.5L423.3 399.5L423.6 399.4L423.8 399.4L423.9 399.4L424.2 399.5L424.3 399.6L424.4 399.6L424.7 399.8L424.7 399.8L425.0 399.9L425.2 400.1L425.3 400.2L425.6 400.4L425.7 400.6L425.9 400.8L426.1 401.1L426.2 401.2L426.4 401.6L426.6 401.9L426.7 402.0L427.0 402.5L427.1 402.6L427.3 403.0L427.6 403.5L427.6 403.5L427.9 404.0L428.0 404.3L428.1 404.5L428.4 404.9L428.5 405.1L429.0 405.7L429.5 406.2L429.9 406.6L430.4 406.9L430.9 407.2L431.3 407.4L431.8 407.6L432.3 407.8L432.7 407.9L433.2 408.0L433.7 408.2L434.2 408.3L434.6 408.4L435.1 408.5L435.6 408.7L436.0 408.8L436.5 408.9L437.0 409.0L437.4 409.1L437.9 409.2L438.4 409.2L438.9 409.3L439.3 409.4L439.8 409.5L440.3 409.5L440.7 409.6L441.2 409.7L441.7 409.7L442.1 409.8L442.6 409.8L443.1 409.9L443.6 409.9L444.0 410.0L444.5 410.0L445.0 410.1L445.4 410.1L445.9 410.2" stroke="#009bff"/><path d="M419.8 407.3L420.3 407.3L420.8 407.3L421.2 407.2L421.7 407.1L422.2 407.0L422.7 406.8L423.1 406.7L423.6 406.5L424.1 406.3L424.5 406.0L425.0 405.6L425.5 405.2L425.9 404.8L426.4 404.2L426.6 404.1L426.8 403.7L426.9 403.7L427.1 403.4L427.4 403.1L427.4 403.0L427.7 402.7L427.8 402.5L428.0 402.3L428.3 401.9L428.3 401.9L428.6 401.5L428.8 401.2L428.8 401.1L429.1 400.9L429.2 400.9L429.4 400.8L429.7 400.7L429.7 400.7L430.0 400.6L430.2 400.6L430.3 400.7L430.5 400.7L430.7 400.8L430.8 400.8L431.1 400.9L431.1 400.9L431.4 401.1L431.6 401.2L431.7 401.3L432.0 401.5L432.1 401.6L432.3 401.8L432.5 402.2L432.5 402.2L432.8 402.5L433.0 402.8L433.1 402.9L433.4 403.4L433.5 403.5L433.7 403.8L433.9 404.2L434.0 404.2L434.3 404.7L434.4 405.0L434.5 405.2L434.8 405.6L434.9 405.7L435.4 406.3L435.8 406.7L436.3 407.1L436.8 407.4L437.2 407.6L437.7 407.8L438.2 407.9L438.6 408.1L439.1 408.2L439.6 408.3L440.1 408.5L440.5 408.6L441.0 408.7L441.5 408.8L441.9 408.9L442.4 409.0L442.9 409.1L443.3 409.2L443.8 409.3L444.3 409.3L444.8 409.4L445.2 409.5L445.7 409.6L446.2 409.6L446.6 409.7L447.1 409.7L447.6 409.8L448.1 409.8L448.5 409.9L449.0 409.9L449.5 410.0L449.9 410.0L450.4 410.1L450.9 410.1L451.3 410.2L451.8 410.2L452.3 410.3" stroke="#00b6ff"/><path d="M426.2 407.9L426.7 407.8L427.1 407.8L427.6 407.7L428.1 407.7L428.6 407.6L429.0 407.4L429.5 407.3L430.0 407.1L430.4 406.9L430.9 406.7L431.4 406.3L431.8 406.0L432.3 405.6L432.8 405.1L433.0 404.9L433.2 404.6L433.3 404.6L433.5 404.3L433.7 404.0L433.8 404.0L434.1 403.6L434.2 403.5L434.4 403.3L434.7 402.9L434.7 402.9L434.9 402.6L435.1 402.3L435.2 402.2L435.5 402.0L435.6 402.0L435.8 401.9L436.1 401.8L436.1 401.8L436.4 401.8L436.6 401.8L436.7 401.8L436.9 401.9L437.0 401.9L437.2 401.9L437.5 402.0L437.5 402.0L437.8 402.2L438.0 402.3L438.1 402.4L438.4 402.6L438.4 402.7L438.7 402.9L438.9 403.1L438.9 403.1L439.2 403.5L439.4 403.7L439.5 403.8L439.8 404.2L439.8 404.3L440.1 404.6L440.3 404.9L440.4 405.0L440.6 405.4L440.8 405.6L440.9 405.8L441.2 406.2L441.3 406.2L441.7 406.8L442.2 407.2L442.7 407.5L443.1 407.8L443.6 408.0L444.1 408.2L444.5 408.3L445.0 408.4L445.5 408.6L446.0 408.7L446.4 408.8L446.9 408.9L447.4 409.0L447.8 409.1L448.3 409.2L448.8 409.2L449.3 409.3L449.7 409.4L450.2 409.5L450.7 409.6L451.1 409.6L451.6 409.7L452.1 409.7L452.5 409.8L453.0 409.9L453.5 409.9L454.0 410.0L454.4 410.0L454.9 410.1L455.4 410.1L455.8 410.1L456.3 410.2L456.8 410.2L457.2 410.3L457.7 410.3L458.2 410.4L458.7 410.4" stroke="#00d2ff"/><path d="M432.6 408.2L433.0 408.1L433.5 408.1L434.0 408.1L434.5 408.0L434.9 407.9L435.4 407.8L435.9 407.7L436.3 407.6L436.8 407.5L437.3 407.3L437.8 407.0L438.2 406.7L438.7 406.4L439.2 406.0L439.4 405.8L439.6 405.6L439.6 405.6L439.9 405.4L440.1 405.2L440.2 405.1L440.5 404.8L440.6 404.8L440.8 404.6L441.0 404.3L441.1 404.3L441.3 404.0L441.5 403.9L441.6 403.8L441.9 403.6L442.0 403.6L442.2 403.5L442.5 403.4L442.5 403.4L442.8 403.4L442.9 403.4L443.1 403.4L443.3 403.4L443.4 403.4L443.6 403.5L443.9 403.6L443.9 403.6L444.2 403.7L444.3 403.8L444.5 403.9L444.8 404.1L444.8 404.1L445.0 404.3L445.3 404.5L445.3 404.6L445.6 404.9L445.7 405.0L445.9 405.2L446.2 405.5L446.2 405.6L446.5 405.9L446.7 406.1L446.8 406.2L447.0 406.5L447.2 406.7L447.3 406.9L447.6 407.2L447.6 407.2L448.1 407.6L448.6 407.9L449.0 408.2L449.5 408.4L450.0 408.5L450.4 408.7L450.9 408.8L451.4 408.9L451.9 409.0L452.3 409.1L452.8 409.2L453.3 409.3L453.7 409.3L454.2 409.4L454.7 409.5L455.2 409.6L455.6 409.6L456.1 409.7L456.6 409.7L457.0 409.8L457.5 409.9L458.0 409.9L458.4 409.9L458.9 410.0L459.4 410.0L459.9 410.1L460.3 410.1L460.8 410.1L461.3 410.2L461.7 410.2L462.2 410.2L462.7 410.2L463.1 410.3L463.6 410.3L464.1 410.3L464.6 410.4L465.0 410.4" stroke="#00edff"/><path d="M439.0 408.3L439.4 408.3L439.9 408.3L440.4 408.3L440.8 408.2L441.3 408.2L441.8 408.1L442.2 408.0L442.7 407.9L443.2 407.8L443.7 407.7L444.1 407.5L444.6 407.3L445.1 407.1L445.5 406.8L445.7 406.7L446.0 406.6L446.0 406.5L446.3 406.4L446.5 406.3L446.6 406.2L446.9 406.0L446.9 406.0L447.2 405.8L447.4 405.7L447.5 405.7L447.7 405.5L447.9 405.4L448.0 405.3L448.3 405.1L448.4 405.1L448.6 405.0L448.8 405.0L448.9 405.0L449.2 405.0L449.3 404.9L449.4 405.0L449.7 405.0L449.8 405.0L450.0 405.1L450.2 405.1L450.3 405.2L450.6 405.3L450.7 405.3L450.9 405.4L451.2 405.6L451.2 405.6L451.4 405.8L451.6 405.9L451.7 406.0L452.0 406.2L452.1 406.3L452.3 406.5L452.6 406.7L452.6 406.7L452.9 407.0L453.1 407.1L453.2 407.2L453.4 407.5L453.5 407.6L453.7 407.7L454.0 407.9L454.0 407.9L454.5 408.2L454.9 408.4L455.4 408.6L455.9 408.8L456.4 408.9L456.8 409.0L457.3 409.1L457.8 409.2L458.2 409.2L458.7 409.3L459.2 409.4L459.6 409.4L460.1 409.5L460.6 409.6L461.1 409.6L461.5 409.7L462.0 409.7L462.5 409.7L462.9 409.8L463.4 409.8L463.9 409.8L464.3 409.9L464.8 409.9L465.3 409.9L465.8 409.9L466.2 410.0L466.7 410.0L467.2 410.0L467.6 410.0L468.1 410.0L468.6 410.1L469.0 410.1L469.5 410.1L470.0 410.1L470.5 410.1L470.9 410.2L471.4 410.2" stroke="#0afff5"/><path d="M445.3 408.5L445.8 408.4L446.3 408.4L446.7 408.4L447.2 408.4L447.7 408.3L448.1 408.3L448.6 408.2L449.1 408.2L449.6 408.1L450.0 408.0L450.5 407.9L451.0 407.8L451.4 407.6L451.9 407.4L452.1 407.3L452.4 407.2L452.4 407.2L452.7 407.1L452.8 407.0L453.0 407.0L453.3 406.9L453.3 406.8L453.6 406.7L453.8 406.6L453.9 406.6L454.1 406.5L454.3 406.4L454.4 406.3L454.7 406.2L454.7 406.2L455.0 406.2L455.2 406.1L455.3 406.1L455.6 406.1L455.7 406.1L455.8 406.1L456.1 406.1L456.1 406.1L456.4 406.2L456.6 406.2L456.7 406.3L457.0 406.4L457.1 406.4L457.3 406.5L457.5 406.6L457.6 406.6L457.8 406.8L458.0 406.9L458.1 406.9L458.4 407.1L458.5 407.2L458.7 407.3L459.0 407.5L459.0 407.5L459.3 407.7L459.4 407.8L459.5 407.9L459.8 408.1L459.9 408.1L460.1 408.3L460.4 408.4L460.4 408.4L460.8 408.6L461.3 408.8L461.8 408.9L462.3 409.0L462.7 409.1L463.2 409.2L463.7 409.2L464.1 409.3L464.6 409.3L465.1 409.4L465.5 409.5L466.0 409.5L466.5 409.5L467.0 409.6L467.4 409.6L467.9 409.6L468.4 409.7L468.8 409.7L469.3 409.7L469.8 409.7L470.2 409.8L470.7 409.8L471.2 409.8L471.7 409.8L472.1 409.8L472.6 409.8L473.1 409.9L473.5 409.9L474.0 409.9L474.5 409.9L475.0 409.9L475.4 409.9L475.9 409.9L476.4 409.9L476.8 409.9L477.3 410.0L477.8 410.0" stroke="#25ffda"/><path d="M451.7 408.6L452.2 408.6L452.6 408.6L453.1 408.6L453.6 408.6L454.0 408.6L454.5 408.5L455.0 408.5L455.5 408.5L455.9 408.4L456.4 408.4L456.9 408.3L457.3 408.2L457.8 408.1L458.3 408.0L458.5 407.9L458.7 407.8L458.8 407.8L459.1 407.7L459.2 407.7L459.4 407.7L459.7 407.6L459.7 407.6L460.0 407.5L460.2 407.4L460.2 407.4L460.5 407.3L460.6 407.3L460.8 407.3L461.1 407.2L461.1 407.2L461.4 407.1L461.6 407.1L461.7 407.1L462.0 407.1L462.0 407.1L462.2 407.1L462.5 407.1L462.5 407.1L462.8 407.2L463.0 407.2L463.1 407.2L463.4 407.3L463.5 407.3L463.7 407.4L463.9 407.5L463.9 407.5L464.2 407.6L464.4 407.7L464.5 407.7L464.8 407.9L464.9 407.9L465.1 408.0L465.3 408.1L465.4 408.1L465.7 408.3L465.8 408.4L465.9 408.4L466.2 408.6L466.3 408.6L466.5 408.7L466.7 408.8L466.8 408.8L467.2 408.9L467.7 409.0L468.2 409.1L468.6 409.2L469.1 409.2L469.6 409.3L470.0 409.3L470.5 409.3L471.0 409.4L471.4 409.4L471.9 409.5L472.4 409.5L472.9 409.5L473.3 409.5L473.8 409.6L474.3 409.6L474.7 409.6L475.2 409.6L475.7 409.6L476.1 409.6L476.6 409.6L477.1 409.6L477.6 409.7L478.0 409.7L478.5 409.7L479.0 409.7L479.4 409.7L479.9 409.7L480.4 409.7L480.9 409.7L481.3 409.7L481.8 409.7L482.3 409.7L482.7 409.7L483.2 409.7L483.7 409.8L484.1 409.8" stroke="#40ffbf"/><path d="M458.1 409.0L458.5 409.0L459.0 408.9L459.5 408.9L459.9 408.9L460.4 408.9L460.9 408.9L461.4 408.9L461.8 408.9L462.3 408.8L462.8 408.8L463.2 408.8L463.7 408.7L464.2 408.7L464.7 408.6L464.9 408.6L465.1 408.5L465.2 408.5L465.5 408.5L465.6 408.5L465.8 408.4L466.1 408.4L466.1 408.4L466.4 408.4L466.5 408.3L466.6 408.3L466.9 408.3L467.0 408.3L467.2 408.2L467.5 408.2L467.5 408.2L467.8 408.2L467.9 408.1L468.1 408.1L468.4 408.1L468.4 408.1L468.6 408.1L468.9 408.1L468.9 408.1L469.2 408.2L469.4 408.2L469.5 408.2L469.8 408.3L469.8 408.3L470.1 408.3L470.3 408.3L470.3 408.4L470.6 408.4L470.8 408.5L470.9 408.5L471.2 408.6L471.2 408.6L471.5 408.7L471.7 408.7L471.8 408.7L472.1 408.8L472.2 408.8L472.3 408.9L472.6 409.0L472.6 409.0L472.9 409.0L473.1 409.1L473.2 409.1L473.6 409.1L474.1 409.2L474.5 409.2L475.0 409.3L475.5 409.3L475.9 409.3L476.4 409.3L476.9 409.4L477.3 409.4L477.8 409.4L478.3 409.4L478.8 409.4L479.2 409.4L479.7 409.5L480.2 409.5L480.6 409.5L481.1 409.5L481.6 409.5L482.1 409.5L482.5 409.5L483.0 409.5L483.5 409.5L483.9 409.5L484.4 409.5L484.9 409.5L485.3 409.5L485.8 409.5L486.3 409.5L486.8 409.5L487.2 409.5L487.7 409.5L488.2 409.5L488.6 409.5L489.1 409.5L489.6 409.6L490.0 409.6L490.5 409.6" stroke="#5cffa3"/><path d="M464.4 409.3L464.8 409.3L465.2 409.3L465.5 409.2L465.9 409.2L466.3 409.2L466.6 409.2L467.0 409.2L467.4 409.1L467.7 409.1L468.1 409.1L468.4 409.0L468.8 408.9L469.2 408.9L469.5 408.8L469.9 408.7L470.3 408.6L470.6 408.5L471.0 408.4L471.3 408.3L471.4 408.2L471.6 408.1L471.7 408.1L471.9 408.0L472.1 407.9L472.2 407.9L472.5 407.8L472.5 407.8L472.8 407.7L472.8 407.6L473.0 407.6L473.2 407.5L473.3 407.4L473.6 407.4L473.6 407.3L473.9 407.2L473.9 407.2L474.2 407.1L474.3 407.1L474.5 407.1L474.6 407.0L474.7 407.0L475.0 407.0L475.0 407.0L475.3 407.1L475.4 407.1L475.6 407.1L475.7 407.2L475.9 407.2L476.1 407.3L476.2 407.3L476.5 407.4L476.5 407.4L476.7 407.5L476.8 407.5L477.0 407.6L477.2 407.7L477.3 407.7L477.6 407.9L477.6 407.9L477.9 408.0L477.9 408.0L478.2 408.1L478.3 408.2L478.4 408.3L478.7 408.4L478.7 408.4L479.0 408.5L479.0 408.5L479.3 408.6L479.4 408.6L479.6 408.7L479.8 408.7L480.1 408.8L480.5 408.9L480.8 408.9L481.2 409.0L481.6 409.0L481.9 409.1L482.3 409.1L482.7 409.1L483.0 409.1L483.4 409.2L483.8 409.2L484.1 409.2L484.5 409.2L484.9 409.2L485.2 409.2L485.6 409.2L485.9 409.3L486.3 409.3L486.7 409.3L487.0 409.3L487.4 409.3L487.8 409.3L488.1 409.3L488.5 409.3L488.9 409.3L489.2 409.3L489.6 409.3L490.0 409.3L490.3 409.3L490.7 409.3L491.1 409.3L491.4 409.3L491.8 409.4L492.1 409.4L492.5 409.4L492.9 409.4L493.2 409.4L493.6 409.4L494.0 409.4L494.3 409.4L494.7 409.4L495.1 409.4L495.4 409.4L495.8 409.4L496.2 409.4L496.5 409.4L496.9 409.4" stroke="#77ff88"/><path d="M470.8 409.0L471.2 409.0L471.5 409.0L471.9 408.9L472.3 408.9L472.6 408.8L473.0 408.8L473.4 408.7L473.7 408.6L474.1 408.5L474.5 408.4L474.8 408.3L475.2 408.1L475.5 407.9L475.9 407.7L476.3 407.5L476.6 407.2L477.0 406.9L477.4 406.6L477.7 406.1L477.7 406.1L478.0 405.7L478.1 405.6L478.3 405.4L478.5 405.2L478.6 405.1L478.8 404.8L478.9 404.8L479.1 404.4L479.2 404.4L479.4 404.1L479.6 404.0L479.7 403.8L479.9 403.6L480.0 403.5L480.3 403.2L480.3 403.2L480.6 402.9L480.7 402.8L480.9 402.7L481.0 402.6L481.1 402.6L481.4 402.6L481.4 402.6L481.7 402.7L481.7 402.7L482.0 402.9L482.1 403.0L482.3 403.1L482.5 403.3L482.6 403.4L482.8 403.7L482.9 403.7L483.1 404.1L483.2 404.2L483.4 404.4L483.6 404.6L483.7 404.8L483.9 405.2L484.0 405.2L484.3 405.6L484.3 405.7L484.6 406.0L484.7 406.2L484.8 406.4L485.0 406.6L485.1 406.8L485.4 407.1L485.4 407.1L485.7 407.4L485.8 407.4L486.0 407.6L486.1 407.7L486.5 407.9L486.9 408.1L487.2 408.3L487.6 408.4L487.9 408.5L488.3 408.6L488.7 408.7L489.0 408.7L489.4 408.8L489.8 408.8L490.1 408.9L490.5 408.9L490.9 408.9L491.2 409.0L491.6 409.0L492.0 409.0L492.3 409.0L492.7 409.1L493.1 409.1L493.4 409.1L493.8 409.1L494.1 409.1L494.5 409.1L494.9 409.2L495.2 409.2L495.6 409.2L496.0 409.2L496.3 409.2L496.7 409.2L497.1 409.2L497.4 409.2L497.8 409.3L498.2 409.3L498.5 409.3L498.9 409.3L499.2 409.3L499.6 409.3L500.0 409.3L500.3 409.3L500.7 409.3L501.1 409.4L501.4 409.4L501.8 409.4L502.2 409.4L502.5 409.4L502.9 409.4L503.3 409.4" stroke="#93ff6c"/><path d="M477.2 408.7L477.5 408.6L477.9 408.5L478.3 408.5L478.6 408.4L479.0 408.3L479.4 408.2L479.7 408.1L480.1 407.9L480.5 407.7L480.8 407.5L481.2 407.2L481.6 406.9L481.9 406.6L482.3 406.2L482.7 405.8L483.0 405.3L483.4 404.7L483.7 404.0L484.1 403.1L484.1 403.1L484.4 402.3L484.5 402.1L484.7 401.6L484.8 401.3L485.0 401.0L485.2 400.5L485.3 400.3L485.5 399.7L485.6 399.7L485.8 399.1L485.9 398.9L486.1 398.5L486.3 398.1L486.4 397.9L486.7 397.3L486.7 397.3L487.0 396.7L487.0 396.6L487.3 396.3L487.4 396.1L487.5 396.0L487.8 396.0L487.8 396.0L488.1 396.4L488.1 396.4L488.4 396.8L488.5 397.0L488.7 397.3L488.8 397.6L489.0 397.8L489.2 398.4L489.2 398.5L489.5 399.3L489.6 399.4L489.8 400.1L489.9 400.5L490.1 400.9L490.3 401.5L490.4 401.7L490.7 402.5L490.7 402.6L491.0 403.3L491.0 403.6L491.2 404.1L491.4 404.5L491.5 404.9L491.8 405.5L491.8 405.6L492.1 406.1L492.1 406.2L492.4 406.6L492.5 406.7L492.9 407.1L493.2 407.4L493.6 407.6L494.0 407.8L494.3 408.0L494.7 408.1L495.0 408.2L495.4 408.3L495.8 408.4L496.1 408.4L496.5 408.5L496.9 408.6L497.2 408.6L497.6 408.7L498.0 408.7L498.3 408.7L498.7 408.8L499.1 408.8L499.4 408.8L499.8 408.9L500.2 408.9L500.5 408.9L500.9 409.0L501.2 409.0L501.6 409.0L502.0 409.0L502.3 409.0L502.7 409.1L503.1 409.1L503.4 409.1L503.8 409.1L504.2 409.2L504.5 409.2L504.9 409.2L505.3 409.2L505.6 409.2L506.0 409.3L506.4 409.3L506.7 409.3L507.1 409.3L507.4 409.3L507.8 409.3L508.2 409.4L508.5 409.4L508.9 409.4L509.3 409.4L509.6 409.4" stroke="#aeff51"/><path d="M483.6 408.3L483.9 408.2L484.3 408.1L484.6 407.9L485.0 407.8L485.4 407.6L485.7 407.5L486.1 407.3L486.5 407.1L486.8 406.8L487.2 406.4L487.6 406.0L487.9 405.5L488.3 405.0L488.7 404.4L489.0 403.7L489.4 402.9L489.8 402.0L490.1 401.0L490.5 399.5L490.5 399.4L490.8 398.2L490.8 398.0L491.1 397.1L491.2 396.6L491.4 396.1L491.6 395.4L491.7 395.1L491.9 394.1L491.9 394.1L492.2 393.2L492.3 392.9L492.5 392.2L492.7 391.6L492.8 391.2L493.0 390.4L493.1 390.3L493.4 389.4L493.4 389.3L493.6 388.7L493.8 388.5L493.9 388.2L494.1 388.2L494.2 388.3L494.5 388.8L494.5 388.8L494.8 389.5L494.9 389.7L495.1 390.3L495.2 390.7L495.4 391.2L495.6 392.0L495.6 392.3L495.9 393.5L496.0 393.6L496.2 394.7L496.3 395.2L496.5 396.0L496.7 396.8L496.8 397.3L497.0 398.5L497.1 398.6L497.4 399.8L497.4 400.1L497.6 401.0L497.8 401.6L497.9 402.2L498.1 403.1L498.2 403.3L498.5 404.2L498.5 404.2L498.8 404.9L498.9 405.1L499.2 405.7L499.6 406.2L500.0 406.6L500.3 406.9L500.7 407.2L501.1 407.3L501.4 407.5L501.8 407.6L502.1 407.8L502.5 407.9L502.9 408.0L503.2 408.1L503.6 408.2L504.0 408.2L504.3 408.3L504.7 408.4L505.1 408.4L505.4 408.5L505.8 408.5L506.2 408.6L506.5 408.7L506.9 408.7L507.3 408.8L507.6 408.8L508.0 408.8L508.3 408.9L508.7 408.9L509.1 408.9L509.4 409.0L509.8 409.0L510.2 409.0L510.5 409.0L510.9 409.0L511.3 409.0L511.6 409.0L512.0 409.0L512.4 409.0L512.7 409.0L513.1 409.0L513.5 408.9L513.8 408.9L514.2 408.9L514.5 408.9L514.9 408.9L515.3 408.9L515.6 408.8L516.0 408.8" stroke="#c9ff36"/><path d="M489.9 407.9L490.3 407.7L490.7 407.6L491.0 407.4L491.4 407.2L491.7 407.0L492.1 406.8L492.5 406.5L492.8 406.2L493.2 405.8L493.6 405.3L493.9 404.8L494.3 404.1L494.7 403.4L495.0 402.5L495.4 401.6L495.8 400.6L496.1 399.4L496.5 397.9L496.9 396.0L496.9 395.6L497.2 394.0L497.2 393.8L497.5 392.5L497.6 392.0L497.8 391.1L497.9 390.2L498.1 389.7L498.3 388.5L498.3 388.4L498.6 387.1L498.7 386.8L498.9 385.7L499.0 385.1L499.2 384.4L499.4 383.4L499.5 383.1L499.8 381.9L499.8 381.9L500.0 381.0L500.1 380.7L500.3 380.3L500.5 380.2L500.6 380.4L500.9 381.0L500.9 381.1L501.2 382.1L501.2 382.2L501.5 383.1L501.6 383.6L501.8 384.3L502.0 385.4L502.0 385.8L502.3 387.5L502.3 387.5L502.6 389.2L502.7 389.7L502.9 391.0L503.1 392.0L503.2 392.8L503.4 394.3L503.5 394.5L503.7 396.2L503.8 396.4L504.0 397.9L504.1 398.5L504.3 399.5L504.5 400.6L504.6 401.1L504.9 402.2L504.9 402.2L505.2 403.2L505.2 403.5L505.6 404.3L506.0 405.0L506.3 405.5L506.7 406.0L507.1 406.3L507.4 406.6L507.8 406.8L508.2 407.0L508.5 407.2L508.9 407.4L509.3 407.5L509.6 407.7L510.0 407.8L510.3 407.9L510.7 407.9L511.1 407.9L511.4 408.0L511.8 408.0L512.2 408.0L512.5 408.0L512.9 408.0L513.3 408.1L513.6 408.1L514.0 408.1L514.4 408.1L514.7 408.1L515.1 408.1L515.4 408.1L515.8 408.1L516.2 408.1L516.5 408.1L516.9 408.1L517.3 408.1L517.6 408.1L518.0 408.1L518.4 408.1L518.7 408.0L519.1 408.0L519.5 408.0L519.8 407.9L520.2 407.9L520.6 407.8L520.9 407.8L521.3 407.8L521.6 407.7L522.0 407.7L522.4 407.6" stroke="#e5ff1a"/><path d="M496.3 407.5L496.7 407.3L497.0 407.1L497.4 406.9L497.8 406.7L498.1 406.4L498.5 406.2L498.9 405.8L499.2 405.4L499.6 404.9L499.9 404.4L500.3 403.7L500.7 402.9L501.0 401.9L501.4 400.9L501.8 399.8L502.1 398.5L502.5 397.0L502.9 395.2L503.2 392.9L503.3 392.3L503.6 390.2L503.6 390.2L503.9 388.3L504.0 387.8L504.2 386.6L504.3 385.6L504.4 384.9L504.7 383.5L504.7 383.3L505.0 381.6L505.0 381.4L505.3 379.9L505.4 379.2L505.6 378.2L505.8 377.1L505.9 376.6L506.1 375.2L506.2 375.2L506.4 374.0L506.5 373.7L506.7 373.1L506.9 373.0L507.0 373.2L507.2 373.9L507.3 374.1L507.6 375.3L507.6 375.4L507.9 376.7L508.0 377.2L508.1 378.2L508.3 379.3L508.4 380.0L508.7 381.9L508.7 382.1L509.0 384.3L509.1 384.7L509.3 386.4L509.4 387.5L509.6 388.7L509.8 390.3L509.9 390.9L510.1 393.0L510.2 393.1L510.4 395.1L510.5 395.7L510.7 397.1L510.9 398.3L511.0 399.0L511.2 400.3L511.3 400.5L511.6 401.7L511.6 401.9L512.0 403.0L512.3 403.8L512.7 404.5L513.1 405.1L513.4 405.5L513.8 405.7L514.2 405.9L514.5 406.1L514.9 406.3L515.3 406.4L515.6 406.6L516.0 406.7L516.4 406.7L516.7 406.8L517.1 406.8L517.4 406.8L517.8 406.8L518.2 406.8L518.5 406.8L518.9 406.8L519.3 406.8L519.6 406.8L520.0 406.8L520.4 406.8L520.7 406.8L521.1 406.8L521.5 406.8L521.8 406.8L522.2 406.8L522.5 406.8L522.9 406.8L523.3 406.8L523.6 406.8L524.0 406.8L524.4 406.8L524.7 406.7L525.1 406.7L525.5 406.7L525.8 406.7L526.2 406.6L526.6 406.6L526.9 406.6L527.3 406.5L527.7 406.5L528.0 406.5L528.4 406.4L528.7 406.4" stroke="#fffe00"/><path d="M502.7 407.2L503.0 407.0L503.4 406.8L503.8 406.5L504.1 406.2L504.5 405.9L504.9 405.6L505.2 405.2L505.6 404.8L506.0 404.2L506.3 403.6L506.7 402.8L507.0 401.8L507.4 400.7L507.8 399.5L508.1 398.2L508.5 396.7L508.9 395.0L509.2 392.9L509.6 390.2L509.7 389.3L510.0 387.0L510.0 386.8L510.3 384.7L510.3 384.3L510.6 382.6L510.7 381.7L510.8 380.7L511.1 379.2L511.1 378.8L511.4 376.8L511.4 376.8L511.7 374.8L511.8 374.2L512.0 372.9L512.1 371.7L512.3 371.0L512.5 369.5L512.6 369.3L512.8 367.9L512.9 367.7L513.1 366.9L513.2 366.7L513.4 367.0L513.6 367.7L513.7 368.1L514.0 369.5L514.0 369.5L514.3 371.0L514.3 371.5L514.5 372.8L514.7 373.9L514.8 374.9L515.1 377.0L515.1 377.4L515.4 379.9L515.4 380.2L515.7 382.4L515.8 383.4L516.0 385.0L516.2 386.7L516.3 387.6L516.5 389.9L516.5 390.0L516.8 392.4L516.9 393.0L517.1 394.8L517.3 396.0L517.4 397.0L517.6 398.3L517.7 398.6L518.0 400.1L518.0 400.1L518.3 401.4L518.7 402.3L519.1 403.1L519.4 403.7L519.8 404.2L520.2 404.4L520.5 404.6L520.9 404.8L521.3 405.0L521.6 405.1L522.0 405.2L522.4 405.3L522.7 405.4L523.1 405.5L523.5 405.5L523.8 405.5L524.2 405.5L524.5 405.5L524.9 405.5L525.3 405.5L525.6 405.5L526.0 405.5L526.4 405.5L526.7 405.5L527.1 405.5L527.5 405.5L527.8 405.5L528.2 405.5L528.6 405.5L528.9 405.5L529.3 405.5L529.7 405.5L530.0 405.5L530.4 405.5L530.7 405.5L531.1 405.5L531.5 405.5L531.8 405.4L532.2 405.4L532.6 405.4L532.9 405.4L533.3 405.4L533.7 405.3L534.0 405.3L534.4 405.3L534.8 405.3L535.1 405.2" stroke="#ffe200"/><path d="M509.0 406.9L509.4 406.7L509.8 406.4L510.1 406.1L510.5 405.8L510.9 405.5L511.2 405.1L511.6 404.7L512.0 404.2L512.3 403.5L512.7 402.8L513.1 401.9L513.4 400.8L513.8 399.6L514.1 398.2L514.5 396.8L514.9 395.1L515.2 393.1L515.6 390.8L516.0 387.8L516.1 386.5L516.3 384.1L516.4 383.7L516.7 381.2L516.7 381.0L517.0 378.9L517.1 378.0L517.2 376.6L517.4 375.2L517.5 374.4L517.8 372.4L517.8 372.3L518.1 370.0L518.2 369.5L518.4 367.7L518.5 366.6L518.7 365.6L518.9 364.0L518.9 363.7L519.2 362.0L519.3 361.9L519.5 360.9L519.6 360.7L519.8 361.0L520.0 361.8L520.1 362.2L520.3 363.6L520.4 363.8L520.7 365.5L520.7 365.8L520.9 367.4L521.1 368.5L521.2 369.9L521.4 371.9L521.5 372.6L521.8 375.4L521.8 375.4L522.1 378.2L522.2 379.1L522.4 381.1L522.5 382.8L522.6 383.9L522.9 386.3L522.9 386.7L523.2 389.3L523.3 389.7L523.5 392.0L523.6 393.1L523.8 394.4L524.0 395.8L524.1 396.3L524.4 397.8L524.4 397.8L524.7 399.3L525.1 400.3L525.4 401.2L525.8 401.9L526.2 402.4L526.5 402.7L526.9 403.0L527.3 403.2L527.6 403.4L528.0 403.6L528.4 403.7L528.7 403.8L529.1 403.9L529.5 404.0L529.8 404.1L530.2 404.1L530.6 404.1L530.9 404.1L531.3 404.1L531.6 404.1L532.0 404.2L532.4 404.2L532.7 404.2L533.1 404.2L533.5 404.2L533.8 404.2L534.2 404.2L534.6 404.2L534.9 404.2L535.3 404.2L535.7 404.2L536.0 404.2L536.4 404.2L536.8 404.2L537.1 404.2L537.5 404.2L537.8 404.2L538.2 404.2L538.6 404.2L538.9 404.2L539.3 404.1L539.7 404.1L540.0 404.1L540.4 404.1L540.8 404.1L541.1 404.1L541.5 404.0" stroke="#ffc700"/><path d="M515.4 406.2L515.8 405.9L516.1 405.5L516.5 405.2L516.9 404.9L517.2 404.5L517.6 404.1L518.0 403.7L518.3 403.1L518.7 402.4L519.1 401.6L519.4 400.6L519.8 399.4L520.2 398.0L520.5 396.5L520.9 394.9L521.2 393.0L521.6 390.9L522.0 388.3L522.3 385.1L522.5 383.4L522.7 381.0L522.8 380.2L523.1 377.5L523.1 377.4L523.3 374.9L523.4 374.1L523.6 372.4L523.8 371.0L523.9 370.0L524.2 367.9L524.2 367.5L524.5 365.0L524.5 364.6L524.8 362.5L524.9 361.5L525.1 360.1L525.3 358.5L525.3 357.9L525.6 356.1L525.6 356.1L525.9 354.9L526.0 354.7L526.2 355.0L526.4 355.7L526.5 356.3L526.7 357.7L526.8 358.1L527.1 359.9L527.1 360.2L527.3 362.1L527.4 363.0L527.6 364.8L527.8 366.8L527.9 367.8L528.2 370.7L528.2 370.8L528.5 373.9L528.5 374.7L528.8 377.1L528.9 378.7L529.0 380.3L529.3 382.7L529.3 383.3L529.6 386.2L529.6 386.4L529.9 389.1L530.0 390.1L530.2 391.8L530.4 393.2L530.5 393.9L530.7 395.5L530.8 395.6L531.1 397.2L531.5 398.3L531.8 399.3L532.2 400.1L532.6 400.7L532.9 401.1L533.3 401.3L533.6 401.6L534.0 401.8L534.4 402.0L534.7 402.2L535.1 402.3L535.5 402.4L535.8 402.5L536.2 402.6L536.6 402.6L536.9 402.7L537.3 402.7L537.7 402.7L538.0 402.8L538.4 402.8L538.7 402.8L539.1 402.8L539.5 402.9L539.8 402.9L540.2 402.9L540.6 402.9L540.9 402.9L541.3 402.9L541.7 402.9L542.0 402.9L542.4 402.9L542.8 402.9L543.1 402.9L543.5 402.9L543.9 402.9L544.2 402.9L544.6 402.9L544.9 402.9L545.3 402.9L545.7 402.9L546.0 402.9L546.4 402.9L546.8 402.9L547.1 402.9L547.5 402.9L547.9 402.8" stroke="#ffab00"/><path d="M521.8 404.7L522.2 404.3L522.5 404.0L522.9 403.6L523.2 403.3L523.6 402.9L524.0 402.5L524.3 402.0L524.7 401.3L525.1 400.6L525.4 399.7L525.8 398.6L526.2 397.4L526.5 395.9L526.9 394.2L527.3 392.5L527.6 390.4L528.0 388.1L528.3 385.3L528.7 381.8L528.9 379.7L529.1 377.4L529.2 376.3L529.4 373.4L529.5 373.3L529.7 370.4L529.8 369.8L530.0 367.7L530.2 366.3L530.3 365.0L530.5 362.9L530.6 362.4L530.9 359.6L530.9 359.4L531.2 356.8L531.3 355.9L531.5 354.2L531.6 352.7L531.7 351.9L532.0 350.1L532.0 349.9L532.3 348.5L532.4 348.4L532.6 348.7L532.7 349.3L532.9 350.1L533.1 351.5L533.2 352.0L533.4 354.1L533.5 354.1L533.7 356.5L533.8 357.3L534.0 359.4L534.2 361.3L534.3 362.7L534.5 365.6L534.6 366.0L534.9 369.5L534.9 370.0L535.2 373.0L535.3 374.5L535.4 376.4L535.6 378.8L535.7 379.8L536.0 383.0L536.0 383.0L536.3 386.2L536.4 387.0L536.6 389.2L536.7 390.4L536.9 391.4L537.1 393.0L537.1 393.4L537.5 394.9L537.8 396.2L538.2 397.3L538.6 398.2L538.9 398.9L539.3 399.3L539.7 399.6L540.0 399.9L540.4 400.2L540.7 400.4L541.1 400.6L541.5 400.8L541.8 400.9L542.2 401.0L542.6 401.1L542.9 401.2L543.3 401.2L543.7 401.3L544.0 401.3L544.4 401.4L544.8 401.4L545.1 401.5L545.5 401.5L545.9 401.5L546.2 401.5L546.6 401.6L546.9 401.6L547.3 401.6L547.7 401.6L548.0 401.6L548.4 401.6L548.8 401.6L549.1 401.6L549.5 401.6L549.9 401.6L550.2 401.6L550.6 401.6L551.0 401.6L551.3 401.6L551.7 401.6L552.0 401.6L552.4 401.6L552.8 401.6L553.1 401.6L553.5 401.6L553.9 401.6L554.2 401.6" stroke="#ff9000"/><path d="M528.2 403.2L528.5 402.8L528.9 402.4L529.3 402.0L529.6 401.6L530.0 401.2L530.3 400.7L530.7 400.2L531.1 399.5L531.4 398.7L531.8 397.7L532.2 396.6L532.5 395.2L532.9 393.6L533.3 391.8L533.6 389.9L534.0 387.7L534.4 385.1L534.7 382.1L535.1 378.4L535.3 375.7L535.5 373.5L535.6 372.0L535.8 369.1L535.9 368.7L536.1 365.6L536.2 365.1L536.4 362.6L536.5 361.3L536.7 359.6L536.9 357.6L537.0 356.7L537.3 353.7L537.3 353.7L537.6 350.7L537.6 349.9L537.8 347.8L538.0 346.3L538.1 345.2L538.4 343.4L538.4 343.0L538.7 341.5L538.7 341.4L539.0 341.7L539.1 342.3L539.3 343.3L539.5 344.6L539.6 345.4L539.8 347.5L539.8 347.7L540.1 350.3L540.2 350.9L540.4 353.5L540.6 355.3L540.7 357.1L540.9 360.0L541.0 360.8L541.3 364.6L541.3 364.9L541.6 368.5L541.6 369.8L541.8 372.3L542.0 374.6L542.1 376.0L542.4 379.2L542.4 379.5L542.7 383.0L542.7 383.7L543.0 386.3L543.1 387.5L543.3 388.8L543.5 390.4L543.5 390.9L543.8 392.6L544.2 394.0L544.6 395.2L544.9 396.2L545.3 397.0L545.7 397.5L546.0 397.9L546.4 398.2L546.8 398.5L547.1 398.8L547.5 399.0L547.8 399.2L548.2 399.4L548.6 399.5L548.9 399.6L549.3 399.7L549.7 399.8L550.0 399.8L550.4 399.9L550.8 400.0L551.1 400.0L551.5 400.1L551.9 400.1L552.2 400.1L552.6 400.2L553.0 400.2L553.3 400.2L553.7 400.3L554.0 400.3L554.4 400.3L554.8 400.3L555.1 400.3L555.5 400.3L555.9 400.4L556.2 400.4L556.6 400.4L557.0 400.4L557.3 400.4L557.7 400.4L558.1 400.4L558.4 400.4L558.8 400.4L559.1 400.4L559.5 400.5L559.9 400.5L560.2 400.5L560.6 400.5" stroke="#ff7500"/><path d="M534.5 401.6L534.9 401.2L535.3 400.8L535.6 400.3L536.0 399.9L536.4 399.4L536.7 398.9L537.1 398.3L537.4 397.6L537.8 396.7L538.2 395.6L538.5 394.4L538.9 392.8L539.3 391.1L539.6 389.1L540.0 387.0L540.4 384.5L540.7 381.7L541.1 378.4L541.5 374.4L541.7 371.1L541.8 369.0L542.0 366.9L542.2 364.1L542.3 363.3L542.5 359.8L542.6 359.6L542.8 356.5L542.9 355.4L543.1 353.3L543.3 351.3L543.4 350.0L543.6 347.0L543.7 346.6L544.0 343.3L544.0 342.7L544.2 340.1L544.4 338.7L544.5 337.2L544.7 335.4L544.8 334.8L545.1 333.2L545.1 333.1L545.4 333.4L545.5 333.9L545.7 335.1L545.8 336.4L546.0 337.4L546.2 339.6L546.2 340.0L546.5 342.9L546.6 343.3L546.8 346.5L546.9 348.2L547.1 350.5L547.3 353.4L547.4 354.7L547.7 358.8L547.7 358.9L547.9 363.2L548.0 364.3L548.2 367.4L548.4 369.6L548.5 371.5L548.7 374.8L548.8 375.5L549.1 379.4L549.1 379.8L549.4 383.1L549.5 384.2L549.7 385.9L549.8 387.5L549.9 388.2L550.2 389.9L550.6 391.6L550.9 392.9L551.3 394.1L551.7 395.0L552.0 395.6L552.4 396.0L552.8 396.4L553.1 396.7L553.5 397.0L553.9 397.3L554.2 397.5L554.6 397.7L554.9 397.9L555.3 398.0L555.7 398.1L556.0 398.2L556.4 398.3L556.8 398.4L557.1 398.5L557.5 398.5L557.9 398.6L558.2 398.7L558.6 398.7L559.0 398.8L559.3 398.8L559.7 398.8L560.1 398.9L560.4 398.9L560.8 398.9L561.1 399.0L561.5 399.0L561.9 399.0L562.2 399.1L562.6 399.1L563.0 399.1L563.3 399.1L563.7 399.1L564.1 399.2L564.4 399.2L564.8 399.2L565.2 399.2L565.5 399.2L565.9 399.2L566.3 399.3L566.6 399.3L567.0 399.3" stroke="#ff5900"/><path d="M540.9 399.9L541.3 399.4L541.6 399.0L542.0 398.5L542.4 397.9L542.7 397.4L543.1 396.8L543.5 396.2L543.8 395.4L544.2 394.4L544.5 393.1L544.9 391.8L545.3 390.1L545.6 388.0L546.0 385.8L546.4 383.4L546.7 380.7L547.1 377.5L547.5 373.8L547.8 369.3L548.1 365.2L548.2 363.2L548.4 360.5L548.6 357.6L548.6 356.4L548.9 352.5L548.9 352.4L549.2 348.6L549.3 347.7L549.5 345.0L549.7 343.0L549.8 341.3L550.0 338.2L550.1 337.4L550.4 333.7L550.4 333.3L550.6 330.0L550.7 328.8L550.9 326.8L551.1 324.9L551.2 324.0L551.5 322.2L551.5 322.1L551.8 322.4L551.8 322.8L552.1 324.4L552.2 325.6L552.3 327.0L552.6 329.3L552.6 329.9L552.9 333.2L552.9 333.4L553.2 337.3L553.3 338.9L553.5 342.0L553.7 344.8L553.8 346.7L554.0 351.0L554.1 351.5L554.3 356.4L554.4 357.2L554.6 361.2L554.8 363.4L554.9 365.9L555.1 369.3L555.2 370.4L555.5 374.9L555.5 375.0L555.8 379.1L555.9 380.1L556.1 382.2L556.2 383.9L556.3 385.0L556.6 386.8L556.9 388.7L557.3 390.3L557.7 391.6L558.0 392.6L558.4 393.4L558.8 393.9L559.1 394.3L559.5 394.7L559.9 395.1L560.2 395.4L560.6 395.7L561.0 395.9L561.3 396.1L561.7 396.3L562.0 396.4L562.4 396.6L562.8 396.7L563.1 396.8L563.5 396.9L563.9 397.0L564.2 397.1L564.6 397.1L565.0 397.2L565.3 397.3L565.7 397.3L566.1 397.4L566.4 397.4L566.8 397.5L567.2 397.5L567.5 397.6L567.9 397.6L568.2 397.7L568.6 397.7L569.0 397.7L569.3 397.8L569.7 397.8L570.1 397.9L570.4 397.9L570.8 397.9L571.2 398.0L571.5 398.0L571.9 398.0L572.3 398.0L572.6 398.0L573.0 398.1L573.4 398.1" stroke="#ff3e00"/><path d="M547.3 398.2L547.6 397.7L548.0 397.2L548.4 396.6L548.7 396.0L549.1 395.5L549.5 394.8L549.8 394.1L550.2 393.2L550.6 392.1L550.9 390.8L551.3 389.2L551.6 387.3L552.0 385.1L552.4 382.6L552.7 380.0L553.1 377.0L553.5 373.5L553.8 369.4L554.2 364.4L554.5 359.5L554.6 357.7L554.8 354.3L554.9 351.4L555.0 349.7L555.3 345.7L555.3 345.3L555.6 341.0L555.7 340.3L555.9 336.9L556.0 335.1L556.2 332.8L556.4 329.7L556.5 328.5L556.8 324.3L556.8 324.3L557.0 320.3L557.1 319.2L557.3 316.7L557.5 314.8L557.6 313.6L557.8 311.7L557.9 311.5L558.2 311.8L558.2 312.0L558.5 314.0L558.6 315.2L558.7 317.0L558.9 319.2L559.0 320.2L559.3 323.8L559.3 323.9L559.6 328.5L559.7 329.8L559.9 333.7L560.0 336.4L560.2 338.9L560.4 343.3L560.5 344.3L560.7 349.8L560.8 350.3L561.0 355.2L561.1 357.2L561.3 360.4L561.5 363.8L561.6 365.5L561.9 370.2L561.9 370.5L562.2 375.2L562.2 376.0L562.4 378.7L562.6 380.3L562.7 381.8L563.0 383.6L563.3 385.8L563.7 387.6L564.0 389.1L564.4 390.3L564.8 391.2L565.1 391.7L565.5 392.3L565.9 392.7L566.2 393.2L566.6 393.5L567.0 393.9L567.3 394.1L567.7 394.4L568.1 394.6L568.4 394.8L568.8 394.9L569.2 395.1L569.5 395.2L569.9 395.3L570.2 395.4L570.6 395.5L571.0 395.6L571.3 395.7L571.7 395.8L572.1 395.9L572.4 395.9L572.8 396.0L573.2 396.1L573.5 396.1L573.9 396.2L574.3 396.2L574.6 396.3L575.0 396.4L575.3 396.4L575.7 396.5L576.1 396.5L576.4 396.6L576.8 396.6L577.2 396.7L577.5 396.7L577.9 396.7L578.3 396.8L578.6 396.8L579.0 396.8L579.4 396.9L579.7 396.9" stroke="#ff2200"/><path d="M553.6 396.3L554.0 395.8L554.4 395.2L554.7 394.6L555.1 393.9L555.5 393.2L555.8 392.5L556.2 391.7L556.6 390.7L556.9 389.4L557.3 387.9L557.7 386.2L558.0 384.0L558.4 381.5L558.8 378.7L559.1 375.7L559.5 372.3L559.8 368.3L560.2 363.7L560.6 358.1L560.9 352.1L560.9 350.5L561.2 346.0L561.3 343.2L561.4 340.8L561.7 336.7L561.7 335.7L562.0 330.9L562.0 330.5L562.3 326.2L562.4 324.5L562.6 321.5L562.8 318.3L562.9 316.6L563.1 312.1L563.1 311.8L563.4 307.2L563.5 306.2L563.7 303.0L563.9 301.2L564.0 299.5L564.2 297.6L564.3 297.1L564.6 297.4L564.6 297.5L564.9 300.0L564.9 301.0L565.1 303.4L565.3 305.6L565.4 307.1L565.7 310.8L565.7 311.3L566.0 316.6L566.0 317.6L566.3 322.5L566.4 325.2L566.6 328.6L566.8 333.1L566.8 334.8L567.1 341.0L567.1 341.1L567.4 347.3L567.5 349.0L567.7 353.3L567.9 356.6L568.0 359.1L568.2 364.0L568.3 364.8L568.6 370.2L568.6 370.8L568.8 374.3L569.0 375.8L569.1 377.8L569.3 379.7L569.7 382.3L570.1 384.4L570.4 386.1L570.8 387.5L571.1 388.6L571.5 389.3L571.9 389.9L572.2 390.5L572.6 391.0L573.0 391.4L573.3 391.8L573.7 392.1L574.1 392.4L574.4 392.7L574.8 392.9L575.2 393.1L575.5 393.2L575.9 393.4L576.3 393.5L576.6 393.7L577.0 393.8L577.3 393.9L577.7 394.0L578.1 394.1L578.4 394.2L578.8 394.3L579.2 394.4L579.5 394.5L579.9 394.6L580.3 394.7L580.6 394.8L581.0 394.9L581.4 395.0L581.7 395.2L582.1 395.3L582.4 395.4L582.8 395.5L583.2 395.6L583.5 395.8L583.9 395.9L584.3 396.0L584.6 396.1L585.0 396.2L585.4 396.3L585.7 396.5L586.1 396.6" stroke="#ff0700"/><path d="M560.0 394.5L560.4 393.9L560.7 393.2L561.1 392.5L561.5 391.7L561.8 391.0L562.2 390.2L562.6 389.2L562.9 388.1L563.3 386.7L563.7 385.0L564.0 383.1L564.4 380.7L564.8 377.9L565.1 374.8L565.5 371.4L565.9 367.5L566.2 363.1L566.6 357.9L566.9 351.7L567.3 344.5L567.3 343.3L567.5 337.7L567.7 335.0L567.8 331.7L568.0 327.6L568.1 326.1L568.4 320.6L568.4 320.6L568.7 315.3L568.8 313.8L569.0 310.0L569.1 306.9L569.3 304.5L569.5 299.8L569.5 299.0L569.8 293.8L569.9 293.2L570.1 289.1L570.2 287.4L570.4 285.2L570.6 283.2L570.7 282.4L571.0 282.7L571.0 282.8L571.3 285.7L571.3 286.6L571.5 289.5L571.7 291.7L571.8 293.7L572.1 297.6L572.1 298.6L572.4 304.5L572.4 305.1L572.7 311.2L572.8 313.7L573.0 318.1L573.1 322.6L573.2 325.0L573.5 331.6L573.5 332.1L573.8 339.2L573.9 340.6L574.1 346.0L574.2 349.2L574.4 352.6L574.6 357.5L574.7 359.1L575.0 365.2L575.0 365.4L575.2 369.8L575.3 371.2L575.5 373.7L575.7 375.7L576.1 378.7L576.4 381.1L576.8 383.1L577.2 384.7L577.5 385.9L577.9 386.8L578.2 387.5L578.6 388.1L579.0 388.7L579.3 389.2L579.7 389.6L580.1 390.0L580.4 390.3L580.8 390.7L581.2 391.0L581.5 391.3L581.9 391.6L582.3 391.8L582.6 392.1L583.0 392.3L583.4 392.5L583.7 392.8L584.1 393.0L584.4 393.2L584.8 393.3L585.2 393.5L585.5 393.7L585.9 393.9L586.3 394.0L586.6 394.2L587.0 394.4L587.4 394.6L587.7 394.7L588.1 394.9L588.5 395.1L588.8 395.2L589.2 395.4L589.6 395.5L589.9 395.7L590.3 395.8L590.6 396.0L591.0 396.1L591.4 396.2L591.7 396.3L592.1 396.5L592.5 396.6" stroke="#eb0000"/></g><path d="M472.6 409.4L541.6 339.9" stroke="#3a3a3a" stroke-width="1.7" fill="none"/><rect x="357.9" y="277.3" width="220.5" height="146.7" fill="none" stroke="#adadad" stroke-width="1.15"/><path d="M400.6 424.0v-2.2M400.6 277.3v2.2M459.6 424.0v-2.2M459.6 277.3v2.2M518.6 424.0v-2.2M518.6 277.3v2.2M357.9 409.4h2.2M578.4 409.4h-2.2M357.9 380.1h2.2M578.4 380.1h-2.2M357.9 350.7h2.2M578.4 350.7h-2.2M357.9 321.4h2.2M578.4 321.4h-2.2M357.9 292h2.2M578.4 292h-2.2" stroke="#adadad" stroke-width="0.7" fill="none"/><text x="353" y="413.6" font-size="12" class="k" fill="#222222" text-anchor="end">2</text><text x="353" y="384.3" font-size="12" class="k" fill="#222222" text-anchor="end">3</text><text x="353" y="354.9" font-size="12" class="k" fill="#222222" text-anchor="end">4</text><text x="353" y="325.6" font-size="12" class="k" fill="#222222" text-anchor="end">5</text><text x="353" y="296.2" font-size="12" class="k" fill="#222222" text-anchor="end">6</text><text x="401.8" y="438.4" font-size="12" class="k" fill="#222222" text-anchor="middle">–5</text><text x="459.6" y="438.4" font-size="12" class="k" fill="#222222" text-anchor="middle">0</text><text x="518.6" y="438.4" font-size="12" class="k" fill="#222222" text-anchor="middle">5</text><text x="578.6" y="438.4" font-size="12" class="k" fill="#222222" text-anchor="middle">10</text><text x="441.6" y="456.6" font-size="12" class="k" fill="#222222"><tspan font-style="italic">V</tspan><tspan font-size="9.3" dy="3">t,scan</tspan><tspan dy="-3"> (V)</tspan></text><text transform="translate(338.9 351.8) rotate(-90)" font-size="12.8" class="k" fill="#222222" text-anchor="middle">ln <tspan font-style="italic" dx="0.6">R</tspan></text><rect x="390.5" y="285.2" width="28.9" height="13" fill="#BF9000"/><rect x="423" y="285.2" width="28.9" height="13" fill="#4472C4"/><rect x="390.5" y="306.5" width="28.9" height="13" fill="#4472C4"/><rect x="423.6" y="306.5" width="28.9" height="13" fill="#BF9000"/><path d="M382.1 302.2H457.5" stroke="#4d4d4d" stroke-width="2" fill="none"/><text x="404.9" y="295.3" font-size="10.5" font-weight="bold" fill="#fff" text-anchor="middle">+</text><text x="404.9" y="317.2" font-size="12" font-weight="bold" fill="#fff" text-anchor="middle">–</text><text x="436.8" y="294.6" font-size="10.4" font-weight="bold" fill="#fff" text-anchor="middle"><tspan font-style="italic">V</tspan><tspan font-size="7.6" dy="2.6" dx="-0.9">t</tspan></text><text x="437.4" y="315.9" font-size="10.4" font-weight="bold" fill="#fff" text-anchor="middle"><tspan font-style="italic">V</tspan><tspan font-size="7.6" dy="2.6" dx="-0.9">b</tspan></text><rect x="476.4" y="285.6" width="28.8" height="13" fill="#BF9000"/><rect x="508.8" y="285.6" width="28.8" height="13" fill="#BF9000"/><rect x="476.4" y="306.9" width="28.8" height="13" fill="#4472C4"/><rect x="509.4" y="306.9" width="28.8" height="13" fill="#4472C4"/><path d="M468 302.2H544.1" stroke="#4d4d4d" stroke-width="2" fill="none"/><text x="490.8" y="295.7" font-size="10.5" font-weight="bold" fill="#fff" text-anchor="middle">+</text><text x="490.8" y="317.6" font-size="12" font-weight="bold" fill="#fff" text-anchor="middle">–</text><text x="522.6" y="295" font-size="10.4" font-weight="bold" fill="#fff" text-anchor="middle"><tspan font-style="italic">V</tspan><tspan font-size="7.6" dy="2.6" dx="-0.9">t</tspan></text><text x="523.2" y="316.3" font-size="10.4" font-weight="bold" fill="#fff" text-anchor="middle"><tspan font-style="italic">V</tspan><tspan font-size="7.6" dy="2.6" dx="-0.9">b</tspan></text></g>
<text transform="translate(29.2 30.0) scale(0.82 1)" font-size="17.2" font-weight="bold" fill="#0a0a0a" stroke="#0a0a0a" stroke-width="0.8" stroke-linejoin="round">a</text><text transform="translate(306.0 29.8) scale(0.98 1)" font-size="14.6" font-weight="bold" fill="#0a0a0a" stroke="#0a0a0a" stroke-width="0.8" stroke-linejoin="round">b</text><text transform="translate(29.2 279.4) scale(0.82 1)" font-size="17.2" font-weight="bold" fill="#0a0a0a" stroke="#0a0a0a" stroke-width="0.8" stroke-linejoin="round">c</text><text transform="translate(306.8 278.9) scale(0.98 1)" font-size="14.6" font-weight="bold" fill="#0a0a0a" stroke="#0a0a0a" stroke-width="0.8" stroke-linejoin="round">d</text>
</svg>
</body></html>
